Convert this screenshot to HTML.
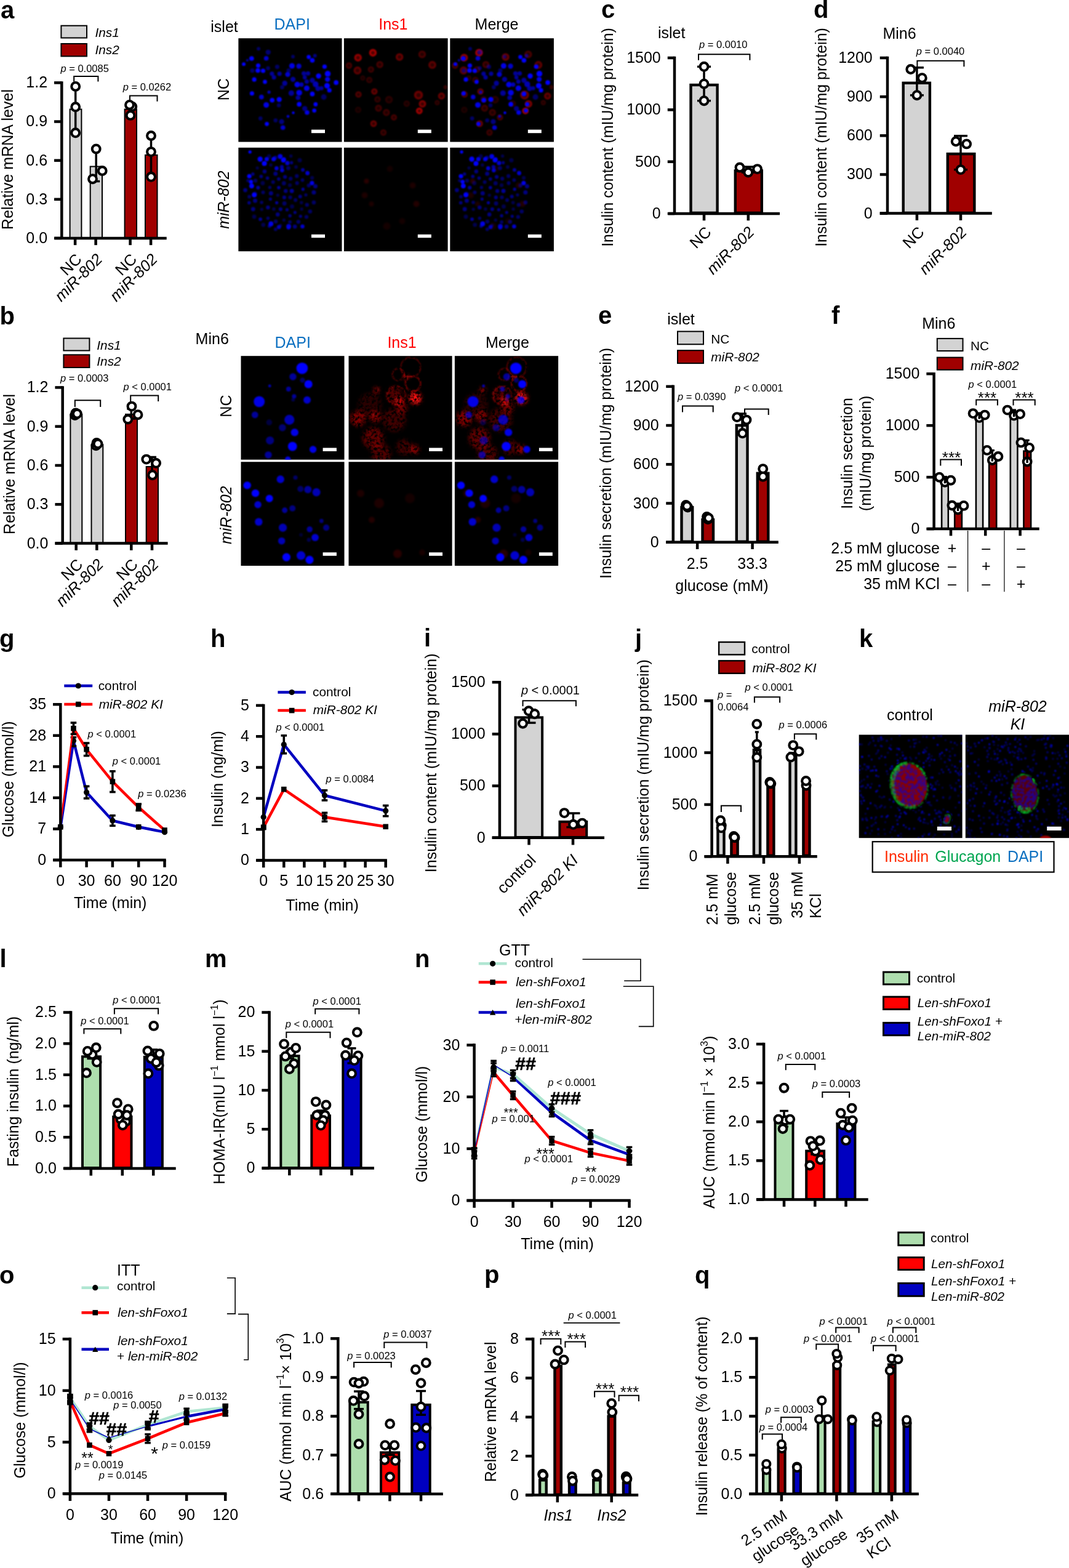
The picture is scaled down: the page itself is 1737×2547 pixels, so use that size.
<!DOCTYPE html>
<html lang="en"><head><meta charset="utf-8"><title>Figure</title>
<style>html,body{margin:0;padding:0;background:#fff}svg{display:block}text{font-family:"Liberation Sans",Arial,Helvetica,sans-serif;fill:#000}line{stroke:#000}</style></head>
<body>
<svg width="1737" height="2547" viewBox="0 0 1737 2547">
<defs><filter id="b1" x="-50%" y="-50%" width="200%" height="200%"><feGaussianBlur stdDeviation="0.9"/></filter><filter id="b2" x="-50%" y="-50%" width="200%" height="200%"><feGaussianBlur stdDeviation="1.6"/></filter><filter id="b3" x="-50%" y="-50%" width="200%" height="200%"><feGaussianBlur stdDeviation="3"/></filter><filter id="spk" x="0" y="0" width="100%" height="100%"><feTurbulence type="fractalNoise" baseFrequency="0.22" numOctaves="2" seed="4" result="n"/><feColorMatrix in="n" type="matrix" values="0 0 0 0 0  0 0 0 0 0  0 0 0 0 0  3 0 0 0 -0.8" result="a"/><feComposite in="SourceGraphic" in2="a" operator="in"/></filter><filter id="b0" x="-5%" y="-5%" width="110%" height="110%"><feGaussianBlur stdDeviation="0.8"/></filter><clipPath id="ca00"><rect x="387.4" y="62.2" width="168.1" height="168.3"/></clipPath><clipPath id="ca01"><rect x="558.9" y="62.2" width="168.7" height="168.3"/></clipPath><clipPath id="ca02"><rect x="731.3" y="62.2" width="168.6" height="168.3"/></clipPath><clipPath id="ca10"><rect x="387.4" y="239.8" width="168.1" height="168.4"/></clipPath><clipPath id="ca11"><rect x="558.9" y="239.8" width="168.7" height="168.4"/></clipPath><clipPath id="ca12"><rect x="731.3" y="239.8" width="168.6" height="168.4"/></clipPath><clipPath id="cb00"><rect x="391.5" y="578.2" width="168" height="168.45"/></clipPath><clipPath id="cb01"><rect x="566.5" y="578.2" width="168.1" height="168.45"/></clipPath><clipPath id="cb02"><rect x="738.9" y="578.2" width="168.2" height="168.45"/></clipPath><clipPath id="cb10"><rect x="391.5" y="750.25" width="168" height="168.75"/></clipPath><clipPath id="cb11"><rect x="566.5" y="750.25" width="168.1" height="168.75"/></clipPath><clipPath id="cb12"><rect x="738.9" y="750.25" width="168.2" height="168.75"/></clipPath><clipPath id="ck0"><rect x="1395.7" y="1193.5" width="167.9" height="167.7"/></clipPath><clipPath id="ck1"><rect x="1568.8" y="1193.5" width="168.2" height="167.7"/></clipPath></defs>
<text x="1" y="30" font-size="40" font-weight="bold">a</text>
<rect x="99.4" y="41.7" width="41.6" height="19.8" fill="#d3d3d3" stroke="#000" stroke-width="2"/>
<rect x="99.4" y="71" width="41.6" height="20.4" fill="#a00000" stroke="#000" stroke-width="2"/>
<text x="154.5" y="60.2" font-size="20.8" font-style="italic">Ins1</text>
<text x="154.5" y="88" font-size="20.8" font-style="italic">Ins2</text>
<rect x="113.6" y="177.5" width="18.8" height="209.5" fill="#d3d3d3" stroke="#000" stroke-width="2"/>
<rect x="146.7" y="270.5" width="19.3" height="116.5" fill="#d3d3d3" stroke="#000" stroke-width="2"/>
<rect x="202.6" y="177.5" width="19.4" height="209.5" fill="#a00000" stroke="#000" stroke-width="2"/>
<rect x="236" y="251.8" width="19.5" height="135.2" fill="#a00000" stroke="#000" stroke-width="2"/>
<line x1="100.3" y1="132.15" x2="100.3" y2="386.9" stroke-width="4.5"/>
<line x1="88.05" y1="134.4" x2="100.3" y2="134.4" stroke-width="4.5"/>
<text x="77.05" y="142.35" font-size="25" text-anchor="end">1.2</text>
<line x1="88.05" y1="197.53" x2="100.3" y2="197.53" stroke-width="4.5"/>
<text x="77.05" y="205.47" font-size="25" text-anchor="end">0.9</text>
<line x1="88.05" y1="260.65" x2="100.3" y2="260.65" stroke-width="4.5"/>
<text x="77.05" y="268.6" font-size="25" text-anchor="end">0.6</text>
<line x1="88.05" y1="323.77" x2="100.3" y2="323.77" stroke-width="4.5"/>
<text x="77.05" y="331.72" font-size="25" text-anchor="end">0.3</text>
<line x1="88.05" y1="386.9" x2="100.3" y2="386.9" stroke-width="4.5"/>
<text x="77.05" y="394.85" font-size="25" text-anchor="end">0.0</text>
<line x1="88.6" y1="386.9" x2="270.7" y2="386.9" stroke-width="4.5"/>
<line x1="122.1" y1="386.9" x2="122.1" y2="398.15" stroke-width="4.5"/>
<line x1="155.6" y1="386.9" x2="155.6" y2="398.15" stroke-width="4.5"/>
<line x1="211.6" y1="386.9" x2="211.6" y2="398.15" stroke-width="4.5"/>
<line x1="245.1" y1="386.9" x2="245.1" y2="398.15" stroke-width="4.5"/>
<line x1="122.7" y1="140.4" x2="122.7" y2="215.8" stroke-width="3.5"/>
<circle cx="122.7" cy="140.4" r="6.4" fill="#fff" stroke="#000" stroke-width="4.1"/>
<circle cx="122.7" cy="173.8" r="6.4" fill="#fff" stroke="#000" stroke-width="4.1"/>
<circle cx="122.7" cy="215.8" r="6.4" fill="#fff" stroke="#000" stroke-width="4.1"/>
<line x1="156.2" y1="242" x2="156.2" y2="294.5" stroke-width="3.5"/>
<line x1="150.2" y1="294.5" x2="162.2" y2="294.5" stroke-width="3.5"/>
<circle cx="156.2" cy="241.9" r="6.4" fill="#fff" stroke="#000" stroke-width="4.1"/>
<circle cx="166.2" cy="277.5" r="6.4" fill="#fff" stroke="#000" stroke-width="4.1"/>
<circle cx="150.5" cy="290.7" r="6.4" fill="#fff" stroke="#000" stroke-width="4.1"/>
<circle cx="214.8" cy="173.2" r="6.4" fill="#fff" stroke="#000" stroke-width="4.1"/>
<circle cx="210.5" cy="170.4" r="6.4" fill="#fff" stroke="#000" stroke-width="4.1"/>
<circle cx="212" cy="187.4" r="6.4" fill="#fff" stroke="#000" stroke-width="4.1"/>
<line x1="245.5" y1="220.5" x2="245.5" y2="287.3" stroke-width="3.5"/>
<circle cx="245.5" cy="220.5" r="6.4" fill="#fff" stroke="#000" stroke-width="4.1"/>
<circle cx="245.5" cy="246.6" r="6.4" fill="#fff" stroke="#000" stroke-width="4.1"/>
<circle cx="245.5" cy="287.3" r="6.4" fill="#fff" stroke="#000" stroke-width="4.1"/>
<text font-size="16.5" x="98.4" y="117"><tspan font-style="italic">p</tspan><tspan> = 0.0085</tspan></text>
<polyline points="120.2,132.5 120.2,124 159.4,124 159.4,132.5" fill="none" stroke="#000" stroke-width="2" stroke-linejoin="miter"/>
<text font-size="16.5" x="199.7" y="146.7"><tspan font-style="italic">p</tspan><tspan> = 0.0262</tspan></text>
<polyline points="211,164.7 211,155.6 255.5,155.6 255.5,164.7" fill="none" stroke="#000" stroke-width="2" stroke-linejoin="miter"/>
<text font-size="25" text-anchor="middle" transform="translate(20.8 259) rotate(-90)">Relative mRNA level</text>
<text font-size="25.6" text-anchor="end" transform="translate(134.3 422.8) rotate(-45)">NC</text>
<text font-size="25.6" text-anchor="end" font-style="italic" transform="translate(167.9 422.8) rotate(-45)">miR-802</text>
<text font-size="25.6" text-anchor="end" transform="translate(223.8 422.8) rotate(-45)">NC</text>
<text font-size="25.6" text-anchor="end" font-style="italic" transform="translate(257.3 422.8) rotate(-45)">miR-802</text>
<text x="977" y="29" font-size="40" font-weight="bold">c</text>
<text x="1069" y="62.3" font-size="25">islet</text>
<rect x="1122.5" y="138" width="43.1" height="207.8" fill="#d3d3d3" stroke="#000" stroke-width="4.4"/>
<rect x="1194.8" y="277.4" width="43" height="68.4" fill="#a00000" stroke="#000" stroke-width="4.4"/>
<line x1="1096" y1="91.75" x2="1096" y2="347" stroke-width="4.5"/>
<line x1="1084.75" y1="94" x2="1096" y2="94" stroke-width="4.5"/>
<text x="1073.75" y="101.95" font-size="25" text-anchor="end">1500</text>
<line x1="1084.75" y1="178.33" x2="1096" y2="178.33" stroke-width="4.5"/>
<text x="1073.75" y="186.28" font-size="25" text-anchor="end">1000</text>
<line x1="1084.75" y1="262.67" x2="1096" y2="262.67" stroke-width="4.5"/>
<text x="1073.75" y="270.62" font-size="25" text-anchor="end">500</text>
<line x1="1084.75" y1="347" x2="1096" y2="347" stroke-width="4.5"/>
<text x="1073.75" y="354.95" font-size="25" text-anchor="end">0</text>
<line x1="1085.9" y1="347" x2="1267" y2="347" stroke-width="4.5"/>
<line x1="1144" y1="347" x2="1144" y2="358.25" stroke-width="4.5"/>
<line x1="1215.8" y1="347" x2="1215.8" y2="358.25" stroke-width="4.5"/>
<line x1="1144" y1="108.3" x2="1144" y2="163.7" stroke-width="3.5"/>
<line x1="1133" y1="108.3" x2="1155" y2="108.3" stroke-width="3.5"/>
<line x1="1133" y1="163.7" x2="1155" y2="163.7" stroke-width="3.5"/>
<circle cx="1144" cy="108.3" r="6.4" fill="#fff" stroke="#000" stroke-width="4.1"/>
<circle cx="1144" cy="136.2" r="6.4" fill="#fff" stroke="#000" stroke-width="4.1"/>
<circle cx="1144" cy="163.7" r="6.4" fill="#fff" stroke="#000" stroke-width="4.1"/>
<line x1="1215.8" y1="271" x2="1215.8" y2="280" stroke-width="3.5"/>
<line x1="1204.8" y1="271" x2="1226.8" y2="271" stroke-width="3.5"/>
<line x1="1204.8" y1="280" x2="1226.8" y2="280" stroke-width="3.5"/>
<circle cx="1202" cy="272" r="6.4" fill="#fff" stroke="#000" stroke-width="4.1"/>
<circle cx="1230.6" cy="274.6" r="6.4" fill="#fff" stroke="#000" stroke-width="4.1"/>
<circle cx="1215.8" cy="280" r="6.4" fill="#fff" stroke="#000" stroke-width="4.1"/>
<text font-size="16.5" x="1136" y="78.2"><tspan font-style="italic">p</tspan><tspan> = 0.0010</tspan></text>
<polyline points="1135,97.7 1135,88.2 1218.4,88.2 1218.4,97.7" fill="none" stroke="#000" stroke-width="2" stroke-linejoin="miter"/>
<text font-size="25" text-anchor="middle" transform="translate(996 223) rotate(-90)">Insulin content (mIU/mg protein)</text>
<text font-size="25.6" text-anchor="end" transform="translate(1157.3 378.8) rotate(-45)">NC</text>
<text font-size="25.6" text-anchor="end" font-style="italic" transform="translate(1227.1 378.8) rotate(-45)">miR-802</text>
<text x="1322" y="29" font-size="40" font-weight="bold">d</text>
<text x="1434.4" y="63.4" font-size="25">Min6</text>
<rect x="1467.7" y="134.8" width="43.2" height="211" fill="#d3d3d3" stroke="#000" stroke-width="4.4"/>
<rect x="1539.8" y="250" width="43.5" height="95.8" fill="#a00000" stroke="#000" stroke-width="4.4"/>
<line x1="1442" y1="91.75" x2="1442" y2="346.6" stroke-width="4.5"/>
<line x1="1429.75" y1="94" x2="1442" y2="94" stroke-width="4.5"/>
<text x="1417.75" y="101.95" font-size="25" text-anchor="end">1200</text>
<line x1="1429.75" y1="157.15" x2="1442" y2="157.15" stroke-width="4.5"/>
<text x="1417.75" y="165.1" font-size="25" text-anchor="end">900</text>
<line x1="1429.75" y1="220.3" x2="1442" y2="220.3" stroke-width="4.5"/>
<text x="1417.75" y="228.25" font-size="25" text-anchor="end">600</text>
<line x1="1429.75" y1="283.45" x2="1442" y2="283.45" stroke-width="4.5"/>
<text x="1417.75" y="291.4" font-size="25" text-anchor="end">300</text>
<line x1="1429.75" y1="346.6" x2="1442" y2="346.6" stroke-width="4.5"/>
<text x="1417.75" y="354.55" font-size="25" text-anchor="end">0</text>
<line x1="1429.7" y1="346.6" x2="1611.8" y2="346.6" stroke-width="4.5"/>
<line x1="1489.9" y1="346.6" x2="1489.9" y2="357.85" stroke-width="4.5"/>
<line x1="1561" y1="346.6" x2="1561" y2="357.85" stroke-width="4.5"/>
<line x1="1489.9" y1="109.8" x2="1489.9" y2="154.7" stroke-width="3.5"/>
<line x1="1478.9" y1="109.8" x2="1500.9" y2="109.8" stroke-width="3.5"/>
<line x1="1478.9" y1="154.7" x2="1500.9" y2="154.7" stroke-width="3.5"/>
<circle cx="1479.8" cy="112.5" r="6.4" fill="#fff" stroke="#000" stroke-width="4.1"/>
<circle cx="1498.3" cy="126.7" r="6.4" fill="#fff" stroke="#000" stroke-width="4.1"/>
<circle cx="1489.9" cy="154.7" r="6.4" fill="#fff" stroke="#000" stroke-width="4.1"/>
<line x1="1561" y1="220.7" x2="1561" y2="275.6" stroke-width="3.5"/>
<line x1="1550" y1="220.7" x2="1572" y2="220.7" stroke-width="3.5"/>
<line x1="1550" y1="275.6" x2="1572" y2="275.6" stroke-width="3.5"/>
<circle cx="1553.2" cy="229.7" r="6.4" fill="#fff" stroke="#000" stroke-width="4.1"/>
<circle cx="1570.6" cy="233.9" r="6.4" fill="#fff" stroke="#000" stroke-width="4.1"/>
<circle cx="1561" cy="275.6" r="6.4" fill="#fff" stroke="#000" stroke-width="4.1"/>
<text font-size="16.5" x="1488.8" y="88.7"><tspan font-style="italic">p</tspan><tspan> = 0.0040</tspan></text>
<polyline points="1490.4,108.3 1490.4,98.7 1566.4,98.7 1566.4,108.3" fill="none" stroke="#000" stroke-width="2" stroke-linejoin="miter"/>
<text font-size="25" text-anchor="middle" transform="translate(1343.2 223) rotate(-90)">Insulin content (mIU/mg protein)</text>
<text font-size="25.6" text-anchor="end" transform="translate(1503.3 378.8) rotate(-45)">NC</text>
<text font-size="25.6" text-anchor="end" font-style="italic" transform="translate(1572.3 378.8) rotate(-45)">miR-802</text>
<text x="-0.5" y="526.6" font-size="40" font-weight="bold">b</text>
<rect x="103.4" y="549.5" width="42" height="20" fill="#d3d3d3" stroke="#000" stroke-width="2"/>
<rect x="103.4" y="576.3" width="42" height="20.7" fill="#a00000" stroke="#000" stroke-width="2"/>
<text x="157.3" y="567.6" font-size="20.8" font-style="italic">Ins1</text>
<text x="157.3" y="594.3" font-size="20.8" font-style="italic">Ins2</text>
<rect x="114.4" y="672.9" width="18.9" height="210.1" fill="#d3d3d3" stroke="#000" stroke-width="2"/>
<rect x="148.5" y="722.2" width="18.8" height="160.8" fill="#d3d3d3" stroke="#000" stroke-width="2"/>
<rect x="204" y="672.9" width="19" height="210.1" fill="#a00000" stroke="#000" stroke-width="2"/>
<rect x="237.7" y="758" width="19.3" height="125" fill="#a00000" stroke="#000" stroke-width="2"/>
<line x1="101.7" y1="627.15" x2="101.7" y2="882.6" stroke-width="4.5"/>
<line x1="89.45" y1="629.4" x2="101.7" y2="629.4" stroke-width="4.5"/>
<text x="78.45" y="637.35" font-size="25" text-anchor="end">1.2</text>
<line x1="89.45" y1="692.7" x2="101.7" y2="692.7" stroke-width="4.5"/>
<text x="78.45" y="700.65" font-size="25" text-anchor="end">0.9</text>
<line x1="89.45" y1="756" x2="101.7" y2="756" stroke-width="4.5"/>
<text x="78.45" y="763.95" font-size="25" text-anchor="end">0.6</text>
<line x1="89.45" y1="819.3" x2="101.7" y2="819.3" stroke-width="4.5"/>
<text x="78.45" y="827.25" font-size="25" text-anchor="end">0.3</text>
<line x1="89.45" y1="882.6" x2="101.7" y2="882.6" stroke-width="4.5"/>
<text x="78.45" y="890.55" font-size="25" text-anchor="end">0.0</text>
<line x1="89.6" y1="882.6" x2="272.6" y2="882.6" stroke-width="4.5"/>
<line x1="123.7" y1="882.6" x2="123.7" y2="893.85" stroke-width="4.5"/>
<line x1="157.3" y1="882.6" x2="157.3" y2="893.85" stroke-width="4.5"/>
<line x1="213.3" y1="882.6" x2="213.3" y2="893.85" stroke-width="4.5"/>
<line x1="247" y1="882.6" x2="247" y2="893.85" stroke-width="4.5"/>
<circle cx="121.8" cy="674.6" r="6.4" fill="#fff" stroke="#000" stroke-width="4.1"/>
<circle cx="123" cy="671" r="6.4" fill="#fff" stroke="#000" stroke-width="4.1"/>
<circle cx="125.3" cy="672.1" r="6.4" fill="#fff" stroke="#000" stroke-width="4.1"/>
<circle cx="156" cy="723.8" r="6.4" fill="#fff" stroke="#000" stroke-width="4.1"/>
<circle cx="157" cy="719.5" r="6.4" fill="#fff" stroke="#000" stroke-width="4.1"/>
<circle cx="159" cy="720.9" r="6.4" fill="#fff" stroke="#000" stroke-width="4.1"/>
<line x1="213.3" y1="664" x2="213.3" y2="680" stroke-width="3.5"/>
<line x1="206.3" y1="664" x2="220.3" y2="664" stroke-width="3.5"/>
<line x1="206.3" y1="680" x2="220.3" y2="680" stroke-width="3.5"/>
<circle cx="214" cy="660.1" r="6.4" fill="#fff" stroke="#000" stroke-width="4.1"/>
<circle cx="224" cy="673.7" r="6.4" fill="#fff" stroke="#000" stroke-width="4.1"/>
<circle cx="207.8" cy="681" r="6.4" fill="#fff" stroke="#000" stroke-width="4.1"/>
<line x1="247" y1="742.5" x2="247" y2="771" stroke-width="3.5"/>
<line x1="240" y1="742.5" x2="254" y2="742.5" stroke-width="3.5"/>
<line x1="240" y1="771" x2="254" y2="771" stroke-width="3.5"/>
<circle cx="237.8" cy="746.1" r="6.4" fill="#fff" stroke="#000" stroke-width="4.1"/>
<circle cx="253.6" cy="752.3" r="6.4" fill="#fff" stroke="#000" stroke-width="4.1"/>
<circle cx="247.7" cy="771.7" r="6.4" fill="#fff" stroke="#000" stroke-width="4.1"/>
<text font-size="16.5" x="98" y="619.9"><tspan font-style="italic">p</tspan><tspan> = 0.0003</tspan></text>
<polyline points="121.8,660.9 121.8,650.3 163.2,650.3 163.2,660.9" fill="none" stroke="#000" stroke-width="2" stroke-linejoin="miter"/>
<text font-size="16.5" x="200.5" y="633.8"><tspan font-style="italic">p</tspan><tspan> &lt; 0.0001</tspan></text>
<polyline points="212.2,652 212.2,642.6 257.2,642.6 257.2,652" fill="none" stroke="#000" stroke-width="2" stroke-linejoin="miter"/>
<text font-size="25" text-anchor="middle" transform="translate(23.8 754) rotate(-90)">Relative mRNA level</text>
<text font-size="25.6" text-anchor="end" transform="translate(136 918.4) rotate(-45)">NC</text>
<text font-size="25.6" text-anchor="end" font-style="italic" transform="translate(169.6 918.4) rotate(-45)">miR-802</text>
<text font-size="25.6" text-anchor="end" transform="translate(225.6 918.4) rotate(-45)">NC</text>
<text font-size="25.6" text-anchor="end" font-style="italic" transform="translate(259.3 918.4) rotate(-45)">miR-802</text>
<text x="972" y="526.3" font-size="40" font-weight="bold">e</text>
<text x="1084.3" y="526.8" font-size="25">islet</text>
<rect x="1101" y="538.4" width="42" height="20.9" fill="#d3d3d3" stroke="#000" stroke-width="2"/>
<rect x="1101" y="569.2" width="42" height="20.9" fill="#a00000" stroke="#000" stroke-width="2"/>
<text x="1155.2" y="558" font-size="20.8">NC</text>
<text x="1155.2" y="586.6" font-size="20.8" font-style="italic">miR-802</text>
<rect x="1107.5" y="824.1" width="17.7" height="55.7" fill="#d3d3d3" stroke="#000" stroke-width="4.4"/>
<rect x="1141.5" y="844.2" width="17.5" height="35.6" fill="#a00000" stroke="#000" stroke-width="4.4"/>
<rect x="1196.8" y="690.9" width="17.7" height="188.9" fill="#d3d3d3" stroke="#000" stroke-width="4.4"/>
<rect x="1230.8" y="768.8" width="17.5" height="111" fill="#a00000" stroke="#000" stroke-width="4.4"/>
<line x1="1093.8" y1="625.55" x2="1093.8" y2="880.8" stroke-width="4.5"/>
<line x1="1082.25" y1="627.8" x2="1093.8" y2="627.8" stroke-width="4.5"/>
<text x="1070.55" y="635.75" font-size="25" text-anchor="end">1200</text>
<line x1="1082.25" y1="691.05" x2="1093.8" y2="691.05" stroke-width="4.5"/>
<text x="1070.55" y="699" font-size="25" text-anchor="end">900</text>
<line x1="1082.25" y1="754.3" x2="1093.8" y2="754.3" stroke-width="4.5"/>
<text x="1070.55" y="762.25" font-size="25" text-anchor="end">600</text>
<line x1="1082.25" y1="817.55" x2="1093.8" y2="817.55" stroke-width="4.5"/>
<text x="1070.55" y="825.5" font-size="25" text-anchor="end">300</text>
<line x1="1082.25" y1="880.8" x2="1093.8" y2="880.8" stroke-width="4.5"/>
<text x="1070.55" y="888.75" font-size="25" text-anchor="end">0</text>
<line x1="1082.2" y1="880.8" x2="1264.8" y2="880.8" stroke-width="4.5"/>
<line x1="1133.1" y1="880.8" x2="1133.1" y2="892.05" stroke-width="4.5"/>
<line x1="1222.6" y1="880.8" x2="1222.6" y2="892.05" stroke-width="4.5"/>
<circle cx="1114.5" cy="820.5" r="6.4" fill="#fff" stroke="#000" stroke-width="4.1"/>
<circle cx="1117.5" cy="824" r="6.4" fill="#fff" stroke="#000" stroke-width="4.1"/>
<circle cx="1116.3" cy="822" r="6.4" fill="#fff" stroke="#000" stroke-width="4.1"/>
<circle cx="1148.5" cy="839.5" r="6.4" fill="#fff" stroke="#000" stroke-width="4.1"/>
<circle cx="1150.3" cy="843.5" r="6.4" fill="#fff" stroke="#000" stroke-width="4.1"/>
<circle cx="1151.5" cy="841.5" r="6.4" fill="#fff" stroke="#000" stroke-width="4.1"/>
<line x1="1206" y1="672" x2="1206" y2="704" stroke-width="3.5"/>
<line x1="1199" y1="672" x2="1213" y2="672" stroke-width="3.5"/>
<line x1="1199" y1="704" x2="1213" y2="704" stroke-width="3.5"/>
<circle cx="1197.5" cy="677.6" r="6.4" fill="#fff" stroke="#000" stroke-width="4.1"/>
<circle cx="1213" cy="682.1" r="6.4" fill="#fff" stroke="#000" stroke-width="4.1"/>
<circle cx="1206.5" cy="703.8" r="6.4" fill="#fff" stroke="#000" stroke-width="4.1"/>
<circle cx="1239.7" cy="761.6" r="6.4" fill="#fff" stroke="#000" stroke-width="4.1"/>
<circle cx="1239.7" cy="774.2" r="6.4" fill="#fff" stroke="#000" stroke-width="4.1"/>
<text font-size="16.5" x="1100.9" y="649.5"><tspan font-style="italic">p</tspan><tspan> = 0.0390</tspan></text>
<polyline points="1109,669.6 1109,659.5 1158.7,659.5 1158.7,669.6" fill="none" stroke="#000" stroke-width="2" stroke-linejoin="miter"/>
<text font-size="16.5" x="1193.9" y="635.9"><tspan font-style="italic">p</tspan><tspan> &lt; 0.0001</tspan></text>
<polyline points="1210,674.1 1210,664.5 1248.7,664.5 1248.7,674.1" fill="none" stroke="#000" stroke-width="2" stroke-linejoin="miter"/>
<text x="1133.1" y="923.5" font-size="25" text-anchor="middle">2.5</text>
<text x="1222.6" y="923.5" font-size="25" text-anchor="middle">33.3</text>
<text x="1173" y="960" font-size="25" text-anchor="middle">glucose (mM)</text>
<text font-size="25" text-anchor="middle" transform="translate(992.8 752.5) rotate(-90)">Insulin secretion (mIU/mg protein)</text>
<text x="1351" y="526.3" font-size="40" font-weight="bold">f</text>
<text x="1498.2" y="534.3" font-size="25">Min6</text>
<rect x="1522.8" y="549.9" width="41.7" height="20.1" fill="#d3d3d3" stroke="#000" stroke-width="2"/>
<rect x="1522.8" y="580.6" width="41.7" height="20.1" fill="#a00000" stroke="#000" stroke-width="2"/>
<text x="1577.1" y="569" font-size="20.8">NC</text>
<text x="1577.1" y="600.7" font-size="20.8" font-style="italic">miR-802</text>
<rect x="1530.1" y="783" width="10.7" height="75.7" fill="#d3d3d3" stroke="#000" stroke-width="2.6"/>
<rect x="1551.2" y="828.3" width="11.7" height="30.4" fill="#a00000" stroke="#000" stroke-width="2.6"/>
<rect x="1585.9" y="677.4" width="11.2" height="181.3" fill="#d3d3d3" stroke="#000" stroke-width="2.6"/>
<rect x="1607.1" y="745.3" width="12.1" height="113.4" fill="#a00000" stroke="#000" stroke-width="2.6"/>
<rect x="1641.8" y="674.9" width="11.6" height="183.8" fill="#d3d3d3" stroke="#000" stroke-width="2.6"/>
<rect x="1663.4" y="732.7" width="11.7" height="126" fill="#a00000" stroke="#000" stroke-width="2.6"/>
<line x1="1517.6" y1="604.95" x2="1517.6" y2="859.1" stroke-width="4.5"/>
<line x1="1505.35" y1="607.2" x2="1517.6" y2="607.2" stroke-width="4.5"/>
<text x="1494.35" y="615.15" font-size="25" text-anchor="end">1500</text>
<line x1="1505.35" y1="691.17" x2="1517.6" y2="691.17" stroke-width="4.5"/>
<text x="1494.35" y="699.12" font-size="25" text-anchor="end">1000</text>
<line x1="1505.35" y1="775.13" x2="1517.6" y2="775.13" stroke-width="4.5"/>
<text x="1494.35" y="783.08" font-size="25" text-anchor="end">500</text>
<line x1="1505.35" y1="859.1" x2="1517.6" y2="859.1" stroke-width="4.5"/>
<text x="1494.35" y="867.05" font-size="25" text-anchor="end">0</text>
<line x1="1506.7" y1="859.1" x2="1688.7" y2="859.1" stroke-width="4.5"/>
<line x1="1545" y1="859.1" x2="1545" y2="870.35" stroke-width="4.5"/>
<line x1="1601.2" y1="859.1" x2="1601.2" y2="870.35" stroke-width="4.5"/>
<line x1="1657.6" y1="859.1" x2="1657.6" y2="870.35" stroke-width="4.5"/>
<circle cx="1535.4" cy="783.2" r="6.4" fill="#fff" stroke="#000" stroke-width="4.1"/>
<line x1="1535.4" y1="773.5" x2="1535.4" y2="785.2" stroke-width="3.4"/>
<line x1="1531.8" y1="774.5" x2="1539" y2="774.5" stroke-width="3.2"/>
<circle cx="1526.3" cy="775.2" r="6.4" fill="#fff" stroke="#000" stroke-width="4.1"/>
<circle cx="1544.9" cy="780.2" r="6.4" fill="#fff" stroke="#000" stroke-width="4.1"/>
<circle cx="1556.5" cy="828" r="6.4" fill="#fff" stroke="#000" stroke-width="4.1"/>
<line x1="1556.5" y1="817" x2="1556.5" y2="830" stroke-width="3.4"/>
<line x1="1552.9" y1="818" x2="1560.1" y2="818" stroke-width="3.2"/>
<circle cx="1546.9" cy="821" r="6.4" fill="#fff" stroke="#000" stroke-width="4.1"/>
<circle cx="1566" cy="821.4" r="6.4" fill="#fff" stroke="#000" stroke-width="4.1"/>
<circle cx="1591.2" cy="678.6" r="6.4" fill="#fff" stroke="#000" stroke-width="4.1"/>
<line x1="1591.2" y1="670" x2="1591.2" y2="680.6" stroke-width="3.4"/>
<line x1="1587.6" y1="671" x2="1594.8" y2="671" stroke-width="3.2"/>
<circle cx="1581.1" cy="671.6" r="6.4" fill="#fff" stroke="#000" stroke-width="4.1"/>
<circle cx="1600.2" cy="674.1" r="6.4" fill="#fff" stroke="#000" stroke-width="4.1"/>
<circle cx="1612.3" cy="747.5" r="6.4" fill="#fff" stroke="#000" stroke-width="4.1"/>
<line x1="1612.3" y1="730.6" x2="1612.3" y2="749.5" stroke-width="3.4"/>
<line x1="1608.7" y1="731.6" x2="1615.9" y2="731.6" stroke-width="3.2"/>
<circle cx="1603.8" cy="731.4" r="6.4" fill="#fff" stroke="#000" stroke-width="4.1"/>
<circle cx="1621.9" cy="741.5" r="6.4" fill="#fff" stroke="#000" stroke-width="4.1"/>
<circle cx="1647.5" cy="675.1" r="6.4" fill="#fff" stroke="#000" stroke-width="4.1"/>
<line x1="1647.5" y1="665" x2="1647.5" y2="677.1" stroke-width="3.4"/>
<line x1="1643.9" y1="666" x2="1651.1" y2="666" stroke-width="3.2"/>
<circle cx="1636.9" cy="666.1" r="6.4" fill="#fff" stroke="#000" stroke-width="4.1"/>
<circle cx="1657.6" cy="672.6" r="6.4" fill="#fff" stroke="#000" stroke-width="4.1"/>
<circle cx="1669.1" cy="750" r="6.4" fill="#fff" stroke="#000" stroke-width="4.1"/>
<line x1="1669.1" y1="714.2" x2="1669.1" y2="752" stroke-width="3.4"/>
<line x1="1665.5" y1="715.2" x2="1672.7" y2="715.2" stroke-width="3.2"/>
<circle cx="1659" cy="718.9" r="6.4" fill="#fff" stroke="#000" stroke-width="4.1"/>
<circle cx="1672.6" cy="727.4" r="6.4" fill="#fff" stroke="#000" stroke-width="4.1"/>
<text x="1546" y="752.3" font-size="26" text-anchor="middle">***</text>
<text x="1604" y="655.3" font-size="26" text-anchor="middle">***</text>
<text x="1664.5" y="655.3" font-size="26" text-anchor="middle">***</text>
<polyline points="1528.3,756.6 1528.3,746.5 1562,746.5 1562,756.6" fill="none" stroke="#000" stroke-width="2" stroke-linejoin="miter"/>
<polyline points="1586.2,658.5 1586.2,649.5 1620.9,649.5 1620.9,658.5" fill="none" stroke="#000" stroke-width="2" stroke-linejoin="miter"/>
<polyline points="1646.5,658.5 1646.5,649.5 1681.7,649.5 1681.7,658.5" fill="none" stroke="#000" stroke-width="2" stroke-linejoin="miter"/>
<text font-size="16.5" x="1573.6" y="629.8"><tspan font-style="italic">p</tspan><tspan> &lt; 0.0001</tspan></text>
<text font-size="25" text-anchor="middle" transform="translate(1385 736.4) rotate(-90)">Insulin secretion</text>
<text font-size="25" text-anchor="middle" transform="translate(1414.5 736.4) rotate(-90)">(mIU/mg protein)</text>
<text x="1526.8" y="898.9" font-size="25" text-anchor="end">2.5 mM glucose</text>
<text x="1547" y="898.9" font-size="25" text-anchor="middle">+</text>
<text x="1602.2" y="898.9" font-size="25" text-anchor="middle">–</text>
<text x="1659" y="898.9" font-size="25" text-anchor="middle">–</text>
<text x="1526.8" y="928" font-size="25" text-anchor="end">25 mM glucose</text>
<text x="1547" y="928" font-size="25" text-anchor="middle">–</text>
<text x="1602.2" y="928" font-size="25" text-anchor="middle">+</text>
<text x="1659" y="928" font-size="25" text-anchor="middle">–</text>
<text x="1526.8" y="956.7" font-size="25" text-anchor="end">35 mM KCl</text>
<text x="1547" y="956.7" font-size="25" text-anchor="middle">–</text>
<text x="1602.2" y="956.7" font-size="25" text-anchor="middle">–</text>
<text x="1659" y="956.7" font-size="25" text-anchor="middle">+</text>
<line x1="1572.6" y1="862" x2="1572.6" y2="961.2" stroke-width="1.2"/>
<line x1="1631.9" y1="862" x2="1631.9" y2="961.2" stroke-width="1.2"/>
<text x="-1" y="1051" font-size="40" font-weight="bold">g</text>
<line x1="104.3" y1="1114" x2="150.2" y2="1114" stroke-width="4.5" style="stroke:#0000c0"/>
<circle cx="127.25" cy="1114" r="4.6" fill="#000" stroke="none"/>
<line x1="104.3" y1="1144" x2="150.2" y2="1144" stroke-width="4.5" style="stroke:#ff0000"/>
<rect x="122.95" y="1139.7" width="8.6" height="8.6" fill="#000" stroke="none"/>
<text x="159.7" y="1120.6" font-size="20.8">control</text>
<text x="160.8" y="1150.8" font-size="20.8" font-style="italic">miR-802 KI</text>
<polyline points="98.3,1343.3 119.45,1203.3 140.6,1287.1 182.9,1333 225.2,1343.3 267.5,1351.6" fill="none" stroke="#0000c0" stroke-width="4.5" stroke-linejoin="round"/>
<line x1="119.45" y1="1197.7" x2="119.45" y2="1212" stroke-width="3.6"/>
<line x1="114.65" y1="1197.7" x2="124.25" y2="1197.7" stroke-width="3.6"/>
<line x1="114.65" y1="1212" x2="124.25" y2="1212" stroke-width="3.6"/>
<line x1="140.6" y1="1277.2" x2="140.6" y2="1296.9" stroke-width="3.6"/>
<line x1="135.8" y1="1277.2" x2="145.4" y2="1277.2" stroke-width="3.6"/>
<line x1="135.8" y1="1296.9" x2="145.4" y2="1296.9" stroke-width="3.6"/>
<line x1="182.9" y1="1324.7" x2="182.9" y2="1341.3" stroke-width="3.6"/>
<line x1="178.1" y1="1324.7" x2="187.7" y2="1324.7" stroke-width="3.6"/>
<line x1="178.1" y1="1341.3" x2="187.7" y2="1341.3" stroke-width="3.6"/>
<circle cx="98.3" cy="1343.3" r="4.6" fill="#000" stroke="none"/>
<circle cx="119.45" cy="1203.3" r="4.6" fill="#000" stroke="none"/>
<circle cx="140.6" cy="1287.1" r="4.6" fill="#000" stroke="none"/>
<circle cx="182.9" cy="1333" r="4.6" fill="#000" stroke="none"/>
<circle cx="225.2" cy="1343.3" r="4.6" fill="#000" stroke="none"/>
<circle cx="267.5" cy="1351.6" r="4.6" fill="#000" stroke="none"/>
<polyline points="97.7,1343.3 118.85,1183.2" fill="none" stroke="#ff0000" stroke-width="2.6" stroke-linejoin="miter"/>
<polyline points="119.45,1183.2 140.6,1217.3 182.9,1269.6 225.2,1311.3 267.5,1348.5" fill="none" stroke="#ff0000" stroke-width="4.5" stroke-linejoin="round"/>
<line x1="119.45" y1="1174" x2="119.45" y2="1192.5" stroke-width="3.6"/>
<line x1="114.65" y1="1174" x2="124.25" y2="1174" stroke-width="3.6"/>
<line x1="114.65" y1="1192.5" x2="124.25" y2="1192.5" stroke-width="3.6"/>
<line x1="140.6" y1="1207" x2="140.6" y2="1227.6" stroke-width="3.6"/>
<line x1="135.8" y1="1207" x2="145.4" y2="1207" stroke-width="3.6"/>
<line x1="135.8" y1="1227.6" x2="145.4" y2="1227.6" stroke-width="3.6"/>
<line x1="182.9" y1="1252.8" x2="182.9" y2="1286.5" stroke-width="3.6"/>
<line x1="178.1" y1="1252.8" x2="187.7" y2="1252.8" stroke-width="3.6"/>
<line x1="178.1" y1="1286.5" x2="187.7" y2="1286.5" stroke-width="3.6"/>
<line x1="225.2" y1="1306" x2="225.2" y2="1316.5" stroke-width="3.6"/>
<line x1="220.4" y1="1306" x2="230" y2="1306" stroke-width="3.6"/>
<line x1="220.4" y1="1316.5" x2="230" y2="1316.5" stroke-width="3.6"/>
<rect x="94" y="1339" width="8.6" height="8.6" fill="#000" stroke="none"/>
<rect x="115.15" y="1178.9" width="8.6" height="8.6" fill="#000" stroke="none"/>
<rect x="136.3" y="1213" width="8.6" height="8.6" fill="#000" stroke="none"/>
<rect x="178.6" y="1265.3" width="8.6" height="8.6" fill="#000" stroke="none"/>
<rect x="220.9" y="1307" width="8.6" height="8.6" fill="#000" stroke="none"/>
<rect x="263.2" y="1344.2" width="8.6" height="8.6" fill="#000" stroke="none"/>
<circle cx="267.5" cy="1351.6" r="4.6" fill="#000" stroke="none"/>
<rect x="220.9" y="1339" width="8.6" height="8.6" fill="#000" stroke="none"/>
<line x1="98.3" y1="1141.95" x2="98.3" y2="1397" stroke-width="4.5"/>
<line x1="86.05" y1="1144.2" x2="98.3" y2="1144.2" stroke-width="4.5"/>
<text x="75.05" y="1152.15" font-size="25" text-anchor="end">35</text>
<line x1="86.05" y1="1194.76" x2="98.3" y2="1194.76" stroke-width="4.5"/>
<text x="75.05" y="1202.71" font-size="25" text-anchor="end">28</text>
<line x1="86.05" y1="1245.32" x2="98.3" y2="1245.32" stroke-width="4.5"/>
<text x="75.05" y="1253.27" font-size="25" text-anchor="end">21</text>
<line x1="86.05" y1="1295.88" x2="98.3" y2="1295.88" stroke-width="4.5"/>
<text x="75.05" y="1303.83" font-size="25" text-anchor="end">14</text>
<line x1="86.05" y1="1346.44" x2="98.3" y2="1346.44" stroke-width="4.5"/>
<text x="75.05" y="1354.39" font-size="25" text-anchor="end">7</text>
<line x1="86.05" y1="1397" x2="98.3" y2="1397" stroke-width="4.5"/>
<text x="75.05" y="1404.95" font-size="25" text-anchor="end">0</text>
<line x1="86.4" y1="1397" x2="269.7" y2="1397" stroke-width="4.5"/>
<line x1="98.3" y1="1397" x2="98.3" y2="1408.75" stroke-width="4.5"/>
<line x1="140.6" y1="1397" x2="140.6" y2="1408.75" stroke-width="4.5"/>
<line x1="182.9" y1="1397" x2="182.9" y2="1408.75" stroke-width="4.5"/>
<line x1="225.2" y1="1397" x2="225.2" y2="1408.75" stroke-width="4.5"/>
<line x1="267.5" y1="1397" x2="267.5" y2="1408.75" stroke-width="4.5"/>
<text x="98.3" y="1439" font-size="25" text-anchor="middle">0</text>
<text x="140.6" y="1439" font-size="25" text-anchor="middle">30</text>
<text x="182.9" y="1439" font-size="25" text-anchor="middle">60</text>
<text x="225.2" y="1439" font-size="25" text-anchor="middle">90</text>
<text x="267.5" y="1439" font-size="25" text-anchor="middle">120</text>
<text x="179.2" y="1474.5" font-size="25" text-anchor="middle">Time (min)</text>
<text font-size="25" text-anchor="middle" transform="translate(21.7 1265.9) rotate(-90)">Glucose (mmol/l)</text>
<text font-size="16.5" x="142.6" y="1197.7"><tspan font-style="italic">p</tspan><tspan> &lt; 0.0001</tspan></text>
<text font-size="16.5" x="182.8" y="1242.1"><tspan font-style="italic">p</tspan><tspan> &lt; 0.0001</tspan></text>
<text font-size="16.5" x="224.2" y="1294.8"><tspan font-style="italic">p</tspan><tspan> = 0.0236</tspan></text>
<text x="342" y="1051.1" font-size="40" font-weight="bold">h</text>
<line x1="451.4" y1="1124.5" x2="496.9" y2="1124.5" stroke-width="4.5" style="stroke:#0000c0"/>
<circle cx="474.15" cy="1124.5" r="4.6" fill="#000" stroke="none"/>
<line x1="451.4" y1="1154.1" x2="496.9" y2="1154.1" stroke-width="4.5" style="stroke:#ff0000"/>
<rect x="469.85" y="1149.8" width="8.6" height="8.6" fill="#000" stroke="none"/>
<text x="508" y="1130.5" font-size="20.8">control</text>
<text x="508.8" y="1159.9" font-size="20.8" font-style="italic">miR-802 KI</text>
<polyline points="428.2,1343.9 461.28,1282.1 527.45,1327.2 626.7,1342.8" fill="none" stroke="#ff0000" stroke-width="4.5" stroke-linejoin="round"/>
<line x1="527.45" y1="1320.3" x2="527.45" y2="1334.3" stroke-width="3.6"/>
<line x1="522.65" y1="1320.3" x2="532.25" y2="1320.3" stroke-width="3.6"/>
<line x1="522.65" y1="1334.3" x2="532.25" y2="1334.3" stroke-width="3.6"/>
<rect x="423.9" y="1339.6" width="8.6" height="8.6" fill="#000" stroke="none"/>
<rect x="456.98" y="1277.8" width="8.6" height="8.6" fill="#000" stroke="none"/>
<rect x="523.15" y="1322.9" width="8.6" height="8.6" fill="#000" stroke="none"/>
<rect x="622.4" y="1338.5" width="8.6" height="8.6" fill="#000" stroke="none"/>
<polyline points="428.2,1327.2 461.28,1209.4 527.45,1292 626.7,1317.1" fill="none" stroke="#0000c0" stroke-width="4.5" stroke-linejoin="round"/>
<line x1="461.28" y1="1194.8" x2="461.28" y2="1223.8" stroke-width="3.6"/>
<line x1="456.48" y1="1194.8" x2="466.08" y2="1194.8" stroke-width="3.6"/>
<line x1="456.48" y1="1223.8" x2="466.08" y2="1223.8" stroke-width="3.6"/>
<line x1="527.45" y1="1283.8" x2="527.45" y2="1300" stroke-width="3.6"/>
<line x1="522.65" y1="1283.8" x2="532.25" y2="1283.8" stroke-width="3.6"/>
<line x1="522.65" y1="1300" x2="532.25" y2="1300" stroke-width="3.6"/>
<line x1="626.7" y1="1308.5" x2="626.7" y2="1325.7" stroke-width="3.6"/>
<line x1="621.9" y1="1308.5" x2="631.5" y2="1308.5" stroke-width="3.6"/>
<line x1="621.9" y1="1325.7" x2="631.5" y2="1325.7" stroke-width="3.6"/>
<circle cx="428.2" cy="1327.2" r="4.6" fill="#000" stroke="none"/>
<circle cx="461.28" cy="1209.4" r="4.6" fill="#000" stroke="none"/>
<circle cx="527.45" cy="1292" r="4.6" fill="#000" stroke="none"/>
<circle cx="626.7" cy="1317.1" r="4.6" fill="#000" stroke="none"/>
<rect x="423.9" y="1339.6" width="8.6" height="8.6" fill="#000" stroke="none"/>
<line x1="428.2" y1="1143.65" x2="428.2" y2="1397.5" stroke-width="4.5"/>
<line x1="415.95" y1="1145.9" x2="428.2" y2="1145.9" stroke-width="4.5"/>
<text x="404.95" y="1153.85" font-size="25" text-anchor="end">5</text>
<line x1="415.95" y1="1196.22" x2="428.2" y2="1196.22" stroke-width="4.5"/>
<text x="404.95" y="1204.17" font-size="25" text-anchor="end">4</text>
<line x1="415.95" y1="1246.54" x2="428.2" y2="1246.54" stroke-width="4.5"/>
<text x="404.95" y="1254.49" font-size="25" text-anchor="end">3</text>
<line x1="415.95" y1="1296.86" x2="428.2" y2="1296.86" stroke-width="4.5"/>
<text x="404.95" y="1304.81" font-size="25" text-anchor="end">2</text>
<line x1="415.95" y1="1347.18" x2="428.2" y2="1347.18" stroke-width="4.5"/>
<text x="404.95" y="1355.13" font-size="25" text-anchor="end">1</text>
<line x1="415.95" y1="1397.5" x2="428.2" y2="1397.5" stroke-width="4.5"/>
<text x="404.95" y="1405.45" font-size="25" text-anchor="end">0</text>
<line x1="416.4" y1="1397.5" x2="628.9" y2="1397.5" stroke-width="4.5"/>
<line x1="428.2" y1="1397.5" x2="428.2" y2="1409.25" stroke-width="4.5"/>
<line x1="461.28" y1="1397.5" x2="461.28" y2="1409.25" stroke-width="4.5"/>
<line x1="494.37" y1="1397.5" x2="494.37" y2="1409.25" stroke-width="4.5"/>
<line x1="527.45" y1="1397.5" x2="527.45" y2="1409.25" stroke-width="4.5"/>
<line x1="560.53" y1="1397.5" x2="560.53" y2="1409.25" stroke-width="4.5"/>
<line x1="593.62" y1="1397.5" x2="593.62" y2="1409.25" stroke-width="4.5"/>
<line x1="626.7" y1="1397.5" x2="626.7" y2="1409.25" stroke-width="4.5"/>
<text x="428.2" y="1439.4" font-size="25" text-anchor="middle">0</text>
<text x="461.28" y="1439.4" font-size="25" text-anchor="middle">5</text>
<text x="494.37" y="1439.4" font-size="25" text-anchor="middle">10</text>
<text x="527.45" y="1439.4" font-size="25" text-anchor="middle">15</text>
<text x="560.53" y="1439.4" font-size="25" text-anchor="middle">20</text>
<text x="593.62" y="1439.4" font-size="25" text-anchor="middle">25</text>
<text x="626.7" y="1439.4" font-size="25" text-anchor="middle">30</text>
<text x="523.6" y="1479" font-size="25" text-anchor="middle">Time (min)</text>
<text font-size="25" text-anchor="middle" transform="translate(362.2 1265.6) rotate(-90)">Insulin (ng/ml)</text>
<text font-size="16.5" x="448.6" y="1187.3"><tspan font-style="italic">p</tspan><tspan> &lt; 0.0001</tspan></text>
<text font-size="16.5" x="529.5" y="1271"><tspan font-style="italic">p</tspan><tspan> = 0.0084</tspan></text>
<text x="689" y="1050.3" font-size="40" font-weight="bold">i</text>
<rect x="837.5" y="1165.4" width="43.6" height="194.6" fill="#d3d3d3" stroke="#000" stroke-width="4"/>
<rect x="909.4" y="1334.8" width="43.8" height="25.2" fill="#a00000" stroke="#000" stroke-width="4"/>
<line x1="811.9" y1="1105.95" x2="811.9" y2="1360.7" stroke-width="4.5"/>
<line x1="799.65" y1="1108.2" x2="811.9" y2="1108.2" stroke-width="4.5"/>
<text x="788.65" y="1116.15" font-size="25" text-anchor="end">1500</text>
<line x1="799.65" y1="1192.37" x2="811.9" y2="1192.37" stroke-width="4.5"/>
<text x="788.65" y="1200.32" font-size="25" text-anchor="end">1000</text>
<line x1="799.65" y1="1276.53" x2="811.9" y2="1276.53" stroke-width="4.5"/>
<text x="788.65" y="1284.48" font-size="25" text-anchor="end">500</text>
<line x1="799.65" y1="1360.7" x2="811.9" y2="1360.7" stroke-width="4.5"/>
<text x="788.65" y="1368.65" font-size="25" text-anchor="end">0</text>
<line x1="799.7" y1="1360.7" x2="982" y2="1360.7" stroke-width="4.5"/>
<line x1="859.5" y1="1360.7" x2="859.5" y2="1372.45" stroke-width="4.5"/>
<line x1="931" y1="1360.7" x2="931" y2="1372.45" stroke-width="4.5"/>
<line x1="859.5" y1="1152.7" x2="859.5" y2="1174.1" stroke-width="3.5"/>
<line x1="848.5" y1="1152.7" x2="870.5" y2="1152.7" stroke-width="3.5"/>
<line x1="848.5" y1="1174.1" x2="870.5" y2="1174.1" stroke-width="3.5"/>
<circle cx="859.1" cy="1154.8" r="6.4" fill="#fff" stroke="#000" stroke-width="4.1"/>
<circle cx="868.8" cy="1159.7" r="6.4" fill="#fff" stroke="#000" stroke-width="4.1"/>
<circle cx="849.5" cy="1175.2" r="6.4" fill="#fff" stroke="#000" stroke-width="4.1"/>
<line x1="931.4" y1="1321" x2="931.4" y2="1343.6" stroke-width="3.5"/>
<line x1="920.4" y1="1321" x2="942.4" y2="1321" stroke-width="3.5"/>
<line x1="920.4" y1="1343.6" x2="942.4" y2="1343.6" stroke-width="3.5"/>
<circle cx="917" cy="1320.6" r="6.4" fill="#fff" stroke="#000" stroke-width="4.1"/>
<circle cx="946" cy="1337.1" r="6.4" fill="#fff" stroke="#000" stroke-width="4.1"/>
<circle cx="931.4" cy="1339.3" r="6.4" fill="#fff" stroke="#000" stroke-width="4.1"/>
<text font-size="20" x="846.9" y="1127.6"><tspan font-style="italic">p</tspan><tspan> &lt; 0.0001</tspan></text>
<polyline points="849.5,1147.3 849.5,1138.3 935.9,1138.3 935.9,1147.3" fill="none" stroke="#000" stroke-width="2" stroke-linejoin="miter"/>
<text font-size="25" text-anchor="middle" transform="translate(709 1239.3) rotate(-90)">Insulin content (mIU/mg protein)</text>
<text font-size="25.6" text-anchor="end" transform="translate(872.4 1398.6) rotate(-45)">control</text>
<text font-size="25.6" text-anchor="end" font-style="italic" transform="translate(940.8 1398.6) rotate(-45)">miR-802 KI</text>
<text x="1032" y="1050.8" font-size="40" font-weight="bold">j</text>
<rect x="1168.1" y="1043" width="41.9" height="20.4" fill="#d3d3d3" stroke="#000" stroke-width="2.4"/>
<rect x="1168.1" y="1073.3" width="41.9" height="20.5" fill="#a00000" stroke="#000" stroke-width="2.4"/>
<text x="1221.3" y="1061.2" font-size="20.8">control</text>
<text x="1222.4" y="1091.6" font-size="20.8" font-style="italic">miR-802 KI</text>
<rect x="1166.4" y="1346.8" width="10.1" height="43" fill="#d3d3d3" stroke="#000" stroke-width="4.4"/>
<rect x="1188.4" y="1366.2" width="10.2" height="23.6" fill="#a00000" stroke="#000" stroke-width="4.4"/>
<rect x="1224.9" y="1218.2" width="10.2" height="171.6" fill="#d3d3d3" stroke="#000" stroke-width="4.4"/>
<rect x="1247.4" y="1278.2" width="10" height="111.6" fill="#a00000" stroke="#000" stroke-width="4.4"/>
<rect x="1283.5" y="1223.5" width="9.9" height="166.3" fill="#d3d3d3" stroke="#000" stroke-width="4.4"/>
<rect x="1305.4" y="1280.3" width="10.1" height="109.5" fill="#a00000" stroke="#000" stroke-width="4.4"/>
<line x1="1156.6" y1="1136.05" x2="1156.6" y2="1391.2" stroke-width="4.5"/>
<line x1="1144.35" y1="1138.3" x2="1156.6" y2="1138.3" stroke-width="4.5"/>
<text x="1133.35" y="1146.25" font-size="25" text-anchor="end">1500</text>
<line x1="1144.35" y1="1222.6" x2="1156.6" y2="1222.6" stroke-width="4.5"/>
<text x="1133.35" y="1230.55" font-size="25" text-anchor="end">1000</text>
<line x1="1144.35" y1="1306.9" x2="1156.6" y2="1306.9" stroke-width="4.5"/>
<text x="1133.35" y="1314.85" font-size="25" text-anchor="end">500</text>
<line x1="1144.35" y1="1391.2" x2="1156.6" y2="1391.2" stroke-width="4.5"/>
<text x="1133.35" y="1399.15" font-size="25" text-anchor="end">0</text>
<line x1="1144.8" y1="1391.2" x2="1327.8" y2="1391.2" stroke-width="4.5"/>
<line x1="1182.4" y1="1391.2" x2="1182.4" y2="1402.95" stroke-width="4.5"/>
<line x1="1241" y1="1391.2" x2="1241" y2="1402.95" stroke-width="4.5"/>
<line x1="1298.9" y1="1391.2" x2="1298.9" y2="1402.95" stroke-width="4.5"/>
<circle cx="1172.3" cy="1341" r="6.4" fill="#fff" stroke="#000" stroke-width="4.1"/>
<circle cx="1171.9" cy="1344.8" r="6.4" fill="#fff" stroke="#000" stroke-width="4.1"/>
<circle cx="1170.8" cy="1332.8" r="6.4" fill="#fff" stroke="#000" stroke-width="4.1"/>
<circle cx="1192.3" cy="1358.5" r="6.4" fill="#fff" stroke="#000" stroke-width="4.1"/>
<circle cx="1194" cy="1360.5" r="6.4" fill="#fff" stroke="#000" stroke-width="4.1"/>
<circle cx="1193.3" cy="1360.1" r="6.4" fill="#fff" stroke="#000" stroke-width="4.1"/>
<line x1="1229.8" y1="1189.1" x2="1229.8" y2="1230" stroke-width="3.5"/>
<line x1="1226.8" y1="1189.1" x2="1232.8" y2="1189.1" stroke-width="3.5"/>
<line x1="1226.8" y1="1230" x2="1232.8" y2="1230" stroke-width="3.5"/>
<circle cx="1229.8" cy="1176.2" r="6.4" fill="#fff" stroke="#000" stroke-width="4.1"/>
<circle cx="1229.8" cy="1208.9" r="6.4" fill="#fff" stroke="#000" stroke-width="4.1"/>
<circle cx="1229.8" cy="1230.3" r="6.4" fill="#fff" stroke="#000" stroke-width="4.1"/>
<circle cx="1250.8" cy="1270.5" r="6.4" fill="#fff" stroke="#000" stroke-width="4.1"/>
<circle cx="1252.8" cy="1273" r="6.4" fill="#fff" stroke="#000" stroke-width="4.1"/>
<circle cx="1251.7" cy="1272.1" r="6.4" fill="#fff" stroke="#000" stroke-width="4.1"/>
<circle cx="1284.9" cy="1229.9" r="6.4" fill="#fff" stroke="#000" stroke-width="4.1"/>
<circle cx="1298.2" cy="1220.6" r="6.4" fill="#fff" stroke="#000" stroke-width="4.1"/>
<circle cx="1288.8" cy="1210.6" r="6.4" fill="#fff" stroke="#000" stroke-width="4.1"/>
<circle cx="1310" cy="1276" r="6.4" fill="#fff" stroke="#000" stroke-width="4.1"/>
<circle cx="1309.6" cy="1268.5" r="6.4" fill="#fff" stroke="#000" stroke-width="4.1"/>
<text font-size="16.5" x="1165.9" y="1134.4"><tspan font-style="italic">p</tspan><tspan> =</tspan></text>
<text x="1165.9" y="1154.2" font-size="16.5">0.0064</text>
<polyline points="1171.9,1318.9 1171.9,1308.8 1204,1308.8 1204,1318.9" fill="none" stroke="#000" stroke-width="2" stroke-linejoin="miter"/>
<text font-size="16.5" x="1210.5" y="1122.2"><tspan font-style="italic">p</tspan><tspan> &lt; 0.0001</tspan></text>
<polyline points="1225.9,1141.5 1225.9,1132.3 1267.1,1132.3 1267.1,1141.5" fill="none" stroke="#000" stroke-width="2" stroke-linejoin="miter"/>
<text font-size="16.5" x="1265.6" y="1182.7"><tspan font-style="italic">p</tspan><tspan> = 0.0006</tspan></text>
<polyline points="1290.9,1201.6 1290.9,1192.3 1326.3,1192.3 1326.3,1201.6" fill="none" stroke="#000" stroke-width="2" stroke-linejoin="miter"/>
<text font-size="25" text-anchor="middle" transform="translate(1054.3 1258.8) rotate(-90)">Insulin secretion (mIU/mg protein)</text>
<text font-size="25" transform="translate(1165.9 1502.57) rotate(-90)">2.5 mM</text>
<text font-size="25" transform="translate(1196.3 1502.57) rotate(-90)">glucose</text>
<text font-size="25" transform="translate(1235.2 1502.57) rotate(-90)">2.5 mM</text>
<text font-size="25" transform="translate(1265.2 1502.57) rotate(-90)">glucose</text>
<text font-size="25" transform="translate(1304.2 1491.8) rotate(-90)">35 mM</text>
<text font-size="25" transform="translate(1334.3 1491.8) rotate(-90)">KCl</text>
<text x="1396" y="1051" font-size="40" font-weight="bold">k</text>
<text x="1478.4" y="1170.4" font-size="25" text-anchor="middle">control</text>
<text x="1653.5" y="1155.8" font-size="25" text-anchor="middle" font-style="italic">miR-802</text>
<text x="1653.5" y="1185.3" font-size="25" text-anchor="middle" font-style="italic">KI</text>
<rect x="1417.7" y="1367.2" width="294.8" height="49.4" fill="#fff" stroke="#000" stroke-width="2.2"/>
<text x="1437" y="1400.3" font-size="25" style="fill:#ff2a00">Insulin</text>
<text x="1519.2" y="1400.3" font-size="25" style="fill:#00a550">Glucagon</text>
<text x="1636.9" y="1400.3" font-size="25" style="fill:#0b6fc0">DAPI</text>
<text x="-0.5" y="1571.2" font-size="40" font-weight="bold">l</text>
<rect x="134" y="1716.3" width="29.1" height="180.7" fill="#aedeae" stroke="#000" stroke-width="4"/>
<rect x="184.2" y="1814.1" width="29.3" height="82.9" fill="#ff0000" stroke="#000" stroke-width="4"/>
<rect x="234.8" y="1716.9" width="29.1" height="180.1" fill="#0000c0" stroke="#000" stroke-width="4"/>
<line x1="115.1" y1="1642.25" x2="115.1" y2="1897.9" stroke-width="4.5"/>
<line x1="102.85" y1="1644.5" x2="115.1" y2="1644.5" stroke-width="4.5"/>
<text x="91.85" y="1652.45" font-size="25" text-anchor="end">2.5</text>
<line x1="102.85" y1="1695.18" x2="115.1" y2="1695.18" stroke-width="4.5"/>
<text x="91.85" y="1703.13" font-size="25" text-anchor="end">2.0</text>
<line x1="102.85" y1="1745.86" x2="115.1" y2="1745.86" stroke-width="4.5"/>
<text x="91.85" y="1753.81" font-size="25" text-anchor="end">1.5</text>
<line x1="102.85" y1="1796.54" x2="115.1" y2="1796.54" stroke-width="4.5"/>
<text x="91.85" y="1804.49" font-size="25" text-anchor="end">1.0</text>
<line x1="102.85" y1="1847.22" x2="115.1" y2="1847.22" stroke-width="4.5"/>
<text x="91.85" y="1855.17" font-size="25" text-anchor="end">0.5</text>
<line x1="102.85" y1="1897.9" x2="115.1" y2="1897.9" stroke-width="4.5"/>
<text x="91.85" y="1905.85" font-size="25" text-anchor="end">0.0</text>
<line x1="103.7" y1="1897.9" x2="285.7" y2="1897.9" stroke-width="4.5"/>
<line x1="147.8" y1="1897.9" x2="147.8" y2="1909.65" stroke-width="4.5"/>
<line x1="198.8" y1="1897.9" x2="198.8" y2="1909.65" stroke-width="4.5"/>
<line x1="249.2" y1="1897.9" x2="249.2" y2="1909.65" stroke-width="4.5"/>
<line x1="148.5" y1="1709" x2="148.5" y2="1719.5" stroke-width="3.5"/>
<line x1="141.5" y1="1709" x2="155.5" y2="1709" stroke-width="3.5"/>
<line x1="141.5" y1="1719.5" x2="155.5" y2="1719.5" stroke-width="3.5"/>
<circle cx="150" cy="1713" r="6.4" fill="#fff" stroke="#000" stroke-width="4.1"/>
<circle cx="142.2" cy="1707.4" r="6.4" fill="#fff" stroke="#000" stroke-width="4.1"/>
<circle cx="156.2" cy="1701.8" r="6.4" fill="#fff" stroke="#000" stroke-width="4.1"/>
<circle cx="157.2" cy="1725.3" r="6.4" fill="#fff" stroke="#000" stroke-width="4.1"/>
<circle cx="140.5" cy="1742.8" r="6.4" fill="#fff" stroke="#000" stroke-width="4.1"/>
<line x1="198.8" y1="1806" x2="198.8" y2="1818" stroke-width="3.5"/>
<line x1="191.8" y1="1806" x2="205.8" y2="1806" stroke-width="3.5"/>
<line x1="191.8" y1="1818" x2="205.8" y2="1818" stroke-width="3.5"/>
<circle cx="190.5" cy="1791.7" r="6.4" fill="#fff" stroke="#000" stroke-width="4.1"/>
<circle cx="208.2" cy="1801.7" r="6.4" fill="#fff" stroke="#000" stroke-width="4.1"/>
<circle cx="196" cy="1818" r="6.4" fill="#fff" stroke="#000" stroke-width="4.1"/>
<circle cx="204.5" cy="1822" r="6.4" fill="#fff" stroke="#000" stroke-width="4.1"/>
<circle cx="192.2" cy="1810" r="6.4" fill="#fff" stroke="#000" stroke-width="4.1"/>
<circle cx="206.1" cy="1811.5" r="6.4" fill="#fff" stroke="#000" stroke-width="4.1"/>
<circle cx="199.3" cy="1827.7" r="6.4" fill="#fff" stroke="#000" stroke-width="4.1"/>
<line x1="249.2" y1="1705" x2="249.2" y2="1725" stroke-width="3.5"/>
<line x1="242.2" y1="1705" x2="256.2" y2="1705" stroke-width="3.5"/>
<line x1="242.2" y1="1725" x2="256.2" y2="1725" stroke-width="3.5"/>
<circle cx="249.8" cy="1666.4" r="6.4" fill="#fff" stroke="#000" stroke-width="4.1"/>
<circle cx="239.9" cy="1707" r="6.4" fill="#fff" stroke="#000" stroke-width="4.1"/>
<circle cx="259.2" cy="1711.6" r="6.4" fill="#fff" stroke="#000" stroke-width="4.1"/>
<circle cx="245.3" cy="1719.5" r="6.4" fill="#fff" stroke="#000" stroke-width="4.1"/>
<circle cx="258.2" cy="1730.9" r="6.4" fill="#fff" stroke="#000" stroke-width="4.1"/>
<circle cx="254" cy="1725.7" r="6.4" fill="#fff" stroke="#000" stroke-width="4.1"/>
<circle cx="240.9" cy="1743.8" r="6.4" fill="#fff" stroke="#000" stroke-width="4.1"/>
<text font-size="16.5" x="183.2" y="1629.9"><tspan font-style="italic">p</tspan><tspan> &lt; 0.0001</tspan></text>
<polyline points="185.9,1647.6 185.9,1638.3 257.1,1638.3 257.1,1647.6" fill="none" stroke="#000" stroke-width="2" stroke-linejoin="miter"/>
<text font-size="16.5" x="131.2" y="1664.3"><tspan font-style="italic">p</tspan><tspan> &lt; 0.0001</tspan></text>
<polyline points="136.4,1679.5 136.4,1671.2 196.3,1671.2 196.3,1679.5" fill="none" stroke="#000" stroke-width="2" stroke-linejoin="miter"/>
<text font-size="25" text-anchor="middle" transform="translate(30.2 1773.1) rotate(-90)">Fasting insulin (ng/ml)</text>
<text x="333" y="1571.2" font-size="40" font-weight="bold">m</text>
<rect x="456.3" y="1715.2" width="29.3" height="181.8" fill="#aedeae" stroke="#000" stroke-width="4"/>
<rect x="506.3" y="1812.4" width="29.7" height="84.6" fill="#ff0000" stroke="#000" stroke-width="4"/>
<rect x="557.3" y="1717.3" width="29.3" height="179.7" fill="#0000c0" stroke="#000" stroke-width="4"/>
<line x1="437.6" y1="1642.25" x2="437.6" y2="1897.5" stroke-width="4.5"/>
<line x1="425.35" y1="1644.5" x2="437.6" y2="1644.5" stroke-width="4.5"/>
<text x="414.35" y="1652.45" font-size="25" text-anchor="end">20</text>
<line x1="425.35" y1="1707.75" x2="437.6" y2="1707.75" stroke-width="4.5"/>
<text x="414.35" y="1715.7" font-size="25" text-anchor="end">15</text>
<line x1="425.35" y1="1771" x2="437.6" y2="1771" stroke-width="4.5"/>
<text x="414.35" y="1778.95" font-size="25" text-anchor="end">10</text>
<line x1="425.35" y1="1834.25" x2="437.6" y2="1834.25" stroke-width="4.5"/>
<text x="414.35" y="1842.2" font-size="25" text-anchor="end">5</text>
<line x1="425.35" y1="1897.5" x2="437.6" y2="1897.5" stroke-width="4.5"/>
<text x="414.35" y="1905.45" font-size="25" text-anchor="end">0</text>
<line x1="425.8" y1="1897.5" x2="607.9" y2="1897.5" stroke-width="4.5"/>
<line x1="470.3" y1="1897.5" x2="470.3" y2="1909.25" stroke-width="4.5"/>
<line x1="521.3" y1="1897.5" x2="521.3" y2="1909.25" stroke-width="4.5"/>
<line x1="571.5" y1="1897.5" x2="571.5" y2="1909.25" stroke-width="4.5"/>
<line x1="471" y1="1707" x2="471" y2="1719" stroke-width="3.5"/>
<line x1="464" y1="1707" x2="478" y2="1707" stroke-width="3.5"/>
<line x1="464" y1="1719" x2="478" y2="1719" stroke-width="3.5"/>
<circle cx="473" cy="1709" r="6.4" fill="#fff" stroke="#000" stroke-width="4.1"/>
<circle cx="461.6" cy="1695.9" r="6.4" fill="#fff" stroke="#000" stroke-width="4.1"/>
<circle cx="480.7" cy="1702.4" r="6.4" fill="#fff" stroke="#000" stroke-width="4.1"/>
<circle cx="463.7" cy="1715.9" r="6.4" fill="#fff" stroke="#000" stroke-width="4.1"/>
<circle cx="477.6" cy="1727.8" r="6.4" fill="#fff" stroke="#000" stroke-width="4.1"/>
<circle cx="470.3" cy="1736.5" r="6.4" fill="#fff" stroke="#000" stroke-width="4.1"/>
<line x1="521.3" y1="1804" x2="521.3" y2="1816" stroke-width="3.5"/>
<line x1="514.3" y1="1804" x2="528.3" y2="1804" stroke-width="3.5"/>
<line x1="514.3" y1="1816" x2="528.3" y2="1816" stroke-width="3.5"/>
<circle cx="513.2" cy="1789.6" r="6.4" fill="#fff" stroke="#000" stroke-width="4.1"/>
<circle cx="529.9" cy="1795" r="6.4" fill="#fff" stroke="#000" stroke-width="4.1"/>
<circle cx="514.7" cy="1811.5" r="6.4" fill="#fff" stroke="#000" stroke-width="4.1"/>
<circle cx="528.2" cy="1811.5" r="6.4" fill="#fff" stroke="#000" stroke-width="4.1"/>
<circle cx="525.1" cy="1819.8" r="6.4" fill="#fff" stroke="#000" stroke-width="4.1"/>
<circle cx="521.3" cy="1828.1" r="6.4" fill="#fff" stroke="#000" stroke-width="4.1"/>
<line x1="571.5" y1="1702.8" x2="571.5" y2="1727" stroke-width="3.5"/>
<line x1="564.5" y1="1702.8" x2="578.5" y2="1702.8" stroke-width="3.5"/>
<line x1="564.5" y1="1727" x2="578.5" y2="1727" stroke-width="3.5"/>
<circle cx="580.3" cy="1676.8" r="6.4" fill="#fff" stroke="#000" stroke-width="4.1"/>
<circle cx="563.2" cy="1693.9" r="6.4" fill="#fff" stroke="#000" stroke-width="4.1"/>
<circle cx="561.5" cy="1714.3" r="6.4" fill="#fff" stroke="#000" stroke-width="4.1"/>
<circle cx="581.9" cy="1714.9" r="6.4" fill="#fff" stroke="#000" stroke-width="4.1"/>
<circle cx="575.7" cy="1722.6" r="6.4" fill="#fff" stroke="#000" stroke-width="4.1"/>
<circle cx="571.5" cy="1743.8" r="6.4" fill="#fff" stroke="#000" stroke-width="4.1"/>
<text font-size="16.5" x="508.4" y="1631.6"><tspan font-style="italic">p</tspan><tspan> &lt; 0.0001</tspan></text>
<polyline points="512.2,1647.6 512.2,1638.7 583.4,1638.7 583.4,1647.6" fill="none" stroke="#000" stroke-width="2" stroke-linejoin="miter"/>
<text font-size="16.5" x="463.7" y="1668.9"><tspan font-style="italic">p</tspan><tspan> &lt; 0.0001</tspan></text>
<polyline points="465.3,1686.2 465.3,1676.8 536.5,1676.8 536.5,1686.2" fill="none" stroke="#000" stroke-width="2" stroke-linejoin="miter"/>
<text font-size="25" text-anchor="middle" transform="translate(365.4 1773.6) rotate(-90)"><tspan>HOMA-IR(mIU l</tspan><tspan dy="-11.5" font-size="16">−1</tspan><tspan dy="11.5"> mmol l</tspan><tspan dy="-11.5" font-size="16">−1</tspan><tspan dy="11.5">)</tspan></text>
<text x="674" y="1571.1" font-size="40" font-weight="bold">n</text>
<text x="811" y="1552.2" font-size="25">GTT</text>
<line x1="777.7" y1="1565.3" x2="823.5" y2="1565.3" stroke-width="4.5" style="stroke:#b0e6d2"/>
<circle cx="800.6" cy="1565.3" r="4.6" fill="#000" stroke="none"/>
<line x1="777.7" y1="1595.5" x2="823.5" y2="1595.5" stroke-width="4.5" style="stroke:#ff0000"/>
<rect x="796.3" y="1591.2" width="8.6" height="8.6" fill="#000" stroke="none"/>
<line x1="777.7" y1="1644.4" x2="823.5" y2="1644.4" stroke-width="4.5" style="stroke:#0000c0"/>
<polygon points="800.6,1640.12 795.85,1648.68 805.35,1648.68" fill="#000" stroke="none"/>
<text x="836.5" y="1571.1" font-size="20.8">control</text>
<text x="838.2" y="1601.6" font-size="20.8" font-style="italic">len-shFoxo1</text>
<text x="838.2" y="1637.4" font-size="20.8" font-style="italic">len-shFoxo1</text>
<text font-size="20.8" x="836.5" y="1662.7"><tspan>+</tspan><tspan font-style="italic">len-miR-802</tspan></text>
<polyline points="946.5,1558.3 1040.9,1558.3 1040.9,1593.3 1014.2,1593.3" fill="none" stroke="#000" stroke-width="1.6" stroke-linejoin="miter"/>
<polyline points="1012.8,1602.2 1061.7,1602.2 1061.7,1667.4 1037.8,1667.4" fill="none" stroke="#000" stroke-width="1.6" stroke-linejoin="miter"/>
<polyline points="770.6,1871.2 802.09,1733.3 833.58,1744.9 896.55,1800.1 959.52,1842.1 1022.5,1869.7" fill="none" stroke="#b0e6d2" stroke-width="4.5" stroke-linejoin="round"/>
<polyline points="770.6,1871.5 802.09,1729.5 833.58,1749.3" fill="none" stroke="#0000c0" stroke-width="1.5" stroke-linejoin="miter"/>
<polyline points="833.58,1749.3 896.55,1807.3 959.52,1852.3 1022.5,1875.5" fill="none" stroke="#0000c0" stroke-width="4.5" stroke-linejoin="round"/>
<polyline points="770.6,1875.5 802.09,1742" fill="none" stroke="#ff0000" stroke-width="1.5" stroke-linejoin="miter"/>
<polyline points="802.09,1742 833.58,1779.2 896.55,1852.9 959.52,1872.6 1022.5,1885.7" fill="none" stroke="#ff0000" stroke-width="4.5" stroke-linejoin="round"/>
<polyline points="833.58,1744.9 896.55,1800.1 959.52,1842.1 1022.5,1869.7" fill="none" stroke="#b0e6d2" stroke-width="4.5" stroke-linejoin="round"/>
<line x1="770.6" y1="1864.9" x2="770.6" y2="1877.5" stroke-width="3.6"/>
<line x1="765.8" y1="1864.9" x2="775.4" y2="1864.9" stroke-width="3.4"/>
<line x1="765.8" y1="1877.5" x2="775.4" y2="1877.5" stroke-width="3.4"/>
<circle cx="770.6" cy="1871.2" r="4.6" fill="#000" stroke="none"/>
<line x1="802.09" y1="1727" x2="802.09" y2="1739.6" stroke-width="3.6"/>
<line x1="797.29" y1="1727" x2="806.89" y2="1727" stroke-width="3.4"/>
<line x1="797.29" y1="1739.6" x2="806.89" y2="1739.6" stroke-width="3.4"/>
<circle cx="802.09" cy="1733.3" r="4.6" fill="#000" stroke="none"/>
<line x1="833.58" y1="1738.6" x2="833.58" y2="1751.2" stroke-width="3.6"/>
<line x1="828.78" y1="1738.6" x2="838.38" y2="1738.6" stroke-width="3.4"/>
<line x1="828.78" y1="1751.2" x2="838.38" y2="1751.2" stroke-width="3.4"/>
<circle cx="833.58" cy="1744.9" r="4.6" fill="#000" stroke="none"/>
<line x1="896.55" y1="1793.8" x2="896.55" y2="1806.4" stroke-width="3.6"/>
<line x1="891.75" y1="1793.8" x2="901.35" y2="1793.8" stroke-width="3.4"/>
<line x1="891.75" y1="1806.4" x2="901.35" y2="1806.4" stroke-width="3.4"/>
<circle cx="896.55" cy="1800.1" r="4.6" fill="#000" stroke="none"/>
<line x1="959.52" y1="1835.8" x2="959.52" y2="1848.4" stroke-width="3.6"/>
<line x1="954.73" y1="1835.8" x2="964.32" y2="1835.8" stroke-width="3.4"/>
<line x1="954.73" y1="1848.4" x2="964.32" y2="1848.4" stroke-width="3.4"/>
<circle cx="959.52" cy="1842.1" r="4.6" fill="#000" stroke="none"/>
<line x1="1022.5" y1="1863.4" x2="1022.5" y2="1876" stroke-width="3.6"/>
<line x1="1017.7" y1="1863.4" x2="1027.3" y2="1863.4" stroke-width="3.4"/>
<line x1="1017.7" y1="1876" x2="1027.3" y2="1876" stroke-width="3.4"/>
<circle cx="1022.5" cy="1869.7" r="4.6" fill="#000" stroke="none"/>
<line x1="770.6" y1="1865.2" x2="770.6" y2="1877.8" stroke-width="3.6"/>
<line x1="765.8" y1="1865.2" x2="775.4" y2="1865.2" stroke-width="3.4"/>
<line x1="765.8" y1="1877.8" x2="775.4" y2="1877.8" stroke-width="3.4"/>
<polygon points="770.6,1867.22 765.85,1875.78 775.35,1875.78" fill="#000" stroke="none"/>
<line x1="802.09" y1="1723.2" x2="802.09" y2="1735.8" stroke-width="3.6"/>
<line x1="797.29" y1="1723.2" x2="806.89" y2="1723.2" stroke-width="3.4"/>
<line x1="797.29" y1="1735.8" x2="806.89" y2="1735.8" stroke-width="3.4"/>
<polygon points="802.09,1725.22 797.34,1733.78 806.84,1733.78" fill="#000" stroke="none"/>
<line x1="833.58" y1="1743" x2="833.58" y2="1755.6" stroke-width="3.6"/>
<line x1="828.78" y1="1743" x2="838.38" y2="1743" stroke-width="3.4"/>
<line x1="828.78" y1="1755.6" x2="838.38" y2="1755.6" stroke-width="3.4"/>
<polygon points="833.58,1745.02 828.83,1753.58 838.33,1753.58" fill="#000" stroke="none"/>
<line x1="896.55" y1="1801" x2="896.55" y2="1813.6" stroke-width="3.6"/>
<line x1="891.75" y1="1801" x2="901.35" y2="1801" stroke-width="3.4"/>
<line x1="891.75" y1="1813.6" x2="901.35" y2="1813.6" stroke-width="3.4"/>
<polygon points="896.55,1803.02 891.8,1811.58 901.3,1811.58" fill="#000" stroke="none"/>
<line x1="959.52" y1="1846" x2="959.52" y2="1858.6" stroke-width="3.6"/>
<line x1="954.73" y1="1846" x2="964.32" y2="1846" stroke-width="3.4"/>
<line x1="954.73" y1="1858.6" x2="964.32" y2="1858.6" stroke-width="3.4"/>
<polygon points="959.52,1848.02 954.77,1856.58 964.27,1856.58" fill="#000" stroke="none"/>
<line x1="1022.5" y1="1869.2" x2="1022.5" y2="1881.8" stroke-width="3.6"/>
<line x1="1017.7" y1="1869.2" x2="1027.3" y2="1869.2" stroke-width="3.4"/>
<line x1="1017.7" y1="1881.8" x2="1027.3" y2="1881.8" stroke-width="3.4"/>
<polygon points="1022.5,1871.22 1017.75,1879.78 1027.25,1879.78" fill="#000" stroke="none"/>
<line x1="770.6" y1="1869.2" x2="770.6" y2="1881.8" stroke-width="3.6"/>
<line x1="765.8" y1="1869.2" x2="775.4" y2="1869.2" stroke-width="3.4"/>
<line x1="765.8" y1="1881.8" x2="775.4" y2="1881.8" stroke-width="3.4"/>
<rect x="766.3" y="1871.2" width="8.6" height="8.6" fill="#000" stroke="none"/>
<line x1="802.09" y1="1735.7" x2="802.09" y2="1748.3" stroke-width="3.6"/>
<line x1="797.29" y1="1735.7" x2="806.89" y2="1735.7" stroke-width="3.4"/>
<line x1="797.29" y1="1748.3" x2="806.89" y2="1748.3" stroke-width="3.4"/>
<rect x="797.79" y="1737.7" width="8.6" height="8.6" fill="#000" stroke="none"/>
<line x1="833.58" y1="1772.9" x2="833.58" y2="1785.5" stroke-width="3.6"/>
<line x1="828.78" y1="1772.9" x2="838.38" y2="1772.9" stroke-width="3.4"/>
<line x1="828.78" y1="1785.5" x2="838.38" y2="1785.5" stroke-width="3.4"/>
<rect x="829.28" y="1774.9" width="8.6" height="8.6" fill="#000" stroke="none"/>
<line x1="896.55" y1="1846.6" x2="896.55" y2="1859.2" stroke-width="3.6"/>
<line x1="891.75" y1="1846.6" x2="901.35" y2="1846.6" stroke-width="3.4"/>
<line x1="891.75" y1="1859.2" x2="901.35" y2="1859.2" stroke-width="3.4"/>
<rect x="892.25" y="1848.6" width="8.6" height="8.6" fill="#000" stroke="none"/>
<line x1="959.52" y1="1866.3" x2="959.52" y2="1878.9" stroke-width="3.6"/>
<line x1="954.73" y1="1866.3" x2="964.32" y2="1866.3" stroke-width="3.4"/>
<line x1="954.73" y1="1878.9" x2="964.32" y2="1878.9" stroke-width="3.4"/>
<rect x="955.23" y="1868.3" width="8.6" height="8.6" fill="#000" stroke="none"/>
<line x1="1022.5" y1="1879.4" x2="1022.5" y2="1892" stroke-width="3.6"/>
<line x1="1017.7" y1="1879.4" x2="1027.3" y2="1879.4" stroke-width="3.4"/>
<line x1="1017.7" y1="1892" x2="1027.3" y2="1892" stroke-width="3.4"/>
<rect x="1018.2" y="1881.4" width="8.6" height="8.6" fill="#000" stroke="none"/>
<line x1="770.6" y1="1695.35" x2="770.6" y2="1950.1" stroke-width="4.5"/>
<line x1="758.35" y1="1697.6" x2="770.6" y2="1697.6" stroke-width="4.5"/>
<text x="747.35" y="1705.55" font-size="25" text-anchor="end">30</text>
<line x1="758.35" y1="1781.77" x2="770.6" y2="1781.77" stroke-width="4.5"/>
<text x="747.35" y="1789.72" font-size="25" text-anchor="end">20</text>
<line x1="758.35" y1="1865.93" x2="770.6" y2="1865.93" stroke-width="4.5"/>
<text x="747.35" y="1873.88" font-size="25" text-anchor="end">10</text>
<line x1="758.35" y1="1950.1" x2="770.6" y2="1950.1" stroke-width="4.5"/>
<text x="747.35" y="1958.05" font-size="25" text-anchor="end">0</text>
<line x1="758.4" y1="1950.1" x2="1024.7" y2="1950.1" stroke-width="4.5"/>
<line x1="770.6" y1="1950.1" x2="770.6" y2="1961.85" stroke-width="4.5"/>
<line x1="833.58" y1="1950.1" x2="833.58" y2="1961.85" stroke-width="4.5"/>
<line x1="896.55" y1="1950.1" x2="896.55" y2="1961.85" stroke-width="4.5"/>
<line x1="959.52" y1="1950.1" x2="959.52" y2="1961.85" stroke-width="4.5"/>
<line x1="1022.5" y1="1950.1" x2="1022.5" y2="1961.85" stroke-width="4.5"/>
<text x="770.6" y="1993.1" font-size="25" text-anchor="middle">0</text>
<text x="833.58" y="1993.1" font-size="25" text-anchor="middle">30</text>
<text x="896.55" y="1993.1" font-size="25" text-anchor="middle">60</text>
<text x="959.52" y="1993.1" font-size="25" text-anchor="middle">90</text>
<text x="1022.5" y="1993.1" font-size="25" text-anchor="middle">120</text>
<text x="905.5" y="2028.5" font-size="25" text-anchor="middle">Time (min)</text>
<text font-size="25" text-anchor="middle" transform="translate(693.7 1826.2) rotate(-90)">Glucose (mmol/l)</text>
<text font-size="16.5" x="815" y="1708.6"><tspan font-style="italic">p</tspan><tspan> = 0.0011</tspan></text>
<text x="837.3" y="1737.7" font-size="30" font-weight="bold" stroke="#000" stroke-width="0.7">##</text>
<text font-size="16.5" x="890.2" y="1763.8"><tspan font-style="italic">p</tspan><tspan> &lt; 0.0001</tspan></text>
<text x="893.9" y="1794.3" font-size="30" font-weight="bold" stroke="#000" stroke-width="0.7">###</text>
<text x="830.1" y="1813.6" font-size="20" text-anchor="middle">***</text>
<text font-size="16.5" x="799.6" y="1823.3"><tspan font-style="italic">p</tspan><tspan> = 0.001</tspan></text>
<text x="886.1" y="1882.5" font-size="25" text-anchor="middle">***</text>
<text font-size="16.5" x="852.4" y="1888"><tspan font-style="italic">p</tspan><tspan> &lt; 0.0001</tspan></text>
<text x="960.1" y="1912" font-size="24" text-anchor="middle">**</text>
<text font-size="16.5" x="929.3" y="1920.5"><tspan font-style="italic">p</tspan><tspan> = 0.0029</tspan></text>
<rect x="1435.5" y="1579" width="42" height="19.9" fill="#aedeae" stroke="#000" stroke-width="3"/>
<rect x="1435.5" y="1619.2" width="42" height="20.3" fill="#ff0000" stroke="#000" stroke-width="3"/>
<rect x="1435.5" y="1661.4" width="42" height="20.3" fill="#0000c0" stroke="#000" stroke-width="3"/>
<text x="1489.8" y="1595.6" font-size="20.8">control</text>
<text x="1490.8" y="1635.7" font-size="20.6" font-style="italic">Len-shFoxo1</text>
<text x="1490.8" y="1665.5" font-size="20.6" font-style="italic">Len-shFoxo1 +</text>
<text x="1490.8" y="1690" font-size="20.6" font-style="italic">Len-miR-802</text>
<rect x="1259.5" y="1821.4" width="29" height="126.6" fill="#aedeae" stroke="#000" stroke-width="4"/>
<rect x="1310.2" y="1869.6" width="28.9" height="78.4" fill="#ff0000" stroke="#000" stroke-width="4"/>
<rect x="1360.4" y="1825.4" width="29" height="122.6" fill="#0000c0" stroke="#000" stroke-width="4"/>
<line x1="1241.1" y1="1693.75" x2="1241.1" y2="1948.4" stroke-width="4.5"/>
<line x1="1228.85" y1="1696" x2="1241.1" y2="1696" stroke-width="4.5"/>
<text x="1217.85" y="1703.95" font-size="25" text-anchor="end">3.0</text>
<line x1="1228.85" y1="1759.1" x2="1241.1" y2="1759.1" stroke-width="4.5"/>
<text x="1217.85" y="1767.05" font-size="25" text-anchor="end">2.5</text>
<line x1="1228.85" y1="1822.2" x2="1241.1" y2="1822.2" stroke-width="4.5"/>
<text x="1217.85" y="1830.15" font-size="25" text-anchor="end">2.0</text>
<line x1="1228.85" y1="1885.3" x2="1241.1" y2="1885.3" stroke-width="4.5"/>
<text x="1217.85" y="1893.25" font-size="25" text-anchor="end">1.5</text>
<line x1="1228.85" y1="1948.4" x2="1241.1" y2="1948.4" stroke-width="4.5"/>
<text x="1217.85" y="1956.35" font-size="25" text-anchor="end">1.0</text>
<line x1="1229.4" y1="1948.4" x2="1410.7" y2="1948.4" stroke-width="4.5"/>
<line x1="1274" y1="1948.4" x2="1274" y2="1960.15" stroke-width="4.5"/>
<line x1="1324.3" y1="1948.4" x2="1324.3" y2="1960.15" stroke-width="4.5"/>
<line x1="1374.5" y1="1948.4" x2="1374.5" y2="1960.15" stroke-width="4.5"/>
<line x1="1274" y1="1804.5" x2="1274" y2="1830" stroke-width="3.5"/>
<line x1="1267" y1="1804.5" x2="1281" y2="1804.5" stroke-width="3.5"/>
<line x1="1267" y1="1830" x2="1281" y2="1830" stroke-width="3.5"/>
<circle cx="1274" cy="1767.2" r="6.4" fill="#fff" stroke="#000" stroke-width="4.1"/>
<circle cx="1276" cy="1820" r="6.4" fill="#fff" stroke="#000" stroke-width="4.1"/>
<circle cx="1264.8" cy="1818.2" r="6.4" fill="#fff" stroke="#000" stroke-width="4.1"/>
<circle cx="1283.7" cy="1818.2" r="6.4" fill="#fff" stroke="#000" stroke-width="4.1"/>
<circle cx="1272" cy="1833.5" r="6.4" fill="#fff" stroke="#000" stroke-width="4.1"/>
<line x1="1324.3" y1="1860" x2="1324.3" y2="1875" stroke-width="3.5"/>
<line x1="1317.3" y1="1860" x2="1331.3" y2="1860" stroke-width="3.5"/>
<line x1="1317.3" y1="1875" x2="1331.3" y2="1875" stroke-width="3.5"/>
<circle cx="1317" cy="1853.6" r="6.4" fill="#fff" stroke="#000" stroke-width="4.1"/>
<circle cx="1332.3" cy="1852.8" r="6.4" fill="#fff" stroke="#000" stroke-width="4.1"/>
<circle cx="1325" cy="1870" r="6.4" fill="#fff" stroke="#000" stroke-width="4.1"/>
<circle cx="1321" cy="1861.6" r="6.4" fill="#fff" stroke="#000" stroke-width="4.1"/>
<circle cx="1333.1" cy="1883.7" r="6.4" fill="#fff" stroke="#000" stroke-width="4.1"/>
<circle cx="1315.8" cy="1893" r="6.4" fill="#fff" stroke="#000" stroke-width="4.1"/>
<line x1="1374.5" y1="1815" x2="1374.5" y2="1832" stroke-width="3.5"/>
<line x1="1367.5" y1="1815" x2="1381.5" y2="1815" stroke-width="3.5"/>
<line x1="1367.5" y1="1832" x2="1381.5" y2="1832" stroke-width="3.5"/>
<circle cx="1384.1" cy="1800.1" r="6.4" fill="#fff" stroke="#000" stroke-width="4.1"/>
<circle cx="1366.1" cy="1808.2" r="6.4" fill="#fff" stroke="#000" stroke-width="4.1"/>
<circle cx="1385.3" cy="1820.2" r="6.4" fill="#fff" stroke="#000" stroke-width="4.1"/>
<circle cx="1369.3" cy="1827.5" r="6.4" fill="#fff" stroke="#000" stroke-width="4.1"/>
<circle cx="1379.3" cy="1831.5" r="6.4" fill="#fff" stroke="#000" stroke-width="4.1"/>
<circle cx="1374.5" cy="1852.4" r="6.4" fill="#fff" stroke="#000" stroke-width="4.1"/>
<text font-size="16.5" x="1263.6" y="1721"><tspan font-style="italic">p</tspan><tspan> &lt; 0.0001</tspan></text>
<polyline points="1276.8,1738.2 1276.8,1729 1324.3,1729 1324.3,1738.2" fill="none" stroke="#000" stroke-width="2" stroke-linejoin="miter"/>
<text font-size="16.5" x="1319.8" y="1766"><tspan font-style="italic">p</tspan><tspan> = 0.0003</tspan></text>
<polyline points="1336.3,1783.2 1336.3,1774 1380.1,1774 1380.1,1783.2" fill="none" stroke="#000" stroke-width="2" stroke-linejoin="miter"/>
<text font-size="25" text-anchor="middle" transform="translate(1161.1 1822.8) rotate(-90)"><tspan>AUC (mmol min l</tspan><tspan dy="-11.5" font-size="16">−1</tspan><tspan dy="11.5"> × 10</tspan><tspan dy="-11.5" font-size="16">3</tspan><tspan dy="11.5">)</tspan></text>
<text x="-1" y="2085" font-size="40" font-weight="bold">o</text>
<text x="190" y="2072.3" font-size="25">ITT</text>
<line x1="132.5" y1="2091.7" x2="177" y2="2091.7" stroke-width="4.5" style="stroke:#b0e6d2"/>
<circle cx="154.75" cy="2091.7" r="4.6" fill="#000" stroke="none"/>
<line x1="132.5" y1="2132.2" x2="177" y2="2132.2" stroke-width="4.5" style="stroke:#ff0000"/>
<rect x="150.45" y="2127.9" width="8.6" height="8.6" fill="#000" stroke="none"/>
<line x1="132.5" y1="2191.8" x2="177" y2="2191.8" stroke-width="4.5" style="stroke:#0000c0"/>
<polygon points="154.75,2187.53 150,2196.08 159.5,2196.08" fill="#000" stroke="none"/>
<text x="190" y="2096.4" font-size="20.8">control</text>
<text x="191.3" y="2138.6" font-size="20.8" font-style="italic">len-shFoxo1</text>
<text x="191.3" y="2185.2" font-size="20.8" font-style="italic">len-shFoxo1</text>
<text font-size="20.8" x="190" y="2210.1"><tspan>+ </tspan><tspan font-style="italic">len-miR-802</tspan></text>
<polyline points="368.9,2075.8 382.1,2075.8 382.1,2134.1 368.9,2134.1" fill="none" stroke="#000" stroke-width="1.6" stroke-linejoin="miter"/>
<polyline points="386.9,2134.6 403.3,2134.6 403.3,2208.8 396.1,2208.8" fill="none" stroke="#000" stroke-width="1.6" stroke-linejoin="miter"/>
<polyline points="113.9,2270.5 145.44,2316.9 176.97,2339.4 240.05,2314.3 303.12,2293.1 366.2,2286.4" fill="none" stroke="#b0e6d2" stroke-width="4.5" stroke-linejoin="round"/>
<polyline points="113.9,2273.2 145.44,2320.9 176.97,2335.5 240.05,2316.9" fill="none" stroke="#0000c0" stroke-width="1.5" stroke-linejoin="miter"/>
<polyline points="240.05,2316.9 303.12,2301" fill="none" stroke="#0000c0" stroke-width="3" stroke-linejoin="round"/>
<polyline points="303.12,2301 366.2,2289.1" fill="none" stroke="#0000c0" stroke-width="4.5" stroke-linejoin="round"/>
<polyline points="113.9,2275.8 145.44,2347.4 176.97,2361.2 240.05,2336.8 303.12,2310.8 366.2,2295.7" fill="none" stroke="#ff0000" stroke-width="4.5" stroke-linejoin="round"/>
<line x1="113.9" y1="2265.5" x2="113.9" y2="2275.5" stroke-width="3.6"/>
<line x1="109.1" y1="2265.5" x2="118.7" y2="2265.5" stroke-width="3.4"/>
<line x1="109.1" y1="2275.5" x2="118.7" y2="2275.5" stroke-width="3.4"/>
<circle cx="113.9" cy="2270.5" r="4.6" fill="#000" stroke="none"/>
<line x1="145.44" y1="2311.9" x2="145.44" y2="2321.9" stroke-width="3.6"/>
<line x1="140.64" y1="2311.9" x2="150.24" y2="2311.9" stroke-width="3.4"/>
<line x1="140.64" y1="2321.9" x2="150.24" y2="2321.9" stroke-width="3.4"/>
<circle cx="145.44" cy="2316.9" r="4.6" fill="#000" stroke="none"/>
<circle cx="176.97" cy="2339.4" r="4.6" fill="#000" stroke="none"/>
<line x1="240.05" y1="2309.3" x2="240.05" y2="2319.3" stroke-width="3.6"/>
<line x1="235.25" y1="2309.3" x2="244.85" y2="2309.3" stroke-width="3.4"/>
<line x1="235.25" y1="2319.3" x2="244.85" y2="2319.3" stroke-width="3.4"/>
<circle cx="240.05" cy="2314.3" r="4.6" fill="#000" stroke="none"/>
<line x1="303.12" y1="2288.1" x2="303.12" y2="2298.1" stroke-width="3.6"/>
<line x1="298.32" y1="2288.1" x2="307.93" y2="2288.1" stroke-width="3.4"/>
<line x1="298.32" y1="2298.1" x2="307.93" y2="2298.1" stroke-width="3.4"/>
<circle cx="303.12" cy="2293.1" r="4.6" fill="#000" stroke="none"/>
<line x1="366.2" y1="2281.4" x2="366.2" y2="2291.4" stroke-width="3.6"/>
<line x1="361.4" y1="2281.4" x2="371" y2="2281.4" stroke-width="3.4"/>
<line x1="361.4" y1="2291.4" x2="371" y2="2291.4" stroke-width="3.4"/>
<circle cx="366.2" cy="2286.4" r="4.6" fill="#000" stroke="none"/>
<line x1="113.9" y1="2268.2" x2="113.9" y2="2278.2" stroke-width="3.6"/>
<line x1="109.1" y1="2268.2" x2="118.7" y2="2268.2" stroke-width="3.4"/>
<line x1="109.1" y1="2278.2" x2="118.7" y2="2278.2" stroke-width="3.4"/>
<polygon points="113.9,2268.92 109.15,2277.47 118.65,2277.47" fill="#000" stroke="none"/>
<line x1="145.44" y1="2315.9" x2="145.44" y2="2325.9" stroke-width="3.6"/>
<line x1="140.64" y1="2315.9" x2="150.24" y2="2315.9" stroke-width="3.4"/>
<line x1="140.64" y1="2325.9" x2="150.24" y2="2325.9" stroke-width="3.4"/>
<polygon points="145.44,2316.62 140.69,2325.18 150.19,2325.18" fill="#000" stroke="none"/>
<polygon points="176.97,2331.22 172.22,2339.78 181.72,2339.78" fill="#000" stroke="none"/>
<line x1="240.05" y1="2311.9" x2="240.05" y2="2321.9" stroke-width="3.6"/>
<line x1="235.25" y1="2311.9" x2="244.85" y2="2311.9" stroke-width="3.4"/>
<line x1="235.25" y1="2321.9" x2="244.85" y2="2321.9" stroke-width="3.4"/>
<polygon points="240.05,2312.62 235.3,2321.18 244.8,2321.18" fill="#000" stroke="none"/>
<line x1="303.12" y1="2296" x2="303.12" y2="2306" stroke-width="3.6"/>
<line x1="298.32" y1="2296" x2="307.93" y2="2296" stroke-width="3.4"/>
<line x1="298.32" y1="2306" x2="307.93" y2="2306" stroke-width="3.4"/>
<polygon points="303.12,2296.72 298.38,2305.28 307.88,2305.28" fill="#000" stroke="none"/>
<line x1="366.2" y1="2284.1" x2="366.2" y2="2294.1" stroke-width="3.6"/>
<line x1="361.4" y1="2284.1" x2="371" y2="2284.1" stroke-width="3.4"/>
<line x1="361.4" y1="2294.1" x2="371" y2="2294.1" stroke-width="3.4"/>
<polygon points="366.2,2284.82 361.45,2293.38 370.95,2293.38" fill="#000" stroke="none"/>
<line x1="113.9" y1="2270.8" x2="113.9" y2="2280.8" stroke-width="3.6"/>
<line x1="109.1" y1="2270.8" x2="118.7" y2="2270.8" stroke-width="3.4"/>
<line x1="109.1" y1="2280.8" x2="118.7" y2="2280.8" stroke-width="3.4"/>
<rect x="109.6" y="2271.5" width="8.6" height="8.6" fill="#000" stroke="none"/>
<rect x="141.14" y="2343.1" width="8.6" height="8.6" fill="#000" stroke="none"/>
<rect x="172.67" y="2356.9" width="8.6" height="8.6" fill="#000" stroke="none"/>
<line x1="240.05" y1="2329.8" x2="240.05" y2="2343.8" stroke-width="3.6"/>
<line x1="235.25" y1="2329.8" x2="244.85" y2="2329.8" stroke-width="3.4"/>
<line x1="235.25" y1="2343.8" x2="244.85" y2="2343.8" stroke-width="3.4"/>
<rect x="235.75" y="2332.5" width="8.6" height="8.6" fill="#000" stroke="none"/>
<rect x="298.82" y="2306.5" width="8.6" height="8.6" fill="#000" stroke="none"/>
<line x1="366.2" y1="2291.7" x2="366.2" y2="2299.7" stroke-width="3.6"/>
<line x1="361.4" y1="2291.7" x2="371" y2="2291.7" stroke-width="3.4"/>
<line x1="361.4" y1="2299.7" x2="371" y2="2299.7" stroke-width="3.4"/>
<rect x="361.9" y="2291.4" width="8.6" height="8.6" fill="#000" stroke="none"/>
<line x1="113.9" y1="2172.85" x2="113.9" y2="2426.3" stroke-width="4.5"/>
<line x1="101.65" y1="2175.1" x2="113.9" y2="2175.1" stroke-width="4.5"/>
<text x="90.65" y="2183.05" font-size="25" text-anchor="end">15</text>
<line x1="101.65" y1="2258.83" x2="113.9" y2="2258.83" stroke-width="4.5"/>
<text x="90.65" y="2266.78" font-size="25" text-anchor="end">10</text>
<line x1="101.65" y1="2342.57" x2="113.9" y2="2342.57" stroke-width="4.5"/>
<text x="90.65" y="2350.52" font-size="25" text-anchor="end">5</text>
<line x1="101.65" y1="2426.3" x2="113.9" y2="2426.3" stroke-width="4.5"/>
<text x="90.65" y="2434.25" font-size="25" text-anchor="end">0</text>
<line x1="102.8" y1="2426.3" x2="368.4" y2="2426.3" stroke-width="4.5"/>
<line x1="113.9" y1="2426.3" x2="113.9" y2="2438.05" stroke-width="4.5"/>
<line x1="176.97" y1="2426.3" x2="176.97" y2="2438.05" stroke-width="4.5"/>
<line x1="240.05" y1="2426.3" x2="240.05" y2="2438.05" stroke-width="4.5"/>
<line x1="303.12" y1="2426.3" x2="303.12" y2="2438.05" stroke-width="4.5"/>
<line x1="366.2" y1="2426.3" x2="366.2" y2="2438.05" stroke-width="4.5"/>
<text x="113.9" y="2468.9" font-size="25" text-anchor="middle">0</text>
<text x="176.97" y="2468.9" font-size="25" text-anchor="middle">30</text>
<text x="240.05" y="2468.9" font-size="25" text-anchor="middle">60</text>
<text x="303.12" y="2468.9" font-size="25" text-anchor="middle">90</text>
<text x="366.2" y="2468.9" font-size="25" text-anchor="middle">120</text>
<text x="239.1" y="2507.4" font-size="25" text-anchor="middle">Time (min)</text>
<text font-size="25" text-anchor="middle" transform="translate(41.1 2307) rotate(-90)">Glucose (mmol/l)</text>
<text font-size="16.5" x="137.8" y="2271.5"><tspan font-style="italic">p</tspan><tspan> = 0.0016</tspan></text>
<text font-size="16.5" x="184.2" y="2288"><tspan font-style="italic">p</tspan><tspan> = 0.0050</tspan></text>
<text font-size="16.5" x="290.7" y="2274.2"><tspan font-style="italic">p</tspan><tspan> = 0.0132</tspan></text>
<text font-size="16.5" x="263.7" y="2353.2"><tspan font-style="italic">p</tspan><tspan> = 0.0159</tspan></text>
<text font-size="16.5" x="121.9" y="2385"><tspan font-style="italic">p</tspan><tspan> = 0.0019</tspan></text>
<text font-size="16.5" x="160.8" y="2402.4"><tspan font-style="italic">p</tspan><tspan> = 0.0145</tspan></text>
<text x="144.4" y="2314.3" font-size="30" font-weight="bold" stroke="#000" stroke-width="0.7">##</text>
<text x="172.8" y="2331.5" font-size="30" font-weight="bold" stroke="#000" stroke-width="0.7">##</text>
<text x="241.7" y="2310.8" font-size="30" font-weight="bold" stroke="#000" stroke-width="0.7">#</text>
<text x="142" y="2376.6" font-size="25" text-anchor="middle">**</text>
<text x="179.7" y="2361" font-size="20" text-anchor="middle">*</text>
<text x="251.2" y="2371" font-size="30" text-anchor="middle">*</text>
<rect x="568.4" y="2277.7" width="29.3" height="148.3" fill="#aedeae" stroke="#000" stroke-width="4"/>
<rect x="619" y="2359.4" width="29.3" height="66.6" fill="#ff0000" stroke="#000" stroke-width="4"/>
<rect x="669.3" y="2281.9" width="29.4" height="144.1" fill="#0000c0" stroke="#000" stroke-width="4"/>
<line x1="549.3" y1="2172.05" x2="549.3" y2="2426.7" stroke-width="4.5"/>
<line x1="537.05" y1="2174.3" x2="549.3" y2="2174.3" stroke-width="4.5"/>
<text x="526.05" y="2182.25" font-size="25" text-anchor="end">1.0</text>
<line x1="537.05" y1="2237.4" x2="549.3" y2="2237.4" stroke-width="4.5"/>
<text x="526.05" y="2245.35" font-size="25" text-anchor="end">0.9</text>
<line x1="537.05" y1="2300.5" x2="549.3" y2="2300.5" stroke-width="4.5"/>
<text x="526.05" y="2308.45" font-size="25" text-anchor="end">0.8</text>
<line x1="537.05" y1="2363.6" x2="549.3" y2="2363.6" stroke-width="4.5"/>
<text x="526.05" y="2371.55" font-size="25" text-anchor="end">0.7</text>
<line x1="537.05" y1="2426.7" x2="549.3" y2="2426.7" stroke-width="4.5"/>
<text x="526.05" y="2434.65" font-size="25" text-anchor="end">0.6</text>
<line x1="537.8" y1="2426.7" x2="719.8" y2="2426.7" stroke-width="4.5"/>
<line x1="583" y1="2426.7" x2="583" y2="2438.45" stroke-width="4.5"/>
<line x1="633.4" y1="2426.7" x2="633.4" y2="2438.45" stroke-width="4.5"/>
<line x1="684" y1="2426.7" x2="684" y2="2438.45" stroke-width="4.5"/>
<line x1="583" y1="2260.1" x2="583" y2="2288.7" stroke-width="3.5"/>
<line x1="575" y1="2260.1" x2="591" y2="2260.1" stroke-width="3.5"/>
<line x1="575" y1="2288.7" x2="591" y2="2288.7" stroke-width="3.5"/>
<circle cx="575.1" cy="2245.1" r="6.4" fill="#fff" stroke="#000" stroke-width="4.1"/>
<circle cx="590.9" cy="2244.1" r="6.4" fill="#fff" stroke="#000" stroke-width="4.1"/>
<circle cx="583" cy="2247" r="6.4" fill="#fff" stroke="#000" stroke-width="4.1"/>
<circle cx="592" cy="2267.8" r="6.4" fill="#fff" stroke="#000" stroke-width="4.1"/>
<circle cx="574.3" cy="2275.3" r="6.4" fill="#fff" stroke="#000" stroke-width="4.1"/>
<circle cx="583" cy="2297.2" r="6.4" fill="#fff" stroke="#000" stroke-width="4.1"/>
<circle cx="583" cy="2345.5" r="6.4" fill="#fff" stroke="#000" stroke-width="4.1"/>
<line x1="633.6" y1="2352" x2="633.6" y2="2363.2" stroke-width="3.5"/>
<line x1="625.6" y1="2352" x2="641.6" y2="2352" stroke-width="3.5"/>
<line x1="625.6" y1="2363.2" x2="641.6" y2="2363.2" stroke-width="3.5"/>
<circle cx="633.6" cy="2312.8" r="6.4" fill="#fff" stroke="#000" stroke-width="4.1"/>
<circle cx="625.7" cy="2347.6" r="6.4" fill="#fff" stroke="#000" stroke-width="4.1"/>
<circle cx="640.9" cy="2347.6" r="6.4" fill="#fff" stroke="#000" stroke-width="4.1"/>
<circle cx="625.1" cy="2371.5" r="6.4" fill="#fff" stroke="#000" stroke-width="4.1"/>
<circle cx="642.4" cy="2372.6" r="6.4" fill="#fff" stroke="#000" stroke-width="4.1"/>
<circle cx="633.6" cy="2399" r="6.4" fill="#fff" stroke="#000" stroke-width="4.1"/>
<line x1="684" y1="2259.5" x2="684" y2="2298.2" stroke-width="3.5"/>
<line x1="676" y1="2259.5" x2="692" y2="2259.5" stroke-width="3.5"/>
<line x1="676" y1="2298.2" x2="692" y2="2298.2" stroke-width="3.5"/>
<circle cx="692.3" cy="2213.7" r="6.4" fill="#fff" stroke="#000" stroke-width="4.1"/>
<circle cx="675.3" cy="2224.7" r="6.4" fill="#fff" stroke="#000" stroke-width="4.1"/>
<circle cx="684" cy="2246.6" r="6.4" fill="#fff" stroke="#000" stroke-width="4.1"/>
<circle cx="684" cy="2285.1" r="6.4" fill="#fff" stroke="#000" stroke-width="4.1"/>
<circle cx="675.7" cy="2318.8" r="6.4" fill="#fff" stroke="#000" stroke-width="4.1"/>
<circle cx="692.8" cy="2319.5" r="6.4" fill="#fff" stroke="#000" stroke-width="4.1"/>
<circle cx="684" cy="2348.6" r="6.4" fill="#fff" stroke="#000" stroke-width="4.1"/>
<text font-size="16.5" x="623.2" y="2172.7"><tspan font-style="italic">p</tspan><tspan> = 0.0037</tspan></text>
<polyline points="624.3,2190 624.3,2180.4 693.4,2180.4 693.4,2190" fill="none" stroke="#000" stroke-width="2" stroke-linejoin="miter"/>
<text font-size="16.5" x="564.3" y="2207.5"><tspan font-style="italic">p</tspan><tspan> = 0.0023</tspan></text>
<polyline points="575.1,2221.6 575.1,2212.9 635.7,2212.9 635.7,2221.6" fill="none" stroke="#000" stroke-width="2" stroke-linejoin="miter"/>
<text font-size="25" text-anchor="middle" transform="translate(472.7 2302.1) rotate(-90)"><tspan>AUC (mmol min l</tspan><tspan dy="-11.5" font-size="16">−1</tspan><tspan dy="11.5">× 10</tspan><tspan dy="-11.5" font-size="16">3</tspan><tspan dy="11.5">)</tspan></text>
<text x="787" y="2084.2" font-size="40" font-weight="bold">p</text>
<rect x="877.1" y="2404.3" width="10.6" height="23.5" fill="#aedeae" stroke="#000" stroke-width="4.4"/>
<rect x="901.4" y="2218.9" width="10.4" height="208.9" fill="#a00000" stroke="#000" stroke-width="4.4"/>
<rect x="925" y="2411" width="10.6" height="16.8" fill="#0000c0" stroke="#000" stroke-width="4.4"/>
<rect x="964.3" y="2404.3" width="11.1" height="23.5" fill="#aedeae" stroke="#000" stroke-width="4.4"/>
<rect x="988.6" y="2300.6" width="10.6" height="127.2" fill="#a00000" stroke="#000" stroke-width="4.4"/>
<rect x="1012.9" y="2408.8" width="10.6" height="19" fill="#0000c0" stroke="#000" stroke-width="4.4"/>
<line x1="866.1" y1="2172.85" x2="866.1" y2="2428.6" stroke-width="4.5"/>
<line x1="853.85" y1="2175.1" x2="866.1" y2="2175.1" stroke-width="4.5"/>
<text x="842.85" y="2183.05" font-size="25" text-anchor="end">8</text>
<line x1="853.85" y1="2238.47" x2="866.1" y2="2238.47" stroke-width="4.5"/>
<text x="842.85" y="2246.42" font-size="25" text-anchor="end">6</text>
<line x1="853.85" y1="2301.85" x2="866.1" y2="2301.85" stroke-width="4.5"/>
<text x="842.85" y="2309.8" font-size="25" text-anchor="end">4</text>
<line x1="853.85" y1="2365.22" x2="866.1" y2="2365.22" stroke-width="4.5"/>
<text x="842.85" y="2373.17" font-size="25" text-anchor="end">2</text>
<line x1="853.85" y1="2428.6" x2="866.1" y2="2428.6" stroke-width="4.5"/>
<text x="842.85" y="2436.55" font-size="25" text-anchor="end">0</text>
<line x1="854.4" y1="2428.6" x2="1037.2" y2="2428.6" stroke-width="4.5"/>
<line x1="905.8" y1="2428.6" x2="905.8" y2="2440.35" stroke-width="4.5"/>
<line x1="993.7" y1="2428.6" x2="993.7" y2="2440.35" stroke-width="4.5"/>
<circle cx="881.6" cy="2394.5" r="6.4" fill="#fff" stroke="#000" stroke-width="4.1"/>
<circle cx="882.8" cy="2397" r="6.4" fill="#fff" stroke="#000" stroke-width="4.1"/>
<circle cx="882.2" cy="2396" r="6.4" fill="#fff" stroke="#000" stroke-width="4.1"/>
<circle cx="906.5" cy="2193.9" r="6.4" fill="#fff" stroke="#000" stroke-width="4.1"/>
<circle cx="916.2" cy="2208.9" r="6.4" fill="#fff" stroke="#000" stroke-width="4.1"/>
<circle cx="902" cy="2216" r="6.4" fill="#fff" stroke="#000" stroke-width="4.1"/>
<circle cx="929.4" cy="2398.8" r="6.4" fill="#fff" stroke="#000" stroke-width="4.1"/>
<circle cx="930.5" cy="2405.5" r="6.4" fill="#fff" stroke="#000" stroke-width="4.1"/>
<circle cx="969.2" cy="2394.5" r="6.4" fill="#fff" stroke="#000" stroke-width="4.1"/>
<circle cx="970.4" cy="2397" r="6.4" fill="#fff" stroke="#000" stroke-width="4.1"/>
<circle cx="969.8" cy="2395.5" r="6.4" fill="#fff" stroke="#000" stroke-width="4.1"/>
<circle cx="993.7" cy="2279.6" r="6.4" fill="#fff" stroke="#000" stroke-width="4.1"/>
<circle cx="994.8" cy="2293.9" r="6.4" fill="#fff" stroke="#000" stroke-width="4.1"/>
<circle cx="1017.2" cy="2398.5" r="6.4" fill="#fff" stroke="#000" stroke-width="4.1"/>
<circle cx="1018.9" cy="2402" r="6.4" fill="#fff" stroke="#000" stroke-width="4.1"/>
<circle cx="1017.8" cy="2399.9" r="6.4" fill="#fff" stroke="#000" stroke-width="4.1"/>
<circle cx="1018.8" cy="2402.5" r="6.4" fill="#fff" stroke="#000" stroke-width="4.1"/>
<text font-size="16.5" x="923.5" y="2142"><tspan font-style="italic">p</tspan><tspan> &lt; 0.0001</tspan></text>
<line x1="915.7" y1="2148.9" x2="1007.4" y2="2148.9" stroke-width="1.6"/>
<text x="895.2" y="2179" font-size="26" text-anchor="middle">***</text>
<polyline points="878.6,2184 878.6,2174.7 911.3,2174.7 911.3,2184" fill="none" stroke="#000" stroke-width="2" stroke-linejoin="miter"/>
<text x="936.6" y="2184" font-size="26" text-anchor="middle">***</text>
<polyline points="918.4,2189 918.4,2179.6 951.1,2179.6 951.1,2189" fill="none" stroke="#000" stroke-width="2" stroke-linejoin="miter"/>
<text x="983.3" y="2265" font-size="26" text-anchor="middle">***</text>
<polyline points="966.1,2269.7 966.1,2260.2 998.5,2260.2 998.5,2269.7" fill="none" stroke="#000" stroke-width="2" stroke-linejoin="miter"/>
<text x="1023" y="2270" font-size="26" text-anchor="middle">***</text>
<polyline points="1005.6,2276.3 1005.6,2266.8 1037.9,2266.8 1037.9,2276.3" fill="none" stroke="#000" stroke-width="2" stroke-linejoin="miter"/>
<text x="907.1" y="2469.5" font-size="25" text-anchor="middle" font-style="italic">Ins1</text>
<text x="993.9" y="2469.5" font-size="25" text-anchor="middle" font-style="italic">Ins2</text>
<text font-size="25" text-anchor="middle" transform="translate(806 2293.4) rotate(-90)">Relative mRNA level</text>
<text x="1129" y="2085.4" font-size="40" font-weight="bold">q</text>
<rect x="1459.8" y="2002" width="41.4" height="20.8" fill="#aedeae" stroke="#000" stroke-width="3"/>
<rect x="1459.8" y="2042.5" width="41.4" height="20" fill="#ff0000" stroke="#000" stroke-width="3"/>
<rect x="1459.8" y="2084.5" width="41.4" height="20.8" fill="#0000c0" stroke="#000" stroke-width="3"/>
<text x="1512" y="2018" font-size="20.8">control</text>
<text x="1513" y="2060.1" font-size="20.6" font-style="italic">Len-shFoxo1</text>
<text x="1513" y="2088.1" font-size="20.6" font-style="italic">Len-shFoxo1 +</text>
<text x="1513" y="2112.6" font-size="20.6" font-style="italic">Len-miR-802</text>
<rect x="1240.1" y="2389.1" width="10.9" height="36.8" fill="#aedeae" stroke="#000" stroke-width="4.2"/>
<rect x="1264.6" y="2356.1" width="11" height="69.8" fill="#a00000" stroke="#000" stroke-width="4.2"/>
<rect x="1289.5" y="2389.1" width="11.4" height="36.8" fill="#0000c0" stroke="#000" stroke-width="4.2"/>
<rect x="1329.2" y="2300.6" width="11.4" height="125.3" fill="#aedeae" stroke="#000" stroke-width="4.2"/>
<rect x="1354.5" y="2215.9" width="10.6" height="210" fill="#a00000" stroke="#000" stroke-width="4.2"/>
<rect x="1379" y="2310.1" width="10.6" height="115.8" fill="#0000c0" stroke="#000" stroke-width="4.2"/>
<rect x="1418.7" y="2309.4" width="11.4" height="116.5" fill="#aedeae" stroke="#000" stroke-width="4.2"/>
<rect x="1444" y="2216.6" width="10.6" height="209.3" fill="#a00000" stroke="#000" stroke-width="4.2"/>
<rect x="1468.6" y="2310.1" width="10.5" height="115.8" fill="#0000c0" stroke="#000" stroke-width="4.2"/>
<line x1="1229.4" y1="2171.85" x2="1229.4" y2="2426.8" stroke-width="4.5"/>
<line x1="1217.15" y1="2174.1" x2="1229.4" y2="2174.1" stroke-width="4.5"/>
<text x="1206.15" y="2182.05" font-size="25" text-anchor="end">2.0</text>
<line x1="1217.15" y1="2237.28" x2="1229.4" y2="2237.28" stroke-width="4.5"/>
<text x="1206.15" y="2245.22" font-size="25" text-anchor="end">1.5</text>
<line x1="1217.15" y1="2300.45" x2="1229.4" y2="2300.45" stroke-width="4.5"/>
<text x="1206.15" y="2308.4" font-size="25" text-anchor="end">1.0</text>
<line x1="1217.15" y1="2363.62" x2="1229.4" y2="2363.62" stroke-width="4.5"/>
<text x="1206.15" y="2371.57" font-size="25" text-anchor="end">0.5</text>
<line x1="1217.15" y1="2426.8" x2="1229.4" y2="2426.8" stroke-width="4.5"/>
<text x="1206.15" y="2434.75" font-size="25" text-anchor="end">0.0</text>
<line x1="1217.3" y1="2426.8" x2="1492.9" y2="2426.8" stroke-width="4.5"/>
<line x1="1269.9" y1="2426.8" x2="1269.9" y2="2438.55" stroke-width="4.5"/>
<line x1="1359.4" y1="2426.8" x2="1359.4" y2="2438.55" stroke-width="4.5"/>
<line x1="1448.9" y1="2426.8" x2="1448.9" y2="2438.55" stroke-width="4.5"/>
<circle cx="1245.3" cy="2387.8" r="6.1" fill="#fff" stroke="#000" stroke-width="4"/>
<circle cx="1245.3" cy="2378.1" r="6.1" fill="#fff" stroke="#000" stroke-width="4"/>
<circle cx="1270.6" cy="2352.8" r="6.1" fill="#fff" stroke="#000" stroke-width="4"/>
<circle cx="1269.9" cy="2346.2" r="6.1" fill="#fff" stroke="#000" stroke-width="4"/>
<circle cx="1294.8" cy="2382.5" r="6.1" fill="#fff" stroke="#000" stroke-width="4"/>
<circle cx="1295.2" cy="2383.9" r="6.1" fill="#fff" stroke="#000" stroke-width="4"/>
<line x1="1335.3" y1="2280" x2="1335.3" y2="2300" stroke-width="3"/>
<circle cx="1335.3" cy="2274.9" r="6.1" fill="#fff" stroke="#000" stroke-width="4"/>
<circle cx="1331" cy="2305.3" r="6.1" fill="#fff" stroke="#000" stroke-width="4"/>
<circle cx="1345" cy="2305.3" r="6.1" fill="#fff" stroke="#000" stroke-width="4"/>
<circle cx="1360.2" cy="2217.7" r="6.1" fill="#fff" stroke="#000" stroke-width="4"/>
<circle cx="1361.3" cy="2205.3" r="6.1" fill="#fff" stroke="#000" stroke-width="4"/>
<circle cx="1359.4" cy="2199" r="6.1" fill="#fff" stroke="#000" stroke-width="4"/>
<circle cx="1384.2" cy="2305.8" r="6.1" fill="#fff" stroke="#000" stroke-width="4"/>
<circle cx="1384.7" cy="2307.3" r="6.1" fill="#fff" stroke="#000" stroke-width="4"/>
<circle cx="1425.2" cy="2310" r="6.1" fill="#fff" stroke="#000" stroke-width="4"/>
<circle cx="1424.4" cy="2301.4" r="6.1" fill="#fff" stroke="#000" stroke-width="4"/>
<circle cx="1448.9" cy="2206.8" r="6.1" fill="#fff" stroke="#000" stroke-width="4"/>
<circle cx="1459.4" cy="2208" r="6.1" fill="#fff" stroke="#000" stroke-width="4"/>
<circle cx="1445.8" cy="2226.3" r="6.1" fill="#fff" stroke="#000" stroke-width="4"/>
<circle cx="1473.5" cy="2311.5" r="6.1" fill="#fff" stroke="#000" stroke-width="4"/>
<circle cx="1473.1" cy="2306.5" r="6.1" fill="#fff" stroke="#000" stroke-width="4"/>
<text font-size="16.5" x="1331.4" y="2151.5"><tspan font-style="italic">p</tspan><tspan> &lt; 0.0001</tspan></text>
<polyline points="1358.2,2165.2 1358.2,2156.6 1395.6,2156.6 1395.6,2165.2" fill="none" stroke="#000" stroke-width="2" stroke-linejoin="miter"/>
<text font-size="16.5" x="1306.1" y="2180"><tspan font-style="italic">p</tspan><tspan> &lt; 0.0001</tspan></text>
<polyline points="1326.3,2192.4 1326.3,2183.5 1362.1,2183.5 1362.1,2192.4" fill="none" stroke="#000" stroke-width="2" stroke-linejoin="miter"/>
<text font-size="16.5" x="1441.5" y="2151.5"><tspan font-style="italic">p</tspan><tspan> &lt; 0.0001</tspan></text>
<polyline points="1450.9,2165.2 1450.9,2156.6 1488.3,2156.6 1488.3,2165.2" fill="none" stroke="#000" stroke-width="2" stroke-linejoin="miter"/>
<text font-size="16.5" x="1415.1" y="2180"><tspan font-style="italic">p</tspan><tspan> &lt; 0.0001</tspan></text>
<polyline points="1419,2195.1 1419,2185.8 1455.6,2185.8 1455.6,2195.1" fill="none" stroke="#000" stroke-width="2" stroke-linejoin="miter"/>
<text font-size="16.5" x="1243.8" y="2294.8"><tspan font-style="italic">p</tspan><tspan> = 0.0003</tspan></text>
<polyline points="1269.1,2311.2 1269.1,2302.2 1301.8,2302.2 1301.8,2311.2" fill="none" stroke="#000" stroke-width="2" stroke-linejoin="miter"/>
<text font-size="16.5" x="1233.7" y="2324"><tspan font-style="italic">p</tspan><tspan> = 0.0004</tspan></text>
<polyline points="1238.7,2338.4 1238.7,2329.4 1271,2329.4 1271,2338.4" fill="none" stroke="#000" stroke-width="2" stroke-linejoin="miter"/>
<text font-size="25" text-anchor="middle" transform="translate(1149.2 2300.4) rotate(-90)">Insulin release (% of content)</text>
<text font-size="25" transform="translate(1211.6 2512.11) rotate(-34)">2.5 mM</text>
<text font-size="25" transform="translate(1228.66 2537.39) rotate(-34)">glucose</text>
<text font-size="25" transform="translate(1290.57 2519.48) rotate(-34)">33.3 mM</text>
<text font-size="25" transform="translate(1307.63 2544.77) rotate(-34)">glucose</text>
<text font-size="25" transform="translate(1398.66 2507.82) rotate(-34)">35 mM</text>
<text font-size="25" transform="translate(1415.71 2533.11) rotate(-34)">KCl</text>
<text x="342.3" y="52" font-size="25">islet</text>
<text x="445.5" y="48.3" font-size="25" style="fill:#0b6fc0">DAPI</text>
<text x="615.2" y="48.3" font-size="25" style="fill:#ff0000">Ins1</text>
<text x="771.6" y="48.3" font-size="25">Merge</text>
<text font-size="25" text-anchor="middle" transform="translate(372.2 145.3) rotate(-90)">NC</text>
<text font-size="25" text-anchor="middle" font-style="italic" transform="translate(372.2 324.6) rotate(-90)">miR-802</text>
<rect x="387.4" y="62.2" width="168.1" height="168.3" fill="#000" stroke="none"/>
<g clip-path="url(#ca00)">
<g filter="url(#b1)" fill="#0000ff" opacity="0.4">
<circle cx="420.05" cy="79.29" r="2.99"/>
<circle cx="409.92" cy="114.69" r="3.58"/>
<circle cx="469.09" cy="114.47" r="3.58"/>
<circle cx="458.43" cy="141.66" r="3.34"/>
<circle cx="526.13" cy="157.65" r="4.54"/>
<circle cx="450.43" cy="108.61" r="3.58"/>
<circle cx="435.51" cy="110.74" r="3.34"/>
<circle cx="453.1" cy="170.98" r="3.34"/>
<circle cx="423.25" cy="192.3" r="3.34"/>
<circle cx="447.77" cy="195.5" r="3.34"/>
<circle cx="476.02" cy="92.08" r="2.99"/>
</g>
<g filter="url(#b1)" fill="#0000ff" opacity="0.45">
<circle cx="435.72" cy="84.83" r="4.18"/>
</g>
<g filter="url(#b1)" fill="#0000ff" opacity="0.5">
<circle cx="457.58" cy="197.63" r="4.18"/>
<circle cx="511.73" cy="90.48" r="2.99"/>
<circle cx="495.21" cy="176.31" r="4.18"/>
</g>
<g filter="url(#b1)" fill="#0000ff" opacity="0.6">
<circle cx="476.02" cy="128.86" r="4.18"/>
<circle cx="454.16" cy="119.8" r="3.58"/>
<circle cx="445.1" cy="125.67" r="3.58"/>
<circle cx="441.9" cy="119.8" r="3.58"/>
<circle cx="462.69" cy="135.26" r="4.18"/>
<circle cx="473.35" cy="151.25" r="4.54"/>
<circle cx="484.23" cy="158.71" r="3.82"/>
<circle cx="507.47" cy="130.46" r="4.18"/>
<circle cx="498.41" cy="132.6" r="3.58"/>
<circle cx="493.61" cy="119.27" r="3.58"/>
<circle cx="500.54" cy="119.27" r="3.58"/>
<circle cx="495.21" cy="125.67" r="3.34"/>
<circle cx="516.53" cy="143.79" r="4.18"/>
<circle cx="522.39" cy="143.26" r="3.34"/>
<circle cx="401.93" cy="97.95" r="2.15"/>
</g>
<g filter="url(#b1)" fill="#0000ff" opacity="0.7">
<circle cx="512.8" cy="136.86" r="4.78"/>
<circle cx="489.88" cy="137.39" r="3.58"/>
<circle cx="437.11" cy="149.65" r="2.63"/>
</g>
<g filter="url(#b1)" fill="#0000ff" opacity="0.8">
<circle cx="432.63" cy="94.75" r="3.82"/>
<circle cx="424.85" cy="157.65" r="3.82"/>
<circle cx="459.71" cy="207.22" r="3.82"/>
<circle cx="485.61" cy="107.54" r="4.18"/>
<circle cx="467.49" cy="120.87" r="4.18"/>
<circle cx="468.02" cy="189.1" r="2.39"/>
</g>
<g filter="url(#b1)" fill="#0000ff" opacity="0.9">
<circle cx="432.63" cy="170.44" r="4.54"/>
<circle cx="474.42" cy="107.01" r="4.54"/>
<circle cx="532.2" cy="128.86" r="4.18"/>
<circle cx="498.41" cy="143.26" r="4.54"/>
<circle cx="482.95" cy="137.39" r="4.54"/>
<circle cx="486.15" cy="150.72" r="4.78"/>
<circle cx="498.94" cy="182.7" r="3.82"/>
</g>
<g filter="url(#b1)" fill="#0000ff" opacity="1">
<circle cx="408.86" cy="94.96" r="3.82"/>
<circle cx="396.06" cy="104.13" r="2.99"/>
<circle cx="419.52" cy="106.48" r="3.58"/>
<circle cx="418.98" cy="114.47" r="3.82"/>
<circle cx="427.51" cy="115" r="3.58"/>
<circle cx="413.12" cy="129.18" r="3.58"/>
<circle cx="430.5" cy="132.92" r="3.34"/>
<circle cx="409.39" cy="151.79" r="3.58"/>
<circle cx="442.22" cy="162.77" r="3.82"/>
<circle cx="453.63" cy="161.59" r="4.18"/>
<circle cx="433.59" cy="201.36" r="3.34"/>
<circle cx="501.61" cy="92.62" r="3.34"/>
<circle cx="507.47" cy="97.95" r="3.82"/>
<circle cx="527.41" cy="108.29" r="3.58"/>
<circle cx="532.52" cy="119.8" r="4.78"/>
<circle cx="517.6" cy="123.53" r="4.18"/>
<circle cx="531.46" cy="139.21" r="4.54"/>
<circle cx="535.19" cy="146.67" r="3.58"/>
<circle cx="546.17" cy="134.19" r="3.82"/>
<circle cx="507.47" cy="152.64" r="3.82"/>
<circle cx="486.15" cy="169.38" r="3.82"/>
<circle cx="512.8" cy="169.38" r="3.34"/>
<circle cx="510.67" cy="179.5" r="3.34"/>
<circle cx="476.55" cy="183.24" r="2.15"/>
</g>
</g>
<rect x="506" y="210.6" width="22" height="5.6" fill="#fff" stroke="none"/>
<rect x="558.9" y="62.2" width="168.7" height="168.3" fill="#000" stroke="none"/>
<g clip-path="url(#ca01)">
<circle cx="605.94" cy="85.69" r="4.61" fill="#d00000" fill-opacity="0.5" stroke="#d00000" stroke-width="3.2" opacity="0.8" filter="url(#b1)"/>
<circle cx="581.74" cy="93.68" r="4.61" fill="#d00000" fill-opacity="0.5" stroke="#d00000" stroke-width="3.2" opacity="0.7" filter="url(#b1)"/>
<circle cx="649.12" cy="92.62" r="4.61" fill="#d00000" fill-opacity="0.5" stroke="#d00000" stroke-width="3.2" opacity="0.5" filter="url(#b1)"/>
<circle cx="681.31" cy="180.04" r="3.99" fill="#d00000" fill-opacity="0.5" stroke="#d00000" stroke-width="2.77" opacity="0.8" filter="url(#b1)"/>
<circle cx="686.43" cy="168.84" r="4.45" fill="#d00000" fill-opacity="0.5" stroke="#d00000" stroke-width="3.09" opacity="0.6" filter="url(#b1)"/>
<circle cx="680.04" cy="154.45" r="5.37" fill="#d00000" fill-opacity="0.5" stroke="#d00000" stroke-width="3.73" opacity="0.5" filter="url(#b1)"/>
<circle cx="717.35" cy="156.05" r="4.22" fill="#d00000" fill-opacity="0.5" stroke="#d00000" stroke-width="2.93" opacity="0.5" filter="url(#b1)"/>
<circle cx="607.01" cy="200.83" r="3.99" fill="#d00000" fill-opacity="0.5" stroke="#d00000" stroke-width="2.77" opacity="0.5" filter="url(#b1)"/>
<circle cx="608.29" cy="148.59" r="3.84" fill="#d00000" fill-opacity="0.5" stroke="#d00000" stroke-width="2.67" opacity="0.5" filter="url(#b1)"/>
<circle cx="580.89" cy="114.47" r="4.76" fill="#d00000" fill-opacity="0.5" stroke="#d00000" stroke-width="3.3" opacity="0.45" filter="url(#b1)"/>
<circle cx="702.42" cy="105.41" r="4.76" fill="#d00000" fill-opacity="0.5" stroke="#d00000" stroke-width="3.3" opacity="0.45" filter="url(#b1)"/>
<circle cx="582.49" cy="153.38" r="3.84" fill="#d00000" fill-opacity="0.5" stroke="#d00000" stroke-width="2.67" opacity="0.4" filter="url(#b1)"/>
<circle cx="617.14" cy="104.88" r="4.22" fill="#d00000" fill-opacity="0.5" stroke="#d00000" stroke-width="2.93" opacity="0.35" filter="url(#b1)"/>
<circle cx="567.03" cy="106.48" r="3.84" fill="#d00000" fill-opacity="0.5" stroke="#d00000" stroke-width="2.67" opacity="0.35" filter="url(#b1)"/>
<circle cx="602.74" cy="112.87" r="3.84" fill="#d00000" fill-opacity="0.5" stroke="#d00000" stroke-width="2.67" opacity="0.3" filter="url(#b1)"/>
<circle cx="685.9" cy="88.35" r="4.61" fill="#d00000" fill-opacity="0.5" stroke="#d00000" stroke-width="3.2" opacity="0.35" filter="url(#b1)"/>
<circle cx="640.06" cy="190.7" r="3.68" fill="#d00000" fill-opacity="0.5" stroke="#d00000" stroke-width="2.56" opacity="0.35" filter="url(#b1)"/>
<circle cx="627.8" cy="182.7" r="4.22" fill="#d00000" fill-opacity="0.5" stroke="#d00000" stroke-width="2.93" opacity="0.3" filter="url(#b1)"/>
<circle cx="615" cy="175.77" r="4.22" fill="#d00000" fill-opacity="0.5" stroke="#d00000" stroke-width="2.93" opacity="0.3" filter="url(#b1)"/>
<circle cx="613.4" cy="161.38" r="3.84" fill="#d00000" fill-opacity="0.5" stroke="#d00000" stroke-width="2.67" opacity="0.25" filter="url(#b1)"/>
<circle cx="623" cy="215.22" r="3.84" fill="#d00000" fill-opacity="0.5" stroke="#d00000" stroke-width="2.67" opacity="0.3" filter="url(#b1)"/>
<circle cx="600.08" cy="129.93" r="3.84" fill="#d00000" fill-opacity="0.5" stroke="#d00000" stroke-width="2.67" opacity="0.25" filter="url(#b1)"/>
<circle cx="710.42" cy="166.71" r="3.07" fill="#d00000" fill-opacity="0.5" stroke="#d00000" stroke-width="2.13" opacity="0.25" filter="url(#b1)"/>
<circle cx="632.06" cy="161.91" r="4.61" fill="#d00000" fill-opacity="0.5" stroke="#d00000" stroke-width="3.2" opacity="0.2" filter="url(#b1)"/>
<circle cx="660.85" cy="168.31" r="3.84" fill="#d00000" fill-opacity="0.5" stroke="#d00000" stroke-width="2.67" opacity="0.2" filter="url(#b1)"/>
<circle cx="723.75" cy="141.66" r="2.3" fill="#d00000" fill-opacity="0.5" stroke="#d00000" stroke-width="1.6" opacity="0.3" filter="url(#b1)"/>
<circle cx="581.95" cy="178.44" r="3.84" fill="#d00000" fill-opacity="0.5" stroke="#d00000" stroke-width="2.67" opacity="0.15" filter="url(#b1)"/>
<circle cx="589.42" cy="126.73" r="3.07" fill="#d00000" fill-opacity="0.5" stroke="#d00000" stroke-width="2.13" opacity="0.2" filter="url(#b1)"/>
</g>
<rect x="678.8" y="210.6" width="22" height="5.6" fill="#fff" stroke="none"/>
<rect x="731.3" y="62.2" width="168.6" height="168.3" fill="#000" stroke="none"/>
<g clip-path="url(#ca02)">
<circle cx="778.34" cy="85.69" r="4.61" fill="#d00000" fill-opacity="0.5" stroke="#d00000" stroke-width="3.2" opacity="0.8" filter="url(#b1)"/>
<circle cx="754.14" cy="93.68" r="4.61" fill="#d00000" fill-opacity="0.5" stroke="#d00000" stroke-width="3.2" opacity="0.7" filter="url(#b1)"/>
<circle cx="821.52" cy="92.62" r="4.61" fill="#d00000" fill-opacity="0.5" stroke="#d00000" stroke-width="3.2" opacity="0.5" filter="url(#b1)"/>
<circle cx="853.71" cy="180.04" r="3.99" fill="#d00000" fill-opacity="0.5" stroke="#d00000" stroke-width="2.77" opacity="0.8" filter="url(#b1)"/>
<circle cx="858.83" cy="168.84" r="4.45" fill="#d00000" fill-opacity="0.5" stroke="#d00000" stroke-width="3.09" opacity="0.6" filter="url(#b1)"/>
<circle cx="852.44" cy="154.45" r="5.37" fill="#d00000" fill-opacity="0.5" stroke="#d00000" stroke-width="3.73" opacity="0.5" filter="url(#b1)"/>
<circle cx="889.75" cy="156.05" r="4.22" fill="#d00000" fill-opacity="0.5" stroke="#d00000" stroke-width="2.93" opacity="0.5" filter="url(#b1)"/>
<circle cx="779.41" cy="200.83" r="3.99" fill="#d00000" fill-opacity="0.5" stroke="#d00000" stroke-width="2.77" opacity="0.5" filter="url(#b1)"/>
<circle cx="780.69" cy="148.59" r="3.84" fill="#d00000" fill-opacity="0.5" stroke="#d00000" stroke-width="2.67" opacity="0.5" filter="url(#b1)"/>
<circle cx="753.29" cy="114.47" r="4.76" fill="#d00000" fill-opacity="0.5" stroke="#d00000" stroke-width="3.3" opacity="0.45" filter="url(#b1)"/>
<circle cx="874.82" cy="105.41" r="4.76" fill="#d00000" fill-opacity="0.5" stroke="#d00000" stroke-width="3.3" opacity="0.45" filter="url(#b1)"/>
<circle cx="754.89" cy="153.38" r="3.84" fill="#d00000" fill-opacity="0.5" stroke="#d00000" stroke-width="2.67" opacity="0.4" filter="url(#b1)"/>
<circle cx="789.54" cy="104.88" r="4.22" fill="#d00000" fill-opacity="0.5" stroke="#d00000" stroke-width="2.93" opacity="0.35" filter="url(#b1)"/>
<circle cx="739.43" cy="106.48" r="3.84" fill="#d00000" fill-opacity="0.5" stroke="#d00000" stroke-width="2.67" opacity="0.35" filter="url(#b1)"/>
<circle cx="775.14" cy="112.87" r="3.84" fill="#d00000" fill-opacity="0.5" stroke="#d00000" stroke-width="2.67" opacity="0.3" filter="url(#b1)"/>
<circle cx="858.3" cy="88.35" r="4.61" fill="#d00000" fill-opacity="0.5" stroke="#d00000" stroke-width="3.2" opacity="0.35" filter="url(#b1)"/>
<circle cx="812.46" cy="190.7" r="3.68" fill="#d00000" fill-opacity="0.5" stroke="#d00000" stroke-width="2.56" opacity="0.35" filter="url(#b1)"/>
<circle cx="800.2" cy="182.7" r="4.22" fill="#d00000" fill-opacity="0.5" stroke="#d00000" stroke-width="2.93" opacity="0.3" filter="url(#b1)"/>
<circle cx="787.4" cy="175.77" r="4.22" fill="#d00000" fill-opacity="0.5" stroke="#d00000" stroke-width="2.93" opacity="0.3" filter="url(#b1)"/>
<circle cx="785.8" cy="161.38" r="3.84" fill="#d00000" fill-opacity="0.5" stroke="#d00000" stroke-width="2.67" opacity="0.25" filter="url(#b1)"/>
<circle cx="795.4" cy="215.22" r="3.84" fill="#d00000" fill-opacity="0.5" stroke="#d00000" stroke-width="2.67" opacity="0.3" filter="url(#b1)"/>
<circle cx="772.48" cy="129.93" r="3.84" fill="#d00000" fill-opacity="0.5" stroke="#d00000" stroke-width="2.67" opacity="0.25" filter="url(#b1)"/>
<circle cx="882.82" cy="166.71" r="3.07" fill="#d00000" fill-opacity="0.5" stroke="#d00000" stroke-width="2.13" opacity="0.25" filter="url(#b1)"/>
<circle cx="804.46" cy="161.91" r="4.61" fill="#d00000" fill-opacity="0.5" stroke="#d00000" stroke-width="3.2" opacity="0.2" filter="url(#b1)"/>
<circle cx="833.25" cy="168.31" r="3.84" fill="#d00000" fill-opacity="0.5" stroke="#d00000" stroke-width="2.67" opacity="0.2" filter="url(#b1)"/>
<circle cx="896.15" cy="141.66" r="2.3" fill="#d00000" fill-opacity="0.5" stroke="#d00000" stroke-width="1.6" opacity="0.3" filter="url(#b1)"/>
<circle cx="754.35" cy="178.44" r="3.84" fill="#d00000" fill-opacity="0.5" stroke="#d00000" stroke-width="2.67" opacity="0.15" filter="url(#b1)"/>
<circle cx="761.82" cy="126.73" r="3.07" fill="#d00000" fill-opacity="0.5" stroke="#d00000" stroke-width="2.13" opacity="0.2" filter="url(#b1)"/>
<g filter="url(#b1)" fill="#0000ff" opacity="0.4">
<circle cx="763.95" cy="79.29" r="2.99"/>
<circle cx="753.82" cy="114.69" r="3.58"/>
<circle cx="812.99" cy="114.47" r="3.58"/>
<circle cx="802.33" cy="141.66" r="3.34"/>
<circle cx="870.03" cy="157.65" r="4.54"/>
<circle cx="794.33" cy="108.61" r="3.58"/>
<circle cx="779.41" cy="110.74" r="3.34"/>
<circle cx="797" cy="170.98" r="3.34"/>
<circle cx="767.15" cy="192.3" r="3.34"/>
<circle cx="791.67" cy="195.5" r="3.34"/>
<circle cx="819.92" cy="92.08" r="2.99"/>
</g>
<g filter="url(#b1)" fill="#0000ff" opacity="0.45">
<circle cx="779.62" cy="84.83" r="4.18"/>
</g>
<g filter="url(#b1)" fill="#0000ff" opacity="0.5">
<circle cx="801.48" cy="197.63" r="4.18"/>
<circle cx="855.63" cy="90.48" r="2.99"/>
<circle cx="839.11" cy="176.31" r="4.18"/>
</g>
<g filter="url(#b1)" fill="#0000ff" opacity="0.6">
<circle cx="819.92" cy="128.86" r="4.18"/>
<circle cx="798.06" cy="119.8" r="3.58"/>
<circle cx="789" cy="125.67" r="3.58"/>
<circle cx="785.8" cy="119.8" r="3.58"/>
<circle cx="806.59" cy="135.26" r="4.18"/>
<circle cx="817.25" cy="151.25" r="4.54"/>
<circle cx="828.13" cy="158.71" r="3.82"/>
<circle cx="851.37" cy="130.46" r="4.18"/>
<circle cx="842.31" cy="132.6" r="3.58"/>
<circle cx="837.51" cy="119.27" r="3.58"/>
<circle cx="844.44" cy="119.27" r="3.58"/>
<circle cx="839.11" cy="125.67" r="3.34"/>
<circle cx="860.43" cy="143.79" r="4.18"/>
<circle cx="866.29" cy="143.26" r="3.34"/>
<circle cx="745.83" cy="97.95" r="2.15"/>
</g>
<g filter="url(#b1)" fill="#0000ff" opacity="0.7">
<circle cx="856.7" cy="136.86" r="4.78"/>
<circle cx="833.78" cy="137.39" r="3.58"/>
<circle cx="781.01" cy="149.65" r="2.63"/>
</g>
<g filter="url(#b1)" fill="#0000ff" opacity="0.8">
<circle cx="776.53" cy="94.75" r="3.82"/>
<circle cx="768.75" cy="157.65" r="3.82"/>
<circle cx="803.61" cy="207.22" r="3.82"/>
<circle cx="829.51" cy="107.54" r="4.18"/>
<circle cx="811.39" cy="120.87" r="4.18"/>
<circle cx="811.92" cy="189.1" r="2.39"/>
</g>
<g filter="url(#b1)" fill="#0000ff" opacity="0.9">
<circle cx="776.53" cy="170.44" r="4.54"/>
<circle cx="818.32" cy="107.01" r="4.54"/>
<circle cx="876.1" cy="128.86" r="4.18"/>
<circle cx="842.31" cy="143.26" r="4.54"/>
<circle cx="826.85" cy="137.39" r="4.54"/>
<circle cx="830.05" cy="150.72" r="4.78"/>
<circle cx="842.84" cy="182.7" r="3.82"/>
</g>
<g filter="url(#b1)" fill="#0000ff" opacity="1">
<circle cx="752.76" cy="94.96" r="3.82"/>
<circle cx="739.96" cy="104.13" r="2.99"/>
<circle cx="763.42" cy="106.48" r="3.58"/>
<circle cx="762.88" cy="114.47" r="3.82"/>
<circle cx="771.41" cy="115" r="3.58"/>
<circle cx="757.02" cy="129.18" r="3.58"/>
<circle cx="774.4" cy="132.92" r="3.34"/>
<circle cx="753.29" cy="151.79" r="3.58"/>
<circle cx="786.12" cy="162.77" r="3.82"/>
<circle cx="797.53" cy="161.59" r="4.18"/>
<circle cx="777.49" cy="201.36" r="3.34"/>
<circle cx="845.51" cy="92.62" r="3.34"/>
<circle cx="851.37" cy="97.95" r="3.82"/>
<circle cx="871.31" cy="108.29" r="3.58"/>
<circle cx="876.42" cy="119.8" r="4.78"/>
<circle cx="861.5" cy="123.53" r="4.18"/>
<circle cx="875.36" cy="139.21" r="4.54"/>
<circle cx="879.09" cy="146.67" r="3.58"/>
<circle cx="890.07" cy="134.19" r="3.82"/>
<circle cx="851.37" cy="152.64" r="3.82"/>
<circle cx="830.05" cy="169.38" r="3.82"/>
<circle cx="856.7" cy="169.38" r="3.34"/>
<circle cx="854.57" cy="179.5" r="3.34"/>
<circle cx="820.45" cy="183.24" r="2.15"/>
</g>
</g>
<rect x="857.8" y="210.6" width="22" height="5.6" fill="#fff" stroke="none"/>
<rect x="387.4" y="239.8" width="168.1" height="168.4" fill="#000" stroke="none"/>
<g clip-path="url(#ca10)">
<g filter="url(#b1)" fill="#0000ff" opacity="0.3">
<circle cx="418.16" cy="272.79" r="2.66"/>
<circle cx="444.92" cy="339.55" r="2.89"/>
<circle cx="413.06" cy="352" r="3.45"/>
<circle cx="427.76" cy="365.16" r="3.36"/>
<circle cx="425.25" cy="340.12" r="2.68"/>
<circle cx="414.24" cy="314.83" r="3.53"/>
<circle cx="489.75" cy="329.04" r="2.85"/>
<circle cx="439.99" cy="268.1" r="2.74"/>
<circle cx="451.31" cy="317.06" r="2.67"/>
<circle cx="481.03" cy="271.24" r="2.92"/>
<circle cx="426.88" cy="297.51" r="3.39"/>
<circle cx="472.69" cy="253.44" r="2.72"/>
<circle cx="507.15" cy="288.92" r="3.12"/>
<circle cx="486.99" cy="260.25" r="3.53"/>
<circle cx="455.71" cy="366.19" r="2.65"/>
<circle cx="490.14" cy="339.69" r="2.67"/>
<circle cx="474.54" cy="335.39" r="3.44"/>
<circle cx="437.24" cy="253.96" r="3.42"/>
<circle cx="461.36" cy="357.56" r="2.71"/>
<circle cx="471.1" cy="300.84" r="3.17"/>
</g>
<g filter="url(#b1)" fill="#0000ff" opacity="0.4">
<circle cx="501.76" cy="301.29" r="3.22"/>
<circle cx="435.44" cy="354.59" r="2.8"/>
<circle cx="402.9" cy="293.35" r="2.68"/>
<circle cx="438.43" cy="304.43" r="2.71"/>
<circle cx="471.15" cy="360.59" r="2.94"/>
<circle cx="443.74" cy="295.68" r="3.02"/>
<circle cx="471.59" cy="320.58" r="3.18"/>
<circle cx="500.01" cy="281.79" r="2.85"/>
<circle cx="491.45" cy="292.57" r="2.96"/>
<circle cx="509.94" cy="328.84" r="3.34"/>
<circle cx="427.5" cy="312.62" r="3"/>
<circle cx="482.26" cy="286.03" r="3.18"/>
<circle cx="448.05" cy="359.87" r="3.28"/>
<circle cx="484.86" cy="360.37" r="3.3"/>
<circle cx="503.81" cy="343.49" r="3.32"/>
<circle cx="497.01" cy="316.62" r="2.64"/>
<circle cx="461.33" cy="297.68" r="3.4"/>
<circle cx="482.68" cy="297.41" r="3.07"/>
<circle cx="462.16" cy="330.44" r="3.49"/>
<circle cx="425.09" cy="328.76" r="2.81"/>
<circle cx="447.82" cy="372.46" r="2.9"/>
<circle cx="415.04" cy="293.39" r="3.23"/>
<circle cx="468.51" cy="273.05" r="3.42"/>
<circle cx="428.77" cy="266.27" r="2.69"/>
<circle cx="472.22" cy="290.24" r="3.16"/>
<circle cx="498.83" cy="332.68" r="3.19"/>
<circle cx="497.96" cy="352.36" r="3.21"/>
<circle cx="405.1" cy="319.52" r="2.93"/>
<circle cx="480.16" cy="324.93" r="3.08"/>
</g>
<g filter="url(#b1)" fill="#0000ff" opacity="0.5">
<circle cx="414.53" cy="325.97" r="3.52"/>
<circle cx="404.81" cy="329.39" r="2.79"/>
<circle cx="471.13" cy="350.45" r="2.74"/>
<circle cx="473.68" cy="264.25" r="2.64"/>
<circle cx="466.47" cy="340.67" r="2.63"/>
<circle cx="429.92" cy="278.48" r="3.26"/>
<circle cx="468.69" cy="370.43" r="2.65"/>
<circle cx="488.34" cy="351.32" r="2.61"/>
<circle cx="463.12" cy="287.3" r="3.16"/>
<circle cx="398.52" cy="308.87" r="3.37"/>
<circle cx="509.92" cy="312.47" r="3.57"/>
<circle cx="437.79" cy="367.28" r="2.81"/>
<circle cx="479.36" cy="345.07" r="2.61"/>
<circle cx="410.84" cy="282.81" r="2.74"/>
<circle cx="447.72" cy="282.14" r="3.42"/>
<circle cx="464.23" cy="310.2" r="3.24"/>
<circle cx="411.26" cy="339.72" r="3.46"/>
<circle cx="451.23" cy="348.4" r="3.3"/>
<circle cx="408.98" cy="301.69" r="3.52"/>
<circle cx="447.21" cy="256.26" r="3.29"/>
<circle cx="439.37" cy="323.41" r="2.6"/>
<circle cx="455.91" cy="339.87" r="3.13"/>
<circle cx="435.41" cy="337.08" r="3.26"/>
<circle cx="487.77" cy="319.17" r="3.02"/>
<circle cx="434.57" cy="289.31" r="2.83"/>
<circle cx="512.51" cy="302.43" r="3.52"/>
<circle cx="479.12" cy="368.1" r="3.39"/>
<circle cx="424.32" cy="286.58" r="2.9"/>
<circle cx="440.33" cy="313.9" r="3.52"/>
<circle cx="461.9" cy="320.67" r="3.09"/>
<circle cx="452.89" cy="290.83" r="2.84"/>
</g>
<g filter="url(#b1)" fill="#0000ff" opacity="0.6">
<circle cx="492.29" cy="307.49" r="2.67"/>
<circle cx="492.04" cy="276.03" r="2.99"/>
<circle cx="449.65" cy="329.36" r="2.62"/>
<circle cx="474.13" cy="310.14" r="3.47"/>
<circle cx="457.89" cy="271.25" r="3.16"/>
<circle cx="452.94" cy="304.71" r="2.8"/>
<circle cx="423.12" cy="356.12" r="2.96"/>
<circle cx="461.49" cy="258.38" r="3.01"/>
<circle cx="419.37" cy="304.82" r="3.12"/>
</g>
<g filter="url(#b1)" fill="#0000ff" opacity="0.7">
<circle cx="499.47" cy="280.88" r="3.34"/>
<circle cx="453.1" cy="368.83" r="3.34"/>
</g>
<g filter="url(#b1)" fill="#0000ff" opacity="0.8">
<circle cx="469.09" cy="367.76" r="3.94"/>
<circle cx="466.96" cy="264.89" r="3.58"/>
<circle cx="449.37" cy="273.42" r="3.34"/>
<circle cx="458.43" cy="276.61" r="3.34"/>
<circle cx="491.48" cy="367.76" r="3.34"/>
</g>
<g filter="url(#b1)" fill="#0000ff" opacity="0.9">
<circle cx="455.23" cy="254.23" r="3.94"/>
<circle cx="444.57" cy="258.49" r="3.58"/>
<circle cx="433.38" cy="258.49" r="3.58"/>
<circle cx="506.94" cy="297.4" r="3.58"/>
<circle cx="440.3" cy="363.5" r="3.94"/>
</g>
<g filter="url(#b1)" fill="#0000ff" opacity="1">
<circle cx="422.71" cy="258.49" r="4.18"/>
<circle cx="429.64" cy="265.42" r="3.94"/>
<circle cx="405.12" cy="286.21" r="3.58"/>
<circle cx="407.79" cy="295.27" r="3.34"/>
<circle cx="408.86" cy="302.2" r="3.58"/>
<circle cx="413.12" cy="316.59" r="3.94"/>
<circle cx="460.56" cy="260.09" r="3.94"/>
<circle cx="406.19" cy="246.76" r="2.63"/>
</g>
</g>
<rect x="506" y="380.8" width="22" height="5.4" fill="#fff" stroke="none"/>
<rect x="558.9" y="239.8" width="168.7" height="168.4" fill="#000" stroke="none"/>
<g clip-path="url(#ca11)">
<circle cx="595.5" cy="294.3" r="4" fill="#c00000" opacity="0.22" filter="url(#b2)"/>
<circle cx="592.5" cy="317.3" r="5" fill="#c00000" opacity="0.15" filter="url(#b2)"/>
<circle cx="670.5" cy="301.3" r="5" fill="#c00000" opacity="0.15" filter="url(#b2)"/>
<circle cx="676.5" cy="331.3" r="5" fill="#c00000" opacity="0.18" filter="url(#b2)"/>
<circle cx="603.5" cy="331.3" r="4" fill="#c00000" opacity="0.15" filter="url(#b2)"/>
<circle cx="633.5" cy="274.3" r="5" fill="#c00000" opacity="0.1" filter="url(#b2)"/>
<circle cx="628.5" cy="367.3" r="6" fill="#c00000" opacity="0.1" filter="url(#b2)"/>
<circle cx="653.5" cy="359.3" r="5" fill="#c00000" opacity="0.1" filter="url(#b2)"/>
</g>
<rect x="678.8" y="380.8" width="22" height="5.4" fill="#fff" stroke="none"/>
<rect x="731.3" y="239.8" width="168.6" height="168.4" fill="#000" stroke="none"/>
<g clip-path="url(#ca12)">
<circle cx="767.9" cy="294.3" r="4" fill="#c00000" opacity="0.22" filter="url(#b2)"/>
<circle cx="764.9" cy="317.3" r="5" fill="#c00000" opacity="0.15" filter="url(#b2)"/>
<circle cx="842.9" cy="301.3" r="5" fill="#c00000" opacity="0.15" filter="url(#b2)"/>
<circle cx="848.9" cy="331.3" r="5" fill="#c00000" opacity="0.18" filter="url(#b2)"/>
<circle cx="775.9" cy="331.3" r="4" fill="#c00000" opacity="0.15" filter="url(#b2)"/>
<circle cx="805.9" cy="274.3" r="5" fill="#c00000" opacity="0.1" filter="url(#b2)"/>
<circle cx="800.9" cy="367.3" r="6" fill="#c00000" opacity="0.1" filter="url(#b2)"/>
<circle cx="825.9" cy="359.3" r="5" fill="#c00000" opacity="0.1" filter="url(#b2)"/>
<g filter="url(#b1)" fill="#0000ff" opacity="0.3">
<circle cx="762.06" cy="272.79" r="2.66"/>
<circle cx="788.82" cy="339.55" r="2.89"/>
<circle cx="756.96" cy="352" r="3.45"/>
<circle cx="771.66" cy="365.16" r="3.36"/>
<circle cx="769.15" cy="340.12" r="2.68"/>
<circle cx="758.14" cy="314.83" r="3.53"/>
<circle cx="833.65" cy="329.04" r="2.85"/>
<circle cx="783.89" cy="268.1" r="2.74"/>
<circle cx="795.21" cy="317.06" r="2.67"/>
<circle cx="824.93" cy="271.24" r="2.92"/>
<circle cx="770.78" cy="297.51" r="3.39"/>
<circle cx="816.59" cy="253.44" r="2.72"/>
<circle cx="851.05" cy="288.92" r="3.12"/>
<circle cx="830.89" cy="260.25" r="3.53"/>
<circle cx="799.61" cy="366.19" r="2.65"/>
<circle cx="834.04" cy="339.69" r="2.67"/>
<circle cx="818.44" cy="335.39" r="3.44"/>
<circle cx="781.14" cy="253.96" r="3.42"/>
<circle cx="805.26" cy="357.56" r="2.71"/>
<circle cx="815" cy="300.84" r="3.17"/>
</g>
<g filter="url(#b1)" fill="#0000ff" opacity="0.4">
<circle cx="845.66" cy="301.29" r="3.22"/>
<circle cx="779.34" cy="354.59" r="2.8"/>
<circle cx="746.8" cy="293.35" r="2.68"/>
<circle cx="782.33" cy="304.43" r="2.71"/>
<circle cx="815.05" cy="360.59" r="2.94"/>
<circle cx="787.64" cy="295.68" r="3.02"/>
<circle cx="815.49" cy="320.58" r="3.18"/>
<circle cx="843.91" cy="281.79" r="2.85"/>
<circle cx="835.35" cy="292.57" r="2.96"/>
<circle cx="853.84" cy="328.84" r="3.34"/>
<circle cx="771.4" cy="312.62" r="3"/>
<circle cx="826.16" cy="286.03" r="3.18"/>
<circle cx="791.95" cy="359.87" r="3.28"/>
<circle cx="828.76" cy="360.37" r="3.3"/>
<circle cx="847.71" cy="343.49" r="3.32"/>
<circle cx="840.91" cy="316.62" r="2.64"/>
<circle cx="805.23" cy="297.68" r="3.4"/>
<circle cx="826.58" cy="297.41" r="3.07"/>
<circle cx="806.06" cy="330.44" r="3.49"/>
<circle cx="768.99" cy="328.76" r="2.81"/>
<circle cx="791.72" cy="372.46" r="2.9"/>
<circle cx="758.94" cy="293.39" r="3.23"/>
<circle cx="812.41" cy="273.05" r="3.42"/>
<circle cx="772.67" cy="266.27" r="2.69"/>
<circle cx="816.12" cy="290.24" r="3.16"/>
<circle cx="842.73" cy="332.68" r="3.19"/>
<circle cx="841.86" cy="352.36" r="3.21"/>
<circle cx="749" cy="319.52" r="2.93"/>
<circle cx="824.06" cy="324.93" r="3.08"/>
</g>
<g filter="url(#b1)" fill="#0000ff" opacity="0.5">
<circle cx="758.43" cy="325.97" r="3.52"/>
<circle cx="748.71" cy="329.39" r="2.79"/>
<circle cx="815.03" cy="350.45" r="2.74"/>
<circle cx="817.58" cy="264.25" r="2.64"/>
<circle cx="810.37" cy="340.67" r="2.63"/>
<circle cx="773.82" cy="278.48" r="3.26"/>
<circle cx="812.59" cy="370.43" r="2.65"/>
<circle cx="832.24" cy="351.32" r="2.61"/>
<circle cx="807.02" cy="287.3" r="3.16"/>
<circle cx="742.42" cy="308.87" r="3.37"/>
<circle cx="853.82" cy="312.47" r="3.57"/>
<circle cx="781.69" cy="367.28" r="2.81"/>
<circle cx="823.26" cy="345.07" r="2.61"/>
<circle cx="754.74" cy="282.81" r="2.74"/>
<circle cx="791.62" cy="282.14" r="3.42"/>
<circle cx="808.13" cy="310.2" r="3.24"/>
<circle cx="755.16" cy="339.72" r="3.46"/>
<circle cx="795.13" cy="348.4" r="3.3"/>
<circle cx="752.88" cy="301.69" r="3.52"/>
<circle cx="791.11" cy="256.26" r="3.29"/>
<circle cx="783.27" cy="323.41" r="2.6"/>
<circle cx="799.81" cy="339.87" r="3.13"/>
<circle cx="779.31" cy="337.08" r="3.26"/>
<circle cx="831.67" cy="319.17" r="3.02"/>
<circle cx="778.47" cy="289.31" r="2.83"/>
<circle cx="856.41" cy="302.43" r="3.52"/>
<circle cx="823.02" cy="368.1" r="3.39"/>
<circle cx="768.22" cy="286.58" r="2.9"/>
<circle cx="784.23" cy="313.9" r="3.52"/>
<circle cx="805.8" cy="320.67" r="3.09"/>
<circle cx="796.79" cy="290.83" r="2.84"/>
</g>
<g filter="url(#b1)" fill="#0000ff" opacity="0.6">
<circle cx="836.19" cy="307.49" r="2.67"/>
<circle cx="835.94" cy="276.03" r="2.99"/>
<circle cx="793.55" cy="329.36" r="2.62"/>
<circle cx="818.03" cy="310.14" r="3.47"/>
<circle cx="801.79" cy="271.25" r="3.16"/>
<circle cx="796.84" cy="304.71" r="2.8"/>
<circle cx="767.02" cy="356.12" r="2.96"/>
<circle cx="805.39" cy="258.38" r="3.01"/>
<circle cx="763.27" cy="304.82" r="3.12"/>
</g>
<g filter="url(#b1)" fill="#0000ff" opacity="0.7">
<circle cx="843.37" cy="280.88" r="3.34"/>
<circle cx="797" cy="368.83" r="3.34"/>
</g>
<g filter="url(#b1)" fill="#0000ff" opacity="0.8">
<circle cx="812.99" cy="367.76" r="3.94"/>
<circle cx="810.86" cy="264.89" r="3.58"/>
<circle cx="793.27" cy="273.42" r="3.34"/>
<circle cx="802.33" cy="276.61" r="3.34"/>
<circle cx="835.38" cy="367.76" r="3.34"/>
</g>
<g filter="url(#b1)" fill="#0000ff" opacity="0.9">
<circle cx="799.13" cy="254.23" r="3.94"/>
<circle cx="788.47" cy="258.49" r="3.58"/>
<circle cx="777.28" cy="258.49" r="3.58"/>
<circle cx="850.84" cy="297.4" r="3.58"/>
<circle cx="784.2" cy="363.5" r="3.94"/>
</g>
<g filter="url(#b1)" fill="#0000ff" opacity="1">
<circle cx="766.61" cy="258.49" r="4.18"/>
<circle cx="773.54" cy="265.42" r="3.94"/>
<circle cx="749.02" cy="286.21" r="3.58"/>
<circle cx="751.69" cy="295.27" r="3.34"/>
<circle cx="752.76" cy="302.2" r="3.58"/>
<circle cx="757.02" cy="316.59" r="3.94"/>
<circle cx="804.46" cy="260.09" r="3.94"/>
<circle cx="750.09" cy="246.76" r="2.63"/>
</g>
</g>
<rect x="857.8" y="380.8" width="22" height="5.4" fill="#fff" stroke="none"/>
<text x="317.6" y="558.5" font-size="25">Min6</text>
<text x="446.5" y="565.1" font-size="25" style="fill:#0b6fc0">DAPI</text>
<text x="629.4" y="565.1" font-size="25" style="fill:#ff0000">Ins1</text>
<text x="789" y="565.1" font-size="25">Merge</text>
<text font-size="25" text-anchor="middle" transform="translate(376.3 659.6) rotate(-90)">NC</text>
<text font-size="25" text-anchor="middle" font-style="italic" transform="translate(376.3 836.8) rotate(-90)">miR-802</text>
<rect x="391.5" y="578.2" width="168" height="168.45" fill="#000" stroke="none"/>
<g clip-path="url(#cb00)">
<g filter="url(#b1)" fill="#0000ff" opacity="0.25">
<circle cx="437.38" cy="686.14" r="4.78"/>
</g>
<g filter="url(#b1)" fill="#0000ff" opacity="0.3">
<circle cx="476.29" cy="649.36" r="2.99"/>
</g>
<g filter="url(#b1)" fill="#0000ff" opacity="0.4">
<circle cx="491.53" cy="617.59" r="4.18"/>
</g>
<g filter="url(#b1)" fill="#0000ff" opacity="0.45">
<circle cx="458.91" cy="694.67" r="5.73"/>
</g>
<g filter="url(#b1)" fill="#0000ff" opacity="0.5">
<circle cx="438.65" cy="715.46" r="6.57"/>
</g>
<g filter="url(#b1)" fill="#0000ff" opacity="0.6">
<circle cx="475.97" cy="612.05" r="5.73"/>
<circle cx="468.83" cy="631.98" r="3.94"/>
<circle cx="477.89" cy="643.71" r="3.58"/>
<circle cx="414.24" cy="673.88" r="5.37"/>
<circle cx="435.99" cy="738.91" r="5.73"/>
</g>
<g filter="url(#b1)" fill="#0000ff" opacity="0.7">
<circle cx="470.21" cy="681.88" r="8.12"/>
<circle cx="438.23" cy="626.97" r="2.39"/>
</g>
<g filter="url(#b1)" fill="#0000ff" opacity="0.8">
<circle cx="499" cy="649.68" r="5.97"/>
</g>
<g filter="url(#b1)" fill="#0000ff" opacity="0.9">
<circle cx="421.17" cy="652.35" r="8.96"/>
<circle cx="508.59" cy="730.07" r="5.73"/>
<circle cx="478.74" cy="702.35" r="6.21"/>
<circle cx="467.76" cy="746.38" r="4.78"/>
</g>
<g filter="url(#b1)" fill="#0000ff" opacity="1">
<circle cx="490.89" cy="598.19" r="9.31"/>
<circle cx="501.13" cy="623.99" r="6.57"/>
<circle cx="475.22" cy="725.05" r="7.4"/>
</g>
</g>
<rect x="524.6" y="727.5" width="22.3" height="5.5" fill="#fff" stroke="none"/>
<rect x="566.5" y="578.2" width="168.1" height="168.45" fill="#000" stroke="none"/>
<g clip-path="url(#cb01)">
<g filter="url(#spk)">
<rect x="566" y="577.4" width="1" height="1" fill="#000" stroke="none"/>
<rect x="733" y="744.4" width="1" height="1" fill="#000" stroke="none"/>
<circle cx="674.74" cy="646.7" r="10.13" fill="#ff1010" opacity="1" filter="url(#b3)"/>
<circle cx="648.09" cy="652.03" r="7.46" fill="#ff1010" opacity="0.75" filter="url(#b3)"/>
<circle cx="581.99" cy="679.75" r="12.79" fill="#ff1010" opacity="0.5" filter="url(#b3)"/>
<circle cx="609.71" cy="676.55" r="10.13" fill="#ff1010" opacity="0.47" filter="url(#b3)"/>
<circle cx="640.63" cy="681.88" r="19.19" fill="#ff1010" opacity="0.25" filter="url(#b3)"/>
<circle cx="606.51" cy="711.73" r="17.59" fill="#ff1010" opacity="0.38" filter="url(#b3)"/>
<circle cx="611.84" cy="633.9" r="5.33" fill="#ff1010" opacity="0.56" filter="url(#b3)"/>
<circle cx="673.68" cy="729.85" r="7.46" fill="#ff1010" opacity="0.56" filter="url(#b3)"/>
<circle cx="619.3" cy="737.31" r="15.99" fill="#ff1010" opacity="0.31" filter="url(#b3)"/>
<circle cx="656.62" cy="726.65" r="12.79" fill="#ff1010" opacity="0.25" filter="url(#b3)"/>
<circle cx="601.18" cy="657.36" r="19.19" fill="#ff1010" opacity="0.16" filter="url(#b3)"/>
<circle cx="659.82" cy="612.58" r="4.26" fill="#ff1010" opacity="0.62" filter="url(#b3)"/>
<circle cx="640.63" cy="641.37" r="12.79" fill="#ff1010" opacity="0.31" filter="url(#b3)"/>
<circle cx="653.42" cy="662.69" r="9.59" fill="#ff1010" opacity="0.38" filter="url(#b3)"/>
<circle cx="671.01" cy="623.24" r="12.26" fill="none" stroke="#ff1010" stroke-width="2.5" opacity="0.45" filter="url(#b1)"/>
<circle cx="667.28" cy="596.59" r="15.99" fill="none" stroke="#ff1010" stroke-width="2.5" opacity="0.3" filter="url(#b1)"/>
<circle cx="643.83" cy="642.43" r="14.93" fill="none" stroke="#ff1010" stroke-width="2.5" opacity="0.4" filter="url(#b1)"/>
<circle cx="647.02" cy="608.32" r="9.59" fill="none" stroke="#ff1010" stroke-width="2.5" opacity="0.3" filter="url(#b1)"/>
</g>
</g>
<rect x="697.1" y="727.5" width="21.9" height="5.5" fill="#fff" stroke="none"/>
<rect x="738.9" y="578.2" width="168.2" height="168.45" fill="#000" stroke="none"/>
<g clip-path="url(#cb02)">
<g filter="url(#spk)">
<rect x="738.4" y="577.4" width="1" height="1" fill="#000" stroke="none"/>
<rect x="905.4" y="744.4" width="1" height="1" fill="#000" stroke="none"/>
<circle cx="847.14" cy="646.7" r="10.13" fill="#ff1010" opacity="1" filter="url(#b3)"/>
<circle cx="820.49" cy="652.03" r="7.46" fill="#ff1010" opacity="0.75" filter="url(#b3)"/>
<circle cx="754.39" cy="679.75" r="12.79" fill="#ff1010" opacity="0.5" filter="url(#b3)"/>
<circle cx="782.11" cy="676.55" r="10.13" fill="#ff1010" opacity="0.47" filter="url(#b3)"/>
<circle cx="813.03" cy="681.88" r="19.19" fill="#ff1010" opacity="0.25" filter="url(#b3)"/>
<circle cx="778.91" cy="711.73" r="17.59" fill="#ff1010" opacity="0.38" filter="url(#b3)"/>
<circle cx="784.24" cy="633.9" r="5.33" fill="#ff1010" opacity="0.56" filter="url(#b3)"/>
<circle cx="846.08" cy="729.85" r="7.46" fill="#ff1010" opacity="0.56" filter="url(#b3)"/>
<circle cx="791.7" cy="737.31" r="15.99" fill="#ff1010" opacity="0.31" filter="url(#b3)"/>
<circle cx="829.02" cy="726.65" r="12.79" fill="#ff1010" opacity="0.25" filter="url(#b3)"/>
<circle cx="773.58" cy="657.36" r="19.19" fill="#ff1010" opacity="0.16" filter="url(#b3)"/>
<circle cx="832.22" cy="612.58" r="4.26" fill="#ff1010" opacity="0.62" filter="url(#b3)"/>
<circle cx="813.03" cy="641.37" r="12.79" fill="#ff1010" opacity="0.31" filter="url(#b3)"/>
<circle cx="825.82" cy="662.69" r="9.59" fill="#ff1010" opacity="0.38" filter="url(#b3)"/>
<circle cx="843.41" cy="623.24" r="12.26" fill="none" stroke="#ff1010" stroke-width="2.5" opacity="0.45" filter="url(#b1)"/>
<circle cx="839.68" cy="596.59" r="15.99" fill="none" stroke="#ff1010" stroke-width="2.5" opacity="0.3" filter="url(#b1)"/>
<circle cx="816.23" cy="642.43" r="14.93" fill="none" stroke="#ff1010" stroke-width="2.5" opacity="0.4" filter="url(#b1)"/>
<circle cx="819.42" cy="608.32" r="9.59" fill="none" stroke="#ff1010" stroke-width="2.5" opacity="0.3" filter="url(#b1)"/>
</g>
<g filter="url(#b1)" fill="#0000ff" opacity="0.25">
<circle cx="784.78" cy="686.14" r="4.78"/>
</g>
<g filter="url(#b1)" fill="#0000ff" opacity="0.3">
<circle cx="823.69" cy="649.36" r="2.99"/>
</g>
<g filter="url(#b1)" fill="#0000ff" opacity="0.4">
<circle cx="838.93" cy="617.59" r="4.18"/>
</g>
<g filter="url(#b1)" fill="#0000ff" opacity="0.45">
<circle cx="806.31" cy="694.67" r="5.73"/>
</g>
<g filter="url(#b1)" fill="#0000ff" opacity="0.5">
<circle cx="786.05" cy="715.46" r="6.57"/>
</g>
<g filter="url(#b1)" fill="#0000ff" opacity="0.6">
<circle cx="823.37" cy="612.05" r="5.73"/>
<circle cx="816.23" cy="631.98" r="3.94"/>
<circle cx="825.29" cy="643.71" r="3.58"/>
<circle cx="761.64" cy="673.88" r="5.37"/>
<circle cx="783.39" cy="738.91" r="5.73"/>
</g>
<g filter="url(#b1)" fill="#0000ff" opacity="0.7">
<circle cx="817.61" cy="681.88" r="8.12"/>
<circle cx="785.63" cy="626.97" r="2.39"/>
</g>
<g filter="url(#b1)" fill="#0000ff" opacity="0.8">
<circle cx="846.4" cy="649.68" r="5.97"/>
</g>
<g filter="url(#b1)" fill="#0000ff" opacity="0.9">
<circle cx="768.57" cy="652.35" r="8.96"/>
<circle cx="855.99" cy="730.07" r="5.73"/>
<circle cx="826.14" cy="702.35" r="6.21"/>
<circle cx="815.16" cy="746.38" r="4.78"/>
</g>
<g filter="url(#b1)" fill="#0000ff" opacity="1">
<circle cx="838.29" cy="598.19" r="9.31"/>
<circle cx="848.53" cy="623.99" r="6.57"/>
<circle cx="822.62" cy="725.05" r="7.4"/>
</g>
</g>
<rect x="875.9" y="727.5" width="21.9" height="5.5" fill="#fff" stroke="none"/>
<rect x="391.5" y="750.25" width="168" height="168.75" fill="#000" stroke="none"/>
<g clip-path="url(#cb10)">
<g filter="url(#b1)" fill="#0000ff" opacity="0.2">
<circle cx="489.08" cy="868.85" r="2.99"/>
</g>
<g filter="url(#b1)" fill="#0000ff" opacity="0.3">
<circle cx="501.87" cy="876.85" r="3.34"/>
</g>
<g filter="url(#b1)" fill="#0000ff" opacity="0.4">
<circle cx="480.02" cy="775.78" r="3.58"/>
<circle cx="488.23" cy="794.23" r="5.01"/>
</g>
<g filter="url(#b1)" fill="#0000ff" opacity="0.5">
<circle cx="475.22" cy="825.68" r="5.01"/>
<circle cx="522.34" cy="846.15" r="3.34"/>
<circle cx="530.13" cy="857.13" r="5.01"/>
</g>
<g filter="url(#b1)" fill="#0000ff" opacity="0.6">
<circle cx="500.28" cy="795.29" r="5.97"/>
<circle cx="462.64" cy="828.87" r="4.54"/>
<circle cx="503.15" cy="859.79" r="4.78"/>
</g>
<g filter="url(#b1)" fill="#0000ff" opacity="0.7">
<circle cx="514.13" cy="799.56" r="6.57"/>
<circle cx="459.55" cy="857.13" r="6.57"/>
<circle cx="457.63" cy="878.66" r="5.73"/>
</g>
<g filter="url(#b1)" fill="#0000ff" opacity="0.8">
<circle cx="419.04" cy="819.81" r="5.73"/>
<circle cx="455.71" cy="778.55" r="6.21"/>
<circle cx="420.32" cy="847.74" r="6.21"/>
<circle cx="512" cy="873.12" r="5.97"/>
<circle cx="489.08" cy="902.44" r="7.16"/>
</g>
<g filter="url(#b1)" fill="#0000ff" opacity="1">
<circle cx="401.66" cy="788.36" r="6.21"/>
<circle cx="414.99" cy="801.16" r="6.21"/>
<circle cx="437.7" cy="809.68" r="5.97"/>
<circle cx="465.41" cy="905.1" r="6.57"/>
<circle cx="502.94" cy="909.36" r="6.57"/>
</g>
</g>
<rect x="524.6" y="897.3" width="22.3" height="5.5" fill="#fff" stroke="none"/>
<rect x="566.5" y="750.25" width="168.1" height="168.75" fill="#000" stroke="none"/>
<g clip-path="url(#cb11)">
<circle cx="586" cy="801.45" r="6" fill="#c00000" opacity="0.15" filter="url(#b2)"/>
<circle cx="616" cy="817.45" r="8" fill="#c00000" opacity="0.15" filter="url(#b2)"/>
<circle cx="604" cy="844.45" r="5" fill="#c00000" opacity="0.18" filter="url(#b2)"/>
<circle cx="646" cy="899.45" r="7" fill="#c00000" opacity="0.2" filter="url(#b2)"/>
<circle cx="666" cy="809.45" r="8" fill="#c00000" opacity="0.1" filter="url(#b2)"/>
<circle cx="686" cy="897.45" r="5" fill="#c00000" opacity="0.12" filter="url(#b2)"/>
</g>
<rect x="697.1" y="897.3" width="21.9" height="5.5" fill="#fff" stroke="none"/>
<rect x="738.9" y="750.25" width="168.2" height="168.75" fill="#000" stroke="none"/>
<g clip-path="url(#cb12)">
<circle cx="758.4" cy="801.45" r="6" fill="#c00000" opacity="0.15" filter="url(#b2)"/>
<circle cx="788.4" cy="817.45" r="8" fill="#c00000" opacity="0.15" filter="url(#b2)"/>
<circle cx="776.4" cy="844.45" r="5" fill="#c00000" opacity="0.18" filter="url(#b2)"/>
<circle cx="818.4" cy="899.45" r="7" fill="#c00000" opacity="0.2" filter="url(#b2)"/>
<circle cx="838.4" cy="809.45" r="8" fill="#c00000" opacity="0.1" filter="url(#b2)"/>
<circle cx="858.4" cy="897.45" r="5" fill="#c00000" opacity="0.12" filter="url(#b2)"/>
<g filter="url(#b1)" fill="#0000ff" opacity="0.2">
<circle cx="836.48" cy="868.85" r="2.99"/>
</g>
<g filter="url(#b1)" fill="#0000ff" opacity="0.3">
<circle cx="849.27" cy="876.85" r="3.34"/>
</g>
<g filter="url(#b1)" fill="#0000ff" opacity="0.4">
<circle cx="827.42" cy="775.78" r="3.58"/>
<circle cx="835.63" cy="794.23" r="5.01"/>
</g>
<g filter="url(#b1)" fill="#0000ff" opacity="0.5">
<circle cx="822.62" cy="825.68" r="5.01"/>
<circle cx="869.74" cy="846.15" r="3.34"/>
<circle cx="877.53" cy="857.13" r="5.01"/>
</g>
<g filter="url(#b1)" fill="#0000ff" opacity="0.6">
<circle cx="847.68" cy="795.29" r="5.97"/>
<circle cx="810.04" cy="828.87" r="4.54"/>
<circle cx="850.55" cy="859.79" r="4.78"/>
</g>
<g filter="url(#b1)" fill="#0000ff" opacity="0.7">
<circle cx="861.53" cy="799.56" r="6.57"/>
<circle cx="806.95" cy="857.13" r="6.57"/>
<circle cx="805.03" cy="878.66" r="5.73"/>
</g>
<g filter="url(#b1)" fill="#0000ff" opacity="0.8">
<circle cx="766.44" cy="819.81" r="5.73"/>
<circle cx="803.11" cy="778.55" r="6.21"/>
<circle cx="767.72" cy="847.74" r="6.21"/>
<circle cx="859.4" cy="873.12" r="5.97"/>
<circle cx="836.48" cy="902.44" r="7.16"/>
</g>
<g filter="url(#b1)" fill="#0000ff" opacity="1">
<circle cx="749.06" cy="788.36" r="6.21"/>
<circle cx="762.39" cy="801.16" r="6.21"/>
<circle cx="785.1" cy="809.68" r="5.97"/>
<circle cx="812.81" cy="905.1" r="6.57"/>
<circle cx="850.34" cy="909.36" r="6.57"/>
</g>
</g>
<rect x="875.9" y="897.3" width="21.9" height="5.5" fill="#fff" stroke="none"/>
<rect x="1395.7" y="1193.5" width="167.9" height="167.7" fill="#000" stroke="none"/>
<g clip-path="url(#ck0)">
<path d="M1423.41 1309.38h0M1502.38 1273.99h0M1431.99 1326.66h0M1531.42 1279.59h0M1480.55 1233.16h0M1396.23 1255.84h0M1494.04 1205.14h0M1529.05 1232.52h0M1434.79 1200.61h0M1563.29 1317.6h0M1542.71 1296.97h0M1401.42 1248.76h0M1479.29 1212.96h0M1555.63 1255.4h0M1421.71 1330.84h0M1416.68 1349.39h0M1471.83 1286.24h0M1453.31 1274.93h0M1427.1 1199.74h0M1541.17 1232.96h0M1526.78 1228.54h0M1558.45 1343.69h0M1522.51 1321.65h0M1493.27 1316.1h0M1416.28 1273.52h0M1534.64 1227.28h0M1550.79 1342.61h0M1464.51 1254.86h0M1471.52 1258.31h0M1562.83 1258.45h0M1400.21 1209.17h0M1516.34 1360.29h0M1479.03 1276.08h0M1488.17 1319.19h0M1433 1295.8h0M1489.19 1298.1h0M1426.05 1222.08h0M1454.2 1349.25h0M1453.93 1293.84h0M1447.21 1210.85h0M1406.73 1330.2h0M1526.24 1256.48h0M1510.5 1307.05h0M1546.68 1354.49h0M1464.08 1359.67h0M1557.22 1292.71h0M1544.07 1275.97h0M1458.79 1235.03h0M1542.89 1220.77h0M1407.35 1328.79h0M1525.72 1274.67h0M1536.32 1202.27h0M1439.04 1242.2h0M1466.18 1222.17h0M1407.37 1250.3h0M1546.76 1358.72h0M1521 1273.97h0M1438.07 1354.59h0M1484.01 1315.91h0M1400.45 1229.13h0M1536.53 1327.1h0M1543.78 1294.53h0M1467.28 1291.13h0M1538.39 1245.24h0M1485.47 1239.86h0M1524.77 1195.22h0M1510.83 1353.77h0M1399.65 1293.24h0M1503.87 1336.58h0M1493.87 1236.71h0M1463.84 1354.56h0M1547.84 1215.93h0M1411.63 1209.28h0M1399.95 1268.57h0M1419.36 1339.21h0M1505.79 1214.76h0M1486.19 1247.98h0M1478.67 1230.39h0M1423.6 1224.4h0M1459.17 1312.78h0M1488.11 1201.26h0M1515.13 1340.31h0M1525.77 1326.34h0M1397.01 1271.43h0M1406.37 1321.84h0M1425.15 1313.03h0M1438.19 1310.55h0M1448.39 1200.54h0M1461.03 1245.48h0M1547.03 1243.06h0M1480.22 1285.79h0M1555 1210.06h0M1496.7 1278.88h0M1519.11 1355.97h0M1447.81 1311.01h0M1484.03 1287.69h0M1406.41 1330.37h0M1559.81 1253.18h0M1449.14 1360.36h0M1413.78 1206.29h0M1408.02 1330.31h0M1523.37 1268.77h0M1500.09 1196.82h0M1504 1267.86h0M1482.63 1258.92h0M1463.15 1231.38h0M1403.9 1266.4h0M1437.21 1311.8h0M1533.01 1315.09h0M1472.31 1233.22h0M1460.45 1275.28h0M1501.85 1355.31h0M1410.05 1274.09h0M1478.34 1313.99h0M1545.3 1324.46h0M1501 1320.93h0M1507.93 1337.8h0M1513.14 1308.24h0M1436.91 1347.5h0M1460.54 1296.77h0M1534.27 1355.4h0M1561.89 1194.57h0M1448.22 1245.87h0M1461.43 1217.93h0M1488.64 1206.86h0M1446.54 1352.01h0M1520.42 1271.17h0M1413.88 1354.11h0M1513.96 1228.08h0M1452.03 1301.28h0M1510.21 1237.33h0M1555.51 1247.61h0M1438.41 1335.52h0M1421.47 1307.94h0M1429.28 1293.96h0M1442.31 1257.17h0M1553.74 1271.95h0M1469.1 1297.17h0M1442.85 1222.79h0M1460.32 1239.26h0M1427.36 1354.91h0M1401.48 1329.65h0M1552.74 1311.87h0" fill="none" stroke="#0000ff" stroke-width="3.4" stroke-linecap="round" opacity="0.3" filter="url(#b0)"/>
<path d="M1398.89 1277.7h0M1402.3 1295.62h0M1513.37 1233.86h0M1396.98 1284.96h0M1411.58 1245.41h0M1471.99 1343.77h0M1457.87 1216.17h0M1528.71 1331.65h0M1484.64 1201.76h0M1427.21 1261.2h0M1488.42 1231.32h0M1530.5 1335.21h0M1551.13 1341.94h0M1398.66 1291.29h0M1409.21 1344.65h0M1521.18 1321.06h0M1427.33 1203.52h0M1532.65 1295.4h0M1499.91 1272.65h0M1530.12 1250.28h0M1441.01 1252.83h0M1445.76 1298.85h0M1545.24 1205.43h0M1407.06 1279.47h0M1509.61 1225.38h0M1441.04 1203.37h0M1401.94 1276.67h0M1510.07 1303.23h0M1422.28 1210.99h0M1552.09 1283.98h0M1464.31 1309.56h0M1517.97 1281.63h0M1408.86 1332.48h0M1431.6 1200.3h0M1454.88 1282.97h0M1501.24 1222.75h0M1514.92 1276.46h0M1422.92 1336.46h0M1531.23 1345.77h0M1509.85 1230.01h0M1526.35 1345.16h0M1485.29 1346.12h0M1558.69 1259.04h0M1553.93 1350.88h0M1529.07 1195.39h0M1454.82 1296.58h0M1497.71 1320.45h0M1504.37 1220.63h0M1552.07 1283.59h0M1543.82 1228.25h0M1563.37 1286.72h0M1526 1317.81h0M1544.01 1254.38h0M1409.61 1261.64h0M1425.65 1284.19h0M1532.62 1254.35h0M1417.72 1198.04h0M1466.76 1291.01h0M1400.12 1305.29h0M1431.13 1211.48h0M1551.55 1281.37h0M1546.07 1279.84h0M1416.34 1233.83h0M1466.98 1301.17h0M1525.21 1319.73h0M1505.03 1236h0M1467.96 1257.01h0M1477.95 1238.1h0M1486.05 1270.58h0M1401.67 1331.75h0M1494.22 1328.36h0M1519.44 1316.28h0M1562.6 1256.81h0M1461.83 1194.13h0M1507.31 1291.19h0M1492.54 1361.11h0M1428.78 1231.68h0M1519.04 1329.98h0M1476.82 1202.73h0M1457.93 1332.33h0M1479.67 1271.03h0M1461.13 1299.08h0M1496.25 1309.93h0M1541.07 1319.72h0M1458.69 1235.57h0M1527.06 1326.71h0M1551.63 1226.9h0M1538.11 1343.12h0M1408.67 1245.24h0M1502.16 1218.05h0M1535.33 1237.99h0M1510.34 1243.2h0M1432.36 1228.27h0M1479.29 1313.29h0M1432.3 1308.82h0M1452 1302.58h0M1457.56 1225.97h0M1419.39 1203.2h0M1512.69 1263h0M1416.4 1341.43h0M1505.71 1197.05h0M1517.46 1293.4h0M1470.25 1277.61h0M1557.35 1256.31h0M1502.58 1300.3h0M1457.14 1251.69h0M1522.54 1300.31h0M1472.46 1279.81h0M1433.25 1326.12h0M1399.04 1301.56h0M1472.13 1230.69h0M1494.28 1291.45h0M1410.28 1275.84h0M1423.43 1327.75h0M1450.63 1248.66h0M1431.89 1201.59h0M1427.06 1218.98h0M1500.56 1335.85h0M1432.83 1212.28h0M1485.49 1212.92h0M1463.78 1321.33h0M1429.83 1311.04h0M1486.2 1207.78h0M1436.45 1294.2h0M1411.87 1227.72h0M1492.59 1330.94h0M1483.13 1304.97h0M1397.22 1244.34h0M1449.15 1346.96h0M1455.76 1325.35h0M1401.47 1277.24h0M1545.46 1323.08h0M1493.08 1224.1h0M1551.31 1206.9h0M1557.77 1323.91h0M1516.61 1282.65h0M1423.25 1250.76h0M1507.24 1303.71h0M1461.1 1328.1h0M1404.67 1241.76h0M1410.89 1248.07h0M1528.91 1320.08h0M1420.79 1245.31h0" fill="none" stroke="#0000ff" stroke-width="3.6" stroke-linecap="round" opacity="0.45" filter="url(#b0)"/>
<path d="M1414.54 1304.7h0M1470.05 1232.41h0M1458.56 1338.85h0M1467.12 1309.56h0M1501.15 1273.07h0M1489.18 1254.62h0M1429.03 1276.56h0M1446.86 1248.95h0M1427.04 1346.94h0M1467.19 1227.14h0M1401.03 1229.49h0M1541.6 1250.09h0M1507.77 1232.23h0M1505 1269.14h0M1519.41 1282.28h0M1458.76 1240.56h0M1495.54 1333.25h0M1511.89 1274.16h0M1450.89 1343.26h0M1537.87 1217.99h0M1509.81 1323.21h0M1509.23 1355.51h0M1543.37 1234.84h0M1563.15 1248.54h0M1459.51 1357.53h0M1423.8 1259.93h0M1500.85 1239.35h0M1440.56 1326.93h0M1498.6 1318.47h0M1528.41 1340.02h0M1545.82 1331.83h0M1560.08 1277.38h0M1513.57 1279.83h0M1558.54 1303.55h0M1468.04 1305.06h0M1445.24 1215.25h0M1460.6 1216.5h0M1396.37 1209.05h0M1472.03 1321.74h0M1403.85 1300.46h0M1414.4 1279.24h0M1445.39 1268.42h0M1515.3 1262.95h0M1461.51 1315.89h0M1415.16 1252.12h0M1513.61 1333.77h0M1560.24 1236.7h0M1500.73 1246.02h0M1513.61 1335.66h0M1418.39 1251.46h0M1552.99 1252.7h0M1501.9 1331.01h0M1442.52 1325.12h0M1396.31 1250.7h0M1423.74 1251.6h0M1431.51 1197.76h0M1530.63 1222.65h0M1492 1286.6h0M1538.41 1335.79h0M1500.14 1221.88h0M1523.52 1209.88h0M1551.7 1245.31h0M1438.16 1229.89h0M1462.25 1326.48h0M1539.32 1318.84h0M1518.23 1234.51h0M1449.66 1244.61h0M1468.5 1340.41h0M1563.02 1207.57h0M1557.75 1347.79h0M1473.13 1309.89h0M1527.5 1224.89h0M1499.16 1358.43h0M1543.6 1346.65h0M1409.94 1313.56h0M1477.44 1346.25h0M1423.74 1285.7h0M1415.96 1328.64h0M1517.09 1198.73h0M1447.71 1217.28h0M1502.46 1299.34h0M1406.23 1353.25h0M1557.86 1267.54h0M1492.16 1254.56h0M1497.54 1260.43h0M1469.74 1319.46h0" fill="none" stroke="#0000ff" stroke-width="3.4" stroke-linecap="round" opacity="0.7" filter="url(#b0)"/>
<g transform="rotate(-12 1477.2 1275.5)">
<ellipse cx="1477.2" cy="1275.5" rx="33" ry="40" fill="#000"/>
<ellipse cx="1477.2" cy="1275.5" rx="29" ry="36" fill="#c80000" opacity="0.68" filter="url(#b1)"/>
<path d="M1459.99 1254.95h0M1484.79 1243.63h0M1475.5 1242.72h0M1495.92 1279.73h0M1498.27 1265.9h0M1484.83 1268.79h0M1463.61 1278.78h0M1456.86 1268.47h0M1490.14 1276.81h0M1472.28 1307.68h0M1478.3 1261.9h0M1480.23 1263.31h0M1469.85 1267.31h0M1503.24 1275.86h0M1480.46 1290.86h0M1503.1 1271.98h0M1470.51 1308.02h0M1454.92 1268.63h0M1484.79 1307.35h0M1467.21 1244.19h0M1489.18 1263.93h0M1469.89 1286.17h0M1481.54 1282.42h0M1470.33 1300.69h0M1500.17 1276.1h0M1469.05 1291.71h0M1485.27 1253.95h0M1469.43 1297.23h0M1475.33 1267.66h0M1481.37 1274.69h0M1477.17 1244.06h0M1501.8 1278.94h0M1463.05 1294.88h0M1483.22 1275.92h0M1488.67 1305.83h0M1485.2 1303.57h0M1501.68 1261.3h0M1467.91 1292.39h0M1452.92 1270.84h0M1495.98 1294.08h0M1484.76 1245.18h0M1503.62 1283.09h0M1490.89 1286.32h0M1456.69 1254.48h0M1462.83 1303.26h0M1462.23 1270.15h0M1472.41 1288.66h0M1486.69 1281.73h0M1466.81 1243.82h0M1480.44 1281.9h0M1497.51 1273.41h0M1465.92 1284.79h0M1456.13 1258.19h0M1459.78 1281.61h0M1502.28 1286.72h0M1496.39 1280.41h0M1482.52 1265h0M1474.07 1242.39h0M1460.29 1253.32h0M1491.62 1289.5h0M1492.37 1300.84h0M1471.98 1297.62h0M1502.96 1275.36h0M1495.78 1272.04h0M1453.44 1277.67h0M1462.28 1277.92h0M1468.41 1282.94h0M1457.34 1299.24h0M1498.59 1268.74h0M1460.97 1275.58h0M1489.53 1284.98h0M1482.39 1244.29h0M1461.27 1298.7h0M1480.82 1247.34h0M1464.69 1249.94h0M1461.89 1297.22h0M1473.45 1298.89h0M1480.07 1247.29h0M1469.82 1307.5h0M1464.67 1254.45h0M1497.78 1277.34h0M1477.1 1303.53h0M1452.67 1282.63h0M1462.23 1251.08h0M1464.28 1297.92h0M1475.26 1244.47h0M1462.14 1300.9h0M1493.04 1254.81h0M1504.18 1270.5h0M1457.03 1272.67h0M1490.03 1302.54h0M1495 1266.44h0M1468.68 1248.43h0M1475.78 1261.43h0M1481.23 1249.91h0M1468.04 1256.37h0M1459.7 1254.38h0M1461.75 1253.5h0M1488.19 1277.86h0M1456.23 1285.48h0M1481.67 1303.29h0M1473.32 1270.37h0M1464.14 1278.39h0M1486.81 1279.67h0M1472.32 1288.79h0M1479.04 1281.55h0M1460.4 1280.06h0M1460.84 1258.53h0M1479.22 1307.91h0M1494.96 1275.59h0M1474.01 1297.05h0M1496.27 1296.13h0M1473.48 1280.12h0M1470.7 1268.61h0M1461.6 1269.91h0M1453.34 1259.21h0M1484.74 1255.38h0M1485.82 1250.21h0M1470.03 1284.93h0M1459.94 1260.94h0M1503.66 1266.56h0M1464.37 1262.72h0M1477.87 1274.85h0M1493.54 1291.64h0M1469.36 1267.01h0M1459.1 1252.04h0M1464.17 1291.3h0M1479.43 1293.76h0M1494.14 1271.87h0M1503.08 1267.6h0M1465.48 1265.63h0M1496.72 1272.63h0M1463.61 1285.28h0M1496.67 1273.13h0M1472.83 1298.5h0M1493.06 1294.19h0M1463.04 1281.94h0M1482.22 1245.02h0M1497.49 1277.57h0M1473.18 1308.21h0M1479.95 1258.89h0M1475.98 1288.87h0M1492.27 1274.2h0M1462.24 1260.71h0M1463.9 1254.51h0M1476.81 1263.75h0M1478.2 1256.79h0M1461.38 1271.36h0M1471.31 1299.33h0M1460.85 1280.07h0M1476.53 1249.23h0M1490.85 1279.4h0M1451.52 1284.51h0M1492.91 1259.15h0M1501.71 1278.26h0M1458.18 1286.88h0M1471.44 1249.24h0M1450.73 1279.21h0M1464.06 1289.61h0M1484.59 1263.34h0M1469.89 1305.34h0M1500.55 1288.11h0M1470.94 1254.35h0M1471.62 1304.93h0M1486.12 1268.62h0M1456.72 1278.93h0M1461.16 1275.79h0M1489.37 1297.01h0M1479.96 1267.22h0M1480.36 1306.22h0M1483.09 1248.59h0M1500.61 1280.15h0M1504.83 1270.94h0M1475.34 1268.29h0M1484.34 1262.09h0M1460.61 1249.04h0M1474.81 1263.3h0M1470.15 1307.11h0M1490.04 1297.09h0M1467.6 1282.57h0M1473.02 1270.54h0M1490.56 1288.74h0M1483.22 1279.09h0M1455.8 1262.08h0M1484.59 1266.83h0M1462.97 1283.48h0M1461.42 1261.41h0M1493.01 1267.62h0M1499.08 1285.3h0M1490.11 1297.6h0M1450.6 1274.3h0M1456.51 1266.39h0M1475.48 1300.81h0M1476.56 1305.12h0M1467.05 1274.17h0M1478.86 1296.24h0M1476.22 1261.07h0M1472.04 1248.55h0M1496.81 1289.77h0M1485.48 1282.05h0M1465.88 1266.2h0M1491.04 1258.94h0M1466.14 1302.84h0M1500.55 1280.86h0M1487.42 1279.89h0M1499.19 1267.12h0M1478.8 1286.99h0M1499.62 1270.74h0M1481.68 1263.95h0M1465.44 1261.12h0M1478.71 1295.16h0M1464.76 1262.26h0M1469.44 1283.81h0M1488.15 1251.47h0M1483.37 1254.29h0M1489.16 1255.74h0M1459.55 1261.27h0M1476.12 1254.03h0M1481.37 1279.07h0M1478.83 1281.99h0M1492.05 1260.3h0M1477.24 1274.78h0M1451.34 1281.51h0M1463.84 1260.23h0M1468.59 1277.82h0M1483.47 1286.76h0M1464.98 1290.55h0M1485.15 1266.39h0M1476.82 1293.51h0M1485.09 1291.07h0M1479 1299.14h0M1503.48 1282.09h0M1458.83 1299.79h0M1468.46 1249.55h0M1450.5 1281.38h0" fill="none" stroke="#0000e0" stroke-width="3.6" stroke-linecap="round" opacity="0.6" filter="url(#b0)"/>
<path d="M1499.33 1300.32h0M1469.54 1311.04h0M1473.21 1238.12h0M1486.58 1311.67h0M1480.98 1313.07h0M1453.19 1296.59h0M1457.12 1303.69h0M1447.24 1282.98h0M1473.89 1239.05h0M1493.07 1307.63h0M1463.3 1243.48h0M1458.73 1245.98h0M1507.82 1269.66h0M1504.88 1289.15h0M1451.07 1295.78h0M1449.04 1264.66h0M1446.94 1271.06h0M1502.88 1296.55h0M1501.55 1253.47h0M1505.63 1260.61h0M1478.47 1313.38h0M1452.5 1298.28h0M1476.16 1312.73h0M1466.55 1311.09h0M1505.92 1283.98h0M1490.18 1308.98h0M1452.5 1296.82h0M1503.54 1294.42h0M1500.7 1298.72h0M1503.7 1257.99h0M1496.27 1246.04h0M1507.21 1279.54h0M1447.16 1278.62h0M1455.73 1301.29h0M1472.68 1239.6h0M1466.46 1310.27h0M1491.36 1242.16h0M1500.02 1300.37h0M1502.63 1294.64h0M1490.1 1241.58h0M1498.36 1303.06h0M1478.2 1313.33h0M1450.04 1291.51h0M1478.1 1313.37h0M1467.75 1239.4h0M1486.67 1311.13h0M1455.55 1302.45h0M1450.39 1293.41h0M1477.64 1238.53h0M1501.04 1253.15h0M1479.04 1238.63h0M1449.37 1288.47h0M1460.65 1245.46h0M1473.08 1239.14h0M1473.9 1311.78h0M1454.43 1300.93h0M1505.35 1290.67h0M1474.83 1312.14h0M1470.36 1312.44h0M1479.81 1238.66h0M1507.66 1282.01h0M1498.04 1302.74h0M1496.02 1247.54h0M1453.83 1251.19h0M1449.73 1291.63h0M1462.21 1308.74h0M1451.53 1257.05h0M1472.72 1238.08h0M1447.01 1268.37h0M1469.55 1239.52h0M1504.81 1261.74h0M1499.69 1300.8h0M1503.29 1256.59h0M1449.42 1290.45h0M1480.45 1239.44h0M1448.27 1268.13h0M1451.8 1254.05h0M1489.13 1241.26h0M1505.15 1287.19h0M1506.69 1283.07h0M1447.71 1279.61h0M1453.23 1298.97h0M1472.01 1312.59h0M1449.05 1261.22h0M1477.41 1237.95h0M1458.92 1305.63h0M1506.76 1271.48h0M1494.85 1245.65h0M1452.2 1297.52h0M1492.06 1243.18h0M1507.09 1284.35h0M1501.55 1296.82h0M1502.06 1253.41h0M1486.09 1239.72h0M1465.04 1242.28h0M1455.88 1249.98h0M1455.09 1302.11h0M1447.16 1272.78h0M1489.33 1309.69h0M1464.51 1310.11h0M1465.63 1309.99h0M1447.59 1280.99h0M1453.41 1296.94h0M1489.05 1242.23h0M1466.65 1241.08h0M1448.19 1267.15h0M1457.6 1303.52h0M1464.24 1242.04h0M1470.62 1312.49h0M1503.2 1294.97h0M1451.07 1257.79h0M1470.44 1238.99h0M1504.81 1259.36h0M1470.66 1238.49h0M1477.84 1238.74h0M1505.77 1265.78h0M1465.85 1241.8h0M1475.05 1238.72h0M1484.95 1311.31h0M1501.54 1252.69h0M1507 1269.63h0M1452.9 1299.09h0M1453.5 1299.48h0M1460.24 1245.69h0M1502.61 1255.78h0M1453.86 1300.2h0M1465.88 1241.22h0M1470.61 1239.07h0M1500.44 1250.94h0M1466.73 1310.74h0M1455.86 1250.26h0M1492.1 1307.49h0M1480.37 1238.11h0M1505.04 1289.68h0M1491.54 1243.65h0" fill="none" stroke="#00e030" stroke-width="1.9" stroke-linecap="round" opacity="0.7" filter="url(#b0)"/>
<path d="M1456.6 1252.11h0M1450.55 1268.23h0M1462.97 1244.69h0M1450.45 1276.6h0M1465.44 1242.09h0M1450.29 1292.27h0M1453.19 1260.98h0M1448.14 1282.82h0M1454.15 1259.54h0M1457.08 1255.51h0M1451.95 1289.19h0M1462.73 1251.57h0M1452.17 1274.51h0M1457 1258.47h0M1451.28 1279.45h0M1460.97 1248.04h0M1449.33 1287.88h0M1447.79 1284.71h0M1451.4 1283.86h0M1452.98 1286.02h0M1458.9 1254.12h0M1460.61 1250.95h0M1465.94 1249.1h0M1456.75 1259.53h0M1448.69 1287.99h0M1450.11 1289.98h0M1449.64 1271.09h0M1456.88 1256.01h0M1451.01 1288.23h0M1451.35 1261.16h0M1451.73 1285.79h0M1451.21 1271.34h0M1454.34 1265.55h0M1464.07 1241.76h0M1459.17 1252.62h0M1447.02 1275.76h0M1450.06 1264.75h0M1459.45 1254.68h0M1448.53 1270.43h0M1452.63 1264.61h0M1459.47 1250.59h0M1448.56 1275.75h0M1461.43 1248.09h0M1451.77 1290.01h0M1451.02 1279h0M1450.34 1289.25h0M1451.28 1287.32h0M1467.21 1244.47h0M1453.01 1271h0M1450.55 1287.92h0M1457.75 1245.97h0M1457.63 1250.14h0M1451.47 1292.53h0M1449.95 1266.03h0M1448.74 1261.63h0M1453.26 1279.7h0M1450.36 1267.13h0M1450.17 1288.53h0M1466.33 1246.29h0M1448.56 1262.18h0M1451.98 1270.45h0M1451.09 1267.84h0M1464.05 1247.32h0M1451.59 1254.65h0M1454.51 1290.05h0M1452.8 1269.51h0M1462.25 1251.56h0M1453.42 1271.48h0M1459.89 1253.81h0M1452.56 1283.69h0M1453.55 1269.23h0M1466.83 1241.67h0M1448.75 1268h0M1449.47 1265.12h0M1453.02 1253.45h0M1450.12 1283.21h0M1451.05 1288.85h0M1464.7 1249.24h0M1446.83 1282.3h0M1462.53 1251.79h0M1451.15 1257.15h0M1452.79 1278.83h0M1463.59 1241.66h0M1449.77 1282.35h0M1451.52 1277.33h0M1451.83 1271.52h0M1450.74 1284.07h0M1467.22 1245.96h0M1448.98 1288.77h0M1453.77 1255.87h0M1449.74 1271.44h0M1455.83 1261.47h0M1450.32 1278.91h0M1450.07 1277.65h0M1455.26 1250.3h0M1452.43 1265.57h0M1454.85 1290.8h0M1450.32 1268.56h0M1455.4 1259.41h0M1452.16 1289.42h0M1451.8 1290.8h0M1446.45 1272.48h0M1449.35 1275.63h0M1457.23 1258.05h0M1450.12 1271.4h0M1458.84 1255.72h0M1467.01 1248.75h0M1447.37 1275.39h0M1463.46 1242.18h0M1452.22 1267.37h0M1451.15 1262.03h0M1463.83 1244.08h0M1454.4 1262.36h0M1449.79 1285.26h0M1451.7 1264.48h0M1449.74 1280.99h0M1449.45 1290.66h0M1447.29 1272.8h0M1465.69 1242.66h0M1451.71 1276.82h0M1456.26 1250.61h0M1461.15 1249.47h0M1450.92 1270.48h0M1448.17 1278.88h0M1462.26 1246.58h0M1462.2 1243.99h0M1447.79 1286.02h0M1457.72 1252.46h0M1450.36 1293.76h0M1460.4 1248.75h0M1460.53 1243.87h0" fill="none" stroke="#00e030" stroke-width="1.9" stroke-linecap="round" opacity="0.6" filter="url(#b0)"/>
<path d="M1465.32 1241.02h0M1471.11 1241.3h0M1466.39 1241.05h0M1480.35 1238.24h0M1451.61 1260.79h0M1449.92 1258.15h0M1461.66 1246.36h0M1477.87 1241.04h0M1451.55 1260.47h0M1475.86 1238.13h0M1472.18 1239.29h0M1454.86 1249.16h0M1472.5 1240.5h0M1478.3 1239.81h0M1451.77 1255.69h0M1456.68 1253.59h0M1452.54 1253.2h0M1456.76 1247.45h0M1460.45 1247.22h0M1467.86 1240.17h0M1452.34 1257.11h0M1469.63 1240.92h0M1466.01 1244.9h0M1451.71 1256.27h0M1462.56 1245.02h0M1478.21 1240.24h0M1468.62 1241.13h0M1473.71 1241.87h0M1455.02 1249.71h0M1454.79 1251.85h0M1477.81 1238.81h0M1467.64 1242.67h0M1480.66 1238.31h0M1472.86 1239.54h0M1452.12 1258.99h0M1475.97 1240.39h0M1452.43 1261.99h0M1459.19 1248.5h0M1470.93 1239.59h0M1459.2 1246.57h0M1449.97 1258h0M1470.77 1240.39h0M1476.97 1237.81h0M1455.46 1249.66h0M1479.86 1241.53h0M1478.06 1240h0M1451.38 1258.43h0M1452.89 1252.14h0M1464.68 1242.3h0M1451.79 1258.49h0M1479.41 1242.25h0M1460.67 1243.95h0M1472.68 1238.47h0M1463.27 1242.01h0M1481.7 1240.59h0M1460.04 1245.47h0M1465.35 1245.61h0M1459.57 1245.5h0M1464.02 1246.15h0M1459.11 1248.56h0" fill="none" stroke="#00e030" stroke-width="1.9" stroke-linecap="round" opacity="0.7" filter="url(#b0)"/>
<path d="M1453.08 1296.74h0M1456.16 1299.75h0M1477.33 1313.24h0M1453.12 1295.61h0M1467.4 1306.77h0M1462.62 1306.23h0M1472.39 1309.34h0M1473.18 1310.85h0M1457.67 1301.08h0M1477.52 1312.5h0M1459.66 1302.39h0M1478.53 1308.57h0M1477.55 1312.68h0M1479.09 1311.24h0M1462.03 1303.72h0M1476.5 1310.06h0M1478.52 1310.62h0M1473.27 1311.43h0M1480.3 1309.76h0M1477.9 1309.74h0M1470.49 1309.62h0M1460.65 1304.76h0M1455.92 1296.5h0M1472.18 1311.34h0M1453.39 1298.81h0M1467.45 1309.42h0M1451.25 1295.11h0M1460.82 1303.29h0M1456.87 1304.18h0M1452.52 1295.86h0M1455.57 1297.97h0M1467.99 1307.46h0M1459.24 1304.4h0M1458.1 1302.22h0M1458.93 1302.38h0M1455.46 1301.48h0M1464.29 1310.04h0M1457.34 1299.54h0M1454.08 1300.49h0M1463.78 1307.13h0M1478.06 1312.49h0M1453.75 1293.32h0M1473.98 1309.2h0M1460.06 1304.87h0M1459.89 1305.66h0M1472.27 1312.97h0M1460.36 1303.95h0M1457.79 1301.89h0M1466.8 1309.7h0M1457.66 1302.6h0M1462.47 1304.65h0M1467.02 1307.81h0" fill="none" stroke="#00e030" stroke-width="1.9" stroke-linecap="round" opacity="0.6" filter="url(#b0)"/>
<path d="M1497.48 1248.04h0M1505.81 1262.33h0M1497.91 1247.3h0M1505.4 1260.69h0M1501.82 1255.17h0M1504.64 1261.98h0M1503.5 1255.56h0M1503.78 1262.23h0M1502.32 1259.01h0M1502.55 1258.62h0M1504.55 1263.15h0M1495.69 1249.16h0M1506.51 1265.63h0M1497.38 1248.32h0M1497.78 1248.92h0M1497.94 1248.35h0M1496.35 1247.65h0M1499.43 1253.03h0M1501.75 1253.32h0" fill="none" stroke="#00e030" stroke-width="1.9" stroke-linecap="round" opacity="0.9" filter="url(#b0)"/>
</g>
<g transform="rotate(20 1538.7 1331)">
<ellipse cx="1538.7" cy="1331" rx="8" ry="11" fill="#000"/>
<ellipse cx="1538.7" cy="1331" rx="4" ry="7" fill="#c80000" opacity="0.7" filter="url(#b1)"/>
<path d="M1540.02 1323.93h0M1535.95 1331.39h0M1543.1 1331.02h0M1534.08 1332.31h0M1535.39 1336.08h0M1538.01 1338.18h0M1538.26 1325.83h0M1534.37 1329.41h0M1540.11 1336.64h0M1539.64 1327.07h0" fill="none" stroke="#0000e0" stroke-width="3.6" stroke-linecap="round" opacity="0.6" filter="url(#b0)"/>
<path d="M1540.34 1323.96h0M1541.77 1324.16h0M1542.7 1334.98h0M1540.5 1323.47h0M1543.44 1335.76h0M1535.02 1324.74h0M1543.58 1328.69h0M1540.22 1338.17h0M1535.76 1336.31h0M1543.11 1326.78h0M1535.65 1325.14h0M1540.25 1324.61h0M1544.07 1332.45h0M1534.25 1326.04h0M1533.73 1326.33h0M1542.5 1325.65h0M1542.42 1336.03h0M1536.52 1338.91h0M1532.94 1331.89h0M1539.87 1337.83h0M1536.79 1322.5h0M1539.75 1322.18h0M1536.39 1337.04h0M1534.67 1325.3h0M1534.81 1336.66h0M1541.85 1335.83h0M1543.76 1333.67h0M1538.57 1322.9h0M1544.29 1329.99h0" fill="none" stroke="#00e030" stroke-width="1.9" stroke-linecap="round" opacity="0.6" filter="url(#b0)"/>
</g>
</g>
<rect x="1522.8" y="1342.7" width="23.2" height="6.3" fill="#fff" stroke="none"/>
<rect x="1568.8" y="1193.5" width="168.2" height="167.7" fill="#000" stroke="none"/>
<g clip-path="url(#ck1)">
<path d="M1729.78 1217.08h0M1572.77 1361.27h0M1599.75 1213.76h0M1678.24 1251.57h0M1718.24 1232.43h0M1729.99 1247.17h0M1669.79 1350.09h0M1683.92 1348.71h0M1687.76 1201.64h0M1716.87 1292.55h0M1620.99 1225.44h0M1711.57 1291.41h0M1726.38 1323.52h0M1730.28 1288.64h0M1686.13 1296.37h0M1612.21 1354.23h0M1621.3 1324.73h0M1729.18 1302.85h0M1592.69 1332.14h0M1680.94 1224.58h0M1577.05 1282.85h0M1574.22 1348.91h0M1653.85 1280.41h0M1637.59 1304.55h0M1722.77 1245.13h0M1631.59 1291.38h0M1618.75 1293.57h0M1660.04 1266.32h0M1681.9 1282.24h0M1583.6 1360.91h0M1628.56 1266.04h0M1636.47 1349.66h0M1728.76 1279.51h0M1636.11 1209.72h0M1719.24 1222.29h0M1660.63 1252.16h0M1623.95 1253.51h0M1600.93 1199.71h0M1658.76 1327.21h0M1677.51 1227.35h0M1685.33 1202.25h0M1637.81 1332.62h0M1723.53 1270.88h0M1711.02 1277.25h0M1656.82 1291.7h0M1735.34 1318.44h0M1648.27 1315.68h0M1676.87 1252.93h0M1700.54 1331.23h0M1671.01 1351.88h0M1571.86 1277.5h0M1675.41 1250.72h0M1597.59 1309.77h0M1641.78 1238.69h0M1575.83 1355.98h0M1627.98 1213.34h0M1605.15 1236.33h0M1714.32 1223.85h0M1615.23 1209.86h0M1647.75 1228.4h0M1626.61 1316.96h0M1724.21 1333.64h0M1575.23 1256.96h0M1711.42 1199.04h0M1602.94 1275.82h0M1633.05 1319.55h0M1689.45 1271.53h0M1610.64 1232.26h0M1613.53 1204.45h0M1680.65 1220.01h0M1718.22 1302.02h0M1578.34 1277.29h0M1670.22 1200.6h0M1650.57 1198.51h0M1697.53 1194.18h0M1674.97 1359.07h0M1710.99 1232.7h0M1658.6 1216.99h0M1626.3 1338.63h0M1706.18 1195.03h0M1632.62 1301.06h0M1598.28 1328.34h0M1718.84 1286.13h0M1629.63 1336.05h0M1654.96 1225.14h0M1615.46 1220.23h0M1709.71 1279.16h0M1685.84 1330.82h0M1732.39 1225.5h0M1636.96 1340.37h0M1696.76 1258.47h0M1678.97 1226.26h0M1595.97 1202h0M1632.59 1233.14h0M1655.77 1356.38h0M1594.48 1287.19h0M1714.06 1294.03h0M1657.37 1322.49h0M1572.47 1352.86h0M1684.13 1329.02h0M1707.44 1210.06h0M1579.99 1223.47h0M1653.6 1351.14h0M1721.56 1262.71h0M1673.37 1317.79h0M1624.64 1356.54h0M1727.02 1315.63h0M1720.24 1328.04h0M1678.37 1247.48h0M1616.07 1233.56h0M1578.44 1349.04h0M1618.92 1197.51h0M1621.9 1210.83h0M1643.59 1249.31h0M1598.28 1273.59h0M1638.49 1252.98h0M1705.43 1245.04h0M1659.73 1340.99h0M1729.92 1256.46h0M1575.6 1353.18h0M1655.18 1230.06h0M1590.34 1233.65h0M1620.96 1216.81h0M1577.03 1360.56h0M1706.6 1212.54h0M1649.56 1328.13h0M1653.55 1205.13h0M1625.86 1257.45h0M1722.44 1291.43h0M1645.91 1299.45h0M1576.97 1308.78h0M1704.54 1306.18h0M1629.43 1241.54h0M1570.51 1207.28h0M1594.77 1269.65h0M1699.55 1229.98h0M1648.15 1300.33h0M1674.55 1196.95h0M1723.45 1291.83h0M1619.75 1233.71h0M1684.55 1350.21h0M1625.47 1260.38h0M1662.4 1222.89h0" fill="none" stroke="#0000ff" stroke-width="3.4" stroke-linecap="round" opacity="0.3" filter="url(#b0)"/>
<path d="M1636.99 1347.65h0M1662.27 1331.77h0M1612.79 1339.44h0M1700.29 1231.37h0M1657.84 1308.06h0M1665.04 1294.63h0M1609.13 1286.56h0M1628.37 1327.56h0M1631.42 1358.05h0M1666.33 1231.76h0M1638.64 1215.02h0M1692.51 1201.22h0M1670.43 1245.25h0M1699.34 1214.8h0M1683.11 1313.45h0M1607.97 1215.38h0M1631.39 1302.53h0M1612.64 1194.98h0M1642.96 1329.36h0M1595.31 1351.54h0M1654.18 1220.47h0M1585.61 1255.79h0M1648.83 1223.01h0M1582.93 1277.71h0M1611.47 1268.15h0M1644.53 1310.65h0M1665.83 1231.86h0M1598.99 1337.76h0M1577.28 1214.19h0M1580.54 1332.32h0M1659.68 1348.69h0M1674.01 1249.85h0M1641.12 1316.54h0M1607.65 1328.41h0M1637.26 1200.58h0M1626.54 1287.63h0M1593.43 1345.61h0M1724.39 1279.4h0M1720.77 1309.41h0M1659.19 1220.06h0M1728.87 1347.99h0M1644.73 1258.16h0M1581.17 1297.52h0M1712.42 1258.83h0M1617.31 1296.47h0M1702.08 1222.01h0M1616.23 1301.41h0M1575.74 1330.72h0M1621.81 1333.3h0M1645.22 1221.31h0M1572.06 1212.53h0M1612.53 1320.77h0M1702.19 1299.55h0M1620.4 1305.06h0M1691.86 1255.22h0M1582.5 1272.28h0M1606.09 1225.19h0M1634.42 1206.05h0M1719.65 1240.67h0M1719.74 1317.38h0M1570.61 1344.57h0M1704.78 1281.77h0M1717.36 1273.86h0M1573.02 1218.69h0M1620.97 1337.65h0M1708.15 1213.31h0M1627.58 1212.24h0M1607.17 1252.66h0M1638.42 1218.68h0M1679.28 1234.18h0M1718.33 1274.38h0M1640.97 1322.16h0M1626.75 1236.64h0M1589.39 1243.02h0M1608.21 1317.01h0M1628.43 1312.25h0M1615.09 1205.24h0M1620.02 1259.47h0M1721.7 1226.98h0M1604.36 1219.7h0M1611.34 1354.84h0M1725.35 1231.73h0M1577.17 1275.23h0M1667.02 1212.26h0M1639.05 1322.63h0M1569.02 1314.22h0M1683.86 1325.62h0M1650.59 1271.44h0M1655.91 1216.4h0M1655.14 1233.73h0M1622.73 1201.02h0M1595.43 1202.78h0M1659.69 1233.2h0M1662.15 1278.1h0M1607.94 1214.85h0M1668.93 1307.17h0M1684.78 1278.79h0M1666.24 1197.62h0M1620.27 1328h0M1632.17 1210.98h0M1639.51 1333.61h0M1585.28 1212.29h0M1652.52 1340.07h0M1634.39 1235.17h0M1697.82 1209.34h0M1618.43 1294.03h0M1711.5 1338.16h0M1623.53 1238.23h0M1629.85 1213.92h0M1614.6 1322.29h0M1733.27 1238.89h0M1580.96 1317.73h0M1731.11 1326.92h0M1638.13 1318.5h0M1696.57 1318.49h0M1651.59 1361.33h0M1699.97 1232.99h0M1641.16 1208.48h0M1631.74 1330.81h0M1650.49 1281.57h0M1699.67 1208.15h0M1628.22 1274.71h0M1651.77 1308.54h0M1726.21 1328.15h0M1660.45 1308.4h0M1659.27 1359.19h0M1669.02 1293.3h0M1635.32 1263.94h0M1697.16 1256.15h0M1720.64 1315.77h0M1729.26 1312.22h0M1664.56 1255.13h0M1571.83 1304.63h0M1695.03 1314.99h0M1696.33 1199.51h0M1683.73 1240.51h0M1634.08 1339.41h0M1636.83 1271.94h0M1577.32 1223.99h0M1604.11 1229.64h0M1656.6 1201.49h0M1583.76 1207.98h0M1692.03 1356.53h0" fill="none" stroke="#0000ff" stroke-width="3.6" stroke-linecap="round" opacity="0.45" filter="url(#b0)"/>
<path d="M1694.81 1280h0M1590.73 1325.21h0M1590.56 1206.4h0M1654.73 1338.38h0M1620.99 1338.54h0M1624.6 1355.86h0M1692.89 1338.81h0M1734.2 1330.73h0M1601.77 1280.18h0M1660.31 1314.86h0M1607.38 1290.43h0M1616.54 1224.45h0M1644.34 1328.49h0M1661.84 1253.07h0M1606.74 1253.8h0M1635.83 1239.14h0M1621.05 1231.67h0M1618.21 1306.62h0M1673.83 1298.77h0M1724.01 1305.36h0M1590.65 1261.32h0M1656.87 1318.89h0M1657.88 1209.1h0M1648.77 1303.56h0M1700.72 1268.42h0M1604.72 1199.18h0M1653.32 1319.48h0M1587.35 1281.36h0M1669.07 1287.57h0M1607.71 1208.96h0M1572.42 1244.78h0M1719.46 1263.94h0M1734.6 1332.01h0M1666.89 1267.4h0M1663.27 1334.6h0M1624.97 1219.73h0M1719.78 1299.51h0M1632.27 1260.68h0M1585.79 1288.8h0M1700.86 1277.27h0M1685.96 1317.57h0M1624.4 1300.65h0M1732.12 1313.71h0M1599.54 1304.81h0M1677.1 1323.8h0M1686.73 1346.8h0M1732.8 1228.7h0M1649.36 1201.14h0M1734.48 1211.41h0M1640.42 1297.05h0M1640.9 1222.32h0M1653.2 1231.02h0M1651.12 1313.64h0M1619.05 1268.53h0M1674.96 1282.85h0M1703.35 1343.26h0M1731.25 1221.24h0M1649.87 1213.34h0M1686.13 1260.04h0M1711.51 1274.71h0M1702.9 1198.67h0M1671.79 1262.95h0M1708.71 1210.83h0M1583.74 1309.03h0M1623.61 1266.56h0M1636.69 1359.06h0M1673.6 1333.39h0M1709.78 1337.61h0M1643.92 1242.23h0M1655.34 1343.75h0M1717.19 1273.82h0M1721.14 1321.6h0M1575.58 1299.95h0M1702.15 1200.83h0M1632.22 1301.92h0M1653.99 1282.54h0M1583.94 1237.46h0M1714.75 1252.17h0M1649.29 1292.68h0M1616.28 1263.11h0M1653.74 1339.47h0M1710.33 1223.22h0M1653.34 1319.83h0M1719.42 1282.66h0M1674.9 1301.96h0M1680.95 1343.6h0" fill="none" stroke="#0000ff" stroke-width="3.4" stroke-linecap="round" opacity="0.7" filter="url(#b0)"/>
<g transform="rotate(-5 1665.3 1289)">
<ellipse cx="1665.3" cy="1289" rx="24.5" ry="34" fill="#000"/>
<ellipse cx="1665.3" cy="1289" rx="20.5" ry="30" fill="#c80000" opacity="0.45" filter="url(#b1)"/>
<path d="M1661.78 1299h0M1662.12 1282.7h0M1653.36 1285.11h0M1678.78 1296.31h0M1678.27 1293.43h0M1670.82 1292.69h0M1648.92 1300.96h0M1672.12 1298.55h0M1651.58 1268.87h0M1654.01 1280.55h0M1669.62 1288.08h0M1672.17 1276.96h0M1669.59 1296.78h0M1658.73 1313.28h0M1671.81 1308.92h0M1657.36 1275.54h0M1660.45 1286.87h0M1673.85 1293.78h0M1659.69 1271.94h0M1659.22 1309.27h0M1654.69 1293.57h0M1669.96 1265.85h0M1665.87 1310.81h0M1646.59 1284.75h0M1663.9 1273.67h0M1672.2 1287.77h0M1649.96 1301.33h0M1673.48 1305.44h0M1681.35 1294.74h0M1666.7 1267.29h0M1673.34 1277.63h0M1660.04 1268.1h0M1653.31 1279.64h0M1675.84 1265.36h0M1649.02 1292.8h0M1681.04 1297.97h0M1653.15 1266.09h0M1670.02 1275.18h0M1652.82 1304.49h0M1678.92 1291.76h0M1668.71 1297.58h0M1681.85 1298.14h0M1672.23 1299.41h0M1650.66 1306.01h0M1677.17 1298.36h0M1647.18 1280.73h0M1673.24 1264.73h0M1662.98 1307.26h0M1653.28 1310h0M1672.89 1286.06h0M1669.66 1301.41h0M1666.77 1308.95h0M1656.51 1281.16h0M1678.4 1289.48h0M1654.92 1304.87h0M1681.4 1282.05h0M1649.46 1286.8h0M1663.2 1283.01h0M1679.74 1273.99h0M1678.05 1270.75h0M1655.32 1300.38h0M1678.13 1302.89h0M1670.16 1291.85h0M1667.39 1300.22h0M1662.81 1294.57h0M1673.18 1289.02h0M1675.11 1299.34h0M1683.99 1293.3h0M1659.42 1281.71h0M1665.13 1305.97h0M1660.63 1296.61h0M1677.05 1265.67h0M1651.53 1293.25h0M1670.85 1293.73h0M1659.57 1301.38h0M1669.17 1278.82h0M1684.84 1293.06h0M1657.67 1287.05h0M1662.09 1287.73h0M1645.58 1283.99h0M1676.34 1270.81h0M1664.44 1306.4h0M1674.16 1310.94h0M1647.8 1283.83h0M1660.71 1300.93h0M1672.88 1262.53h0M1676.23 1268.33h0M1672.55 1266.48h0M1667.42 1309.5h0M1663.18 1292.86h0M1675.84 1291.66h0M1664.33 1312.93h0M1678.34 1283.8h0M1683.87 1277.97h0M1677.04 1284.15h0M1667.08 1302.48h0M1668.31 1301.3h0M1651.63 1269.79h0M1672.85 1272.19h0M1654.93 1267.89h0M1679.48 1300.89h0M1680.41 1275.32h0M1665.31 1269.09h0M1673.11 1312.05h0M1656.32 1311.39h0M1677.84 1285.79h0M1649.26 1305.27h0M1663.98 1277.27h0M1670.8 1297.02h0M1680.33 1274.44h0M1676.48 1309.81h0M1681.59 1286.12h0M1656.45 1306.23h0M1666.94 1291.52h0M1681.35 1284.78h0M1646.01 1284.37h0M1648 1299.86h0M1669.58 1277.26h0M1665.17 1304.59h0M1666.22 1311.02h0M1664.53 1307.61h0M1678.43 1309.15h0M1656.98 1304.49h0M1648.62 1275.3h0M1648.26 1302.2h0M1650.53 1288.78h0M1662.56 1288.42h0M1657.24 1293.53h0M1683.4 1289.64h0M1671.83 1306.51h0M1662.96 1267.78h0M1658.6 1307.42h0M1648.44 1280.29h0M1677.21 1302.33h0M1665.4 1304.15h0M1667.31 1268.68h0M1648.96 1279.5h0M1676.79 1278.98h0M1654.35 1275.7h0M1648.5 1287.17h0M1651.17 1295.2h0M1645.84 1292.84h0M1659.35 1263.4h0M1674.94 1283.79h0" fill="none" stroke="#0000e0" stroke-width="3.6" stroke-linecap="round" opacity="0.6" filter="url(#b0)"/>
<path d="M1645.41 1277.9h0M1677.27 1262.18h0M1681.16 1310.62h0M1685.24 1302.91h0M1684.75 1302.68h0M1669.83 1259.22h0M1677.53 1314.4h0M1653.37 1262.16h0M1681.11 1268.62h0M1669.36 1318.82h0M1647.71 1307.6h0M1686.76 1287.06h0M1676.91 1315.55h0M1643.31 1285.92h0M1672.69 1318.65h0M1661.39 1257.52h0M1644.58 1278.59h0M1687.26 1292.56h0M1649.72 1267.14h0M1684.9 1300.92h0M1670.39 1259.54h0M1682.85 1308.3h0M1686.2 1296.55h0M1662.44 1320.52h0M1646.4 1303.29h0M1674.62 1260.36h0M1677.95 1313.55h0M1645.74 1275.78h0M1684.28 1306h0M1656.98 1260.05h0M1684.5 1302.36h0M1651 1266.09h0M1683.87 1304.34h0M1684.91 1301.41h0M1644.13 1298h0M1645.09 1279.04h0M1662.8 1320.58h0M1643.4 1283.68h0M1682.54 1309.14h0M1686.45 1298.85h0M1656.89 1318.12h0M1666.62 1257.55h0M1643.01 1288.98h0M1652.43 1315.21h0M1665.24 1320.97h0M1662.98 1258.12h0M1673.44 1317.96h0M1685.81 1276.3h0M1674.52 1260.62h0M1643.81 1289.96h0M1648.16 1308.38h0M1657.17 1260.97h0M1653.47 1314.54h0M1659.46 1259.22h0M1647.06 1306.7h0M1686.35 1299.65h0M1684.81 1302.21h0M1664.52 1320.7h0M1683.83 1304.47h0M1680.2 1266.58h0M1660.87 1319.95h0M1659.43 1319.08h0M1677.36 1315.11h0M1663.53 1319.25h0M1686.82 1283.68h0M1666.04 1319.33h0M1657.23 1318.22h0M1687.34 1289.21h0M1643.68 1293.94h0M1671.94 1318.67h0M1687.47 1289.98h0M1683.91 1305.74h0M1687.01 1297.27h0M1657.87 1318.78h0M1646.52 1273.07h0M1665.37 1258.12h0M1660.75 1259.19h0M1648.31 1309.12h0M1687.52 1285.96h0M1661.79 1258.5h0M1685.99 1297.31h0M1682.22 1269.58h0M1663.12 1258.54h0M1679.31 1312.88h0M1643.81 1288.16h0M1672.54 1260.2h0M1646.79 1273.64h0M1656.43 1260.88h0M1668.12 1320.69h0M1680.09 1312.29h0M1682.29 1307.73h0M1645.01 1277.88h0M1650.09 1267.03h0M1642.85 1291.15h0M1671.68 1259.65h0M1643.45 1288.42h0M1653.2 1262.15h0M1663.46 1257.54h0M1685.1 1303.22h0M1662.42 1257.62h0M1663.94 1258.73h0M1643.28 1290.19h0M1643.81 1293.05h0M1667.62 1258.23h0M1651.32 1264.1h0M1678.63 1314.23h0M1664.36 1257.55h0" fill="none" stroke="#00e030" stroke-width="1.9" stroke-linecap="round" opacity="0.7" filter="url(#b0)"/>
<path d="M1659.85 1319.94h0M1671.18 1317.5h0M1658.93 1313.47h0M1658.02 1316.64h0M1661.54 1316.52h0M1662.27 1319.69h0M1653.5 1314.23h0M1654.75 1307.74h0M1671.71 1315.56h0M1657.16 1309.72h0M1662.77 1318.49h0M1667.47 1312.73h0M1667.73 1315.82h0M1669.16 1315.98h0M1652.19 1313.6h0M1655.81 1313.14h0M1655.29 1310.75h0M1667.12 1313.2h0M1661.74 1320.38h0M1671.92 1315.16h0M1662.76 1318.2h0M1669.39 1317.48h0M1665.62 1313.83h0M1671.42 1313.07h0M1654.3 1315.73h0M1654.7 1310.08h0M1653.66 1313.45h0M1664.48 1317.62h0M1653.13 1309.68h0M1664.73 1317.34h0M1666.65 1320.53h0M1669.5 1313.15h0M1666.14 1312.99h0M1667.14 1318.62h0M1661.35 1318.86h0M1664.6 1312.82h0M1655.68 1310.01h0M1660.08 1312.04h0M1653.89 1310.97h0M1656.56 1318.03h0M1657.27 1314.73h0M1657.38 1312.99h0M1666.4 1320.54h0M1652.64 1314.13h0M1662.34 1317.76h0M1665.97 1314.68h0M1652.24 1312.28h0M1658.44 1316.77h0M1660.62 1316.85h0M1669.02 1319.16h0M1667.54 1313.06h0M1661.69 1318.68h0M1655.97 1308.39h0" fill="none" stroke="#00e030" stroke-width="1.9" stroke-linecap="round" opacity="0.8" filter="url(#b0)"/>
<path d="M1682.52 1269.34h0M1680.97 1266.57h0M1681.96 1268.07h0M1680.92 1267.53h0M1681.4 1272.51h0M1683.48 1273.31h0M1681.41 1270.01h0M1681.62 1269.12h0M1679.67 1265.94h0M1685.22 1275.3h0M1681.67 1271.19h0" fill="none" stroke="#00e030" stroke-width="1.9" stroke-linecap="round" opacity="0.9" filter="url(#b0)"/>
</g>
<ellipse cx="1698.8" cy="1361.5" rx="9" ry="4" fill="#d00000" opacity=".8" filter="url(#b1)"/>
</g>
<rect x="1701.2" y="1342.7" width="23.4" height="6.3" fill="#fff" stroke="none"/>
</svg>
</body></html>
